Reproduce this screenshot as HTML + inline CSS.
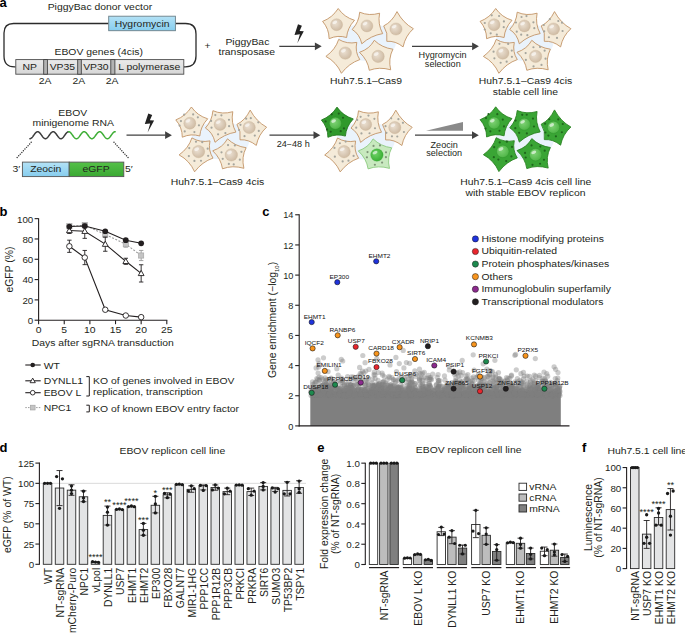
<!DOCTYPE html>
<html><head><meta charset="utf-8"><style>
html,body{margin:0;padding:0;background:#fff;}
svg{display:block;font-family:"Liberation Sans", sans-serif;}
</style></head><body>
<svg width="685" height="633" viewBox="0 0 685 633" fill="#231f20">
<defs>
<linearGradient id="blueg" x1="0" y1="0" x2="0" y2="1"><stop offset="0" stop-color="#b4e2f6"/><stop offset="1" stop-color="#86cdee"/></linearGradient>
<linearGradient id="grayg" x1="0" y1="0" x2="0" y2="1"><stop offset="0" stop-color="#ebebeb"/><stop offset="1" stop-color="#d6d6d6"/></linearGradient>
<linearGradient id="greeng" x1="0" y1="0" x2="0" y2="1"><stop offset="0" stop-color="#55c048"/><stop offset="1" stop-color="#3aa832"/></linearGradient>
<radialGradient id="nucB" cx="0.4" cy="0.4" r="0.65"><stop offset="0" stop-color="#ebe0d2"/><stop offset="1" stop-color="#cdb9a1"/></radialGradient>
<radialGradient id="nucG" cx="0.4" cy="0.4" r="0.65"><stop offset="0" stop-color="#7fd275"/><stop offset="1" stop-color="#4cb444"/></radialGradient>
<radialGradient id="nucG2" cx="0.4" cy="0.4" r="0.65"><stop offset="0" stop-color="#6fd266"/><stop offset="1" stop-color="#36ad31"/></radialGradient>
</defs>
<text x="-0.60" y="6.70" font-size="13" font-weight="bold" fill="#000">a</text>
<text x="47.70" y="9.90" font-size="10.4" transform="matrix(1 0 0 0.93 0 0.693)">PiggyBac donor vector</text>
<path d="M15.6,66.8 L14.5,66.8 Q4,66.8 4,56 L4,33 Q4,23.5 13.5,23.5 L108.5,23.5" fill="none" stroke="#2b2b2b" stroke-width="1.3"/>
<path d="M175.6,23.5 L185.5,23.5 Q196,23.5 196,34 L196,56 Q196,66.8 185.5,66.8 L184,66.8" fill="none" stroke="#2b2b2b" stroke-width="1.3"/>
<rect x="108.70" y="16.20" width="66.70" height="14.50" fill="url(#blueg)" stroke="#6b7f88" stroke-width="0.9"/>
<text x="142.10" y="26.60" font-size="10.4" text-anchor="middle" transform="matrix(1 0 0 0.93 0 1.862)">Hygromycin</text>
<text x="98.70" y="54.60" font-size="10.4" text-anchor="middle" transform="matrix(1 0 0 0.93 0 3.822)">EBOV genes (4cis)</text>
<rect x="15.80" y="59.60" width="168.00" height="14.60" fill="url(#grayg)" stroke="#4d4d4d" stroke-width="0.9"/>
<rect x="43.70" y="59.60" width="3.70" height="14.60" fill="#b3b3b3" stroke="#3d3d3d" stroke-width="0.85"/>
<rect x="77.70" y="59.60" width="3.60" height="14.60" fill="#b3b3b3" stroke="#3d3d3d" stroke-width="0.85"/>
<rect x="110.80" y="59.60" width="4.10" height="14.60" fill="#b3b3b3" stroke="#3d3d3d" stroke-width="0.85"/>
<text x="29.60" y="70.10" font-size="10.4" text-anchor="middle" transform="matrix(1 0 0 0.93 0 4.907)">NP</text>
<text x="62.40" y="70.10" font-size="10.4" text-anchor="middle" transform="matrix(1 0 0 0.93 0 4.907)">VP35</text>
<text x="95.90" y="70.10" font-size="10.4" text-anchor="middle" transform="matrix(1 0 0 0.93 0 4.907)">VP30</text>
<text x="149.20" y="70.10" font-size="10.4" text-anchor="middle" transform="matrix(1 0 0 0.93 0 4.907)">L polymerase</text>
<text x="45.20" y="83.90" font-size="10.4" text-anchor="middle" transform="matrix(1 0 0 0.93 0 5.873)">2A</text>
<text x="78.90" y="83.90" font-size="10.4" text-anchor="middle" transform="matrix(1 0 0 0.93 0 5.873)">2A</text>
<text x="112.10" y="83.90" font-size="10.4" text-anchor="middle" transform="matrix(1 0 0 0.93 0 5.873)">2A</text>
<text x="207.50" y="48.90" font-size="10.4" text-anchor="middle" transform="matrix(1 0 0 0.93 0 3.423)">+</text>
<text x="247.40" y="45.30" font-size="10.4" text-anchor="middle" transform="matrix(1 0 0 0.93 0 3.171)">PiggyBac</text>
<text x="246.80" y="55.00" font-size="10.4" text-anchor="middle" transform="matrix(1 0 0 0.93 0 3.850)">transposase</text>
<path d="M298.00,24.20 L301.90,25.80 L299.60,31.00 L303.80,31.20 L297.30,43.20 L299.90,34.30 L294.50,34.90 Z" fill="#222" stroke="none" stroke-width="1"/>
<line x1="279.30" y1="46.30" x2="315.40" y2="46.30" stroke="#404040" stroke-width="1.3"/>
<path d="M321.70,46.30 L314.90,42.40 L314.90,50.20 Z" fill="#404040" stroke="none" stroke-width="1"/>
<ellipse cx="367.00" cy="42.00" rx="29" ry="19" fill="#eaf3fc"/>
<path d="M338.20,8.50 Q344.23,17.23 354.50,20.30 Q347.34,27.96 346.60,37.50 Q337.94,34.77 329.10,38.70 Q329.06,28.81 322.60,21.40 Q332.43,17.64 338.20,8.50 Z" fill="#f5ebd9" stroke="#bf8f60" stroke-width="0.85" stroke-linejoin="round"/>
<circle cx="336.60" cy="24.70" r="5.99" fill="url(#nucB)" stroke="#c7b093" stroke-width="0.35"/>
<ellipse cx="334.80" cy="22.42" rx="2.52" ry="1.56" fill="#ffffff" opacity="0.6" transform="rotate(-25 334.80 22.42)"/>
<path d="M359.70,12.20 Q369.01,16.28 379.60,13.20 Q377.52,24.20 382.70,33.60 Q370.94,35.52 361.80,43.80 Q359.65,34.00 352.20,29.50 Q358.88,22.31 359.70,12.20 Z" fill="#f5ebd9" stroke="#bf8f60" stroke-width="0.85" stroke-linejoin="round"/>
<circle cx="366.90" cy="25.90" r="5.99" fill="url(#nucB)" stroke="#c7b093" stroke-width="0.35"/>
<ellipse cx="365.10" cy="23.62" rx="2.52" ry="1.56" fill="#ffffff" opacity="0.6" transform="rotate(-25 365.10 23.62)"/>
<path d="M397.00,11.60 Q403.02,22.94 413.40,28.70 Q405.27,36.00 403.10,46.90 Q395.43,40.66 386.80,41.30 Q388.25,32.89 383.70,25.90 Q392.03,21.90 397.00,11.60 Z" fill="#f5ebd9" stroke="#bf8f60" stroke-width="0.85" stroke-linejoin="round"/>
<circle cx="396.00" cy="29.00" r="6.10" fill="url(#nucB)" stroke="#c7b093" stroke-width="0.35"/>
<ellipse cx="394.17" cy="26.68" rx="2.56" ry="1.59" fill="#ffffff" opacity="0.6" transform="rotate(-25 394.17 26.68)"/>
<path d="M338.70,39.40 Q346.91,44.36 356.80,42.40 Q354.72,51.84 359.80,59.60 Q349.02,63.27 341.40,73.30 Q336.48,62.09 325.90,56.40 Q335.48,49.54 338.70,39.40 Z" fill="#f5ebd9" stroke="#bf8f60" stroke-width="0.85" stroke-linejoin="round"/>
<circle cx="345.30" cy="53.10" r="6.21" fill="url(#nucB)" stroke="#c7b093" stroke-width="0.35"/>
<ellipse cx="343.44" cy="50.74" rx="2.61" ry="1.61" fill="#ffffff" opacity="0.6" transform="rotate(-25 343.44 50.74)"/>
<path d="M374.30,40.30 Q381.97,47.77 392.90,49.20 Q388.04,58.69 390.70,69.80 Q379.31,66.50 369.30,70.30 Q367.76,60.02 359.50,52.30 Q369.61,48.92 374.30,40.30 Z" fill="#f5ebd9" stroke="#bf8f60" stroke-width="0.85" stroke-linejoin="round"/>
<circle cx="378.10" cy="56.40" r="6.21" fill="url(#nucB)" stroke="#c7b093" stroke-width="0.35"/>
<ellipse cx="376.24" cy="54.04" rx="2.61" ry="1.61" fill="#ffffff" opacity="0.6" transform="rotate(-25 376.24 54.04)"/>
<text x="366.00" y="84.50" font-size="10.4" text-anchor="middle" transform="matrix(1 0 0 0.93 0 5.915)">Huh7.5.1–Cas9</text>
<line x1="412.00" y1="46.30" x2="472.60" y2="46.30" stroke="#404040" stroke-width="1.3"/>
<path d="M478.90,46.30 L472.10,42.40 L472.10,50.20 Z" fill="#404040" stroke="none" stroke-width="1"/>
<text x="442.60" y="58.20" font-size="9.1" text-anchor="middle" transform="matrix(1 0 0 0.93 0 4.074)">Hygromycin</text>
<text x="442.80" y="66.60" font-size="9.1" text-anchor="middle" transform="matrix(1 0 0 0.93 0 4.662)">selection</text>
<ellipse cx="524.50" cy="42.00" rx="29" ry="19" fill="#eaf3fc"/>
<path d="M495.70,8.50 Q501.73,17.23 512.00,20.30 Q504.84,27.96 504.10,37.50 Q495.44,34.77 486.60,38.70 Q486.56,28.81 480.10,21.40 Q489.93,17.64 495.70,8.50 Z" fill="#f5ebd9" stroke="#bf8f60" stroke-width="0.85" stroke-linejoin="round"/>
<circle cx="499.07" cy="16.00" r="1.10" fill="#a5a59d" stroke="none" stroke-width="1"/>
<circle cx="503.91" cy="21.40" r="1.10" fill="#a5a59d" stroke="none" stroke-width="1"/>
<circle cx="503.74" cy="27.15" r="1.10" fill="#a5a59d" stroke="none" stroke-width="1"/>
<circle cx="496.81" cy="34.64" r="1.10" fill="#a5a59d" stroke="none" stroke-width="1"/>
<circle cx="490.67" cy="33.29" r="1.10" fill="#a5a59d" stroke="none" stroke-width="1"/>
<circle cx="484.77" cy="29.48" r="1.10" fill="#a5a59d" stroke="none" stroke-width="1"/>
<circle cx="484.79" cy="22.98" r="1.10" fill="#a5a59d" stroke="none" stroke-width="1"/>
<circle cx="491.73" cy="15.33" r="1.10" fill="#a5a59d" stroke="none" stroke-width="1"/>
<circle cx="494.10" cy="24.70" r="5.99" fill="url(#nucB)" stroke="#c7b093" stroke-width="0.35"/>
<ellipse cx="492.30" cy="22.42" rx="2.52" ry="1.56" fill="#ffffff" opacity="0.6" transform="rotate(-25 492.30 22.42)"/>
<path d="M517.20,12.20 Q526.51,16.28 537.10,13.20 Q535.02,24.20 540.20,33.60 Q528.44,35.52 519.30,43.80 Q517.15,34.00 509.70,29.50 Q516.38,22.31 517.20,12.20 Z" fill="#f5ebd9" stroke="#bf8f60" stroke-width="0.85" stroke-linejoin="round"/>
<circle cx="526.48" cy="16.09" r="1.10" fill="#a5a59d" stroke="none" stroke-width="1"/>
<circle cx="533.42" cy="22.30" r="1.10" fill="#a5a59d" stroke="none" stroke-width="1"/>
<circle cx="534.31" cy="28.22" r="1.10" fill="#a5a59d" stroke="none" stroke-width="1"/>
<circle cx="527.35" cy="35.20" r="1.10" fill="#a5a59d" stroke="none" stroke-width="1"/>
<circle cx="521.18" cy="34.68" r="1.10" fill="#a5a59d" stroke="none" stroke-width="1"/>
<circle cx="516.77" cy="31.64" r="1.10" fill="#a5a59d" stroke="none" stroke-width="1"/>
<circle cx="515.97" cy="22.49" r="1.10" fill="#a5a59d" stroke="none" stroke-width="1"/>
<circle cx="521.52" cy="17.01" r="1.10" fill="#a5a59d" stroke="none" stroke-width="1"/>
<circle cx="524.40" cy="25.90" r="5.99" fill="url(#nucB)" stroke="#c7b093" stroke-width="0.35"/>
<ellipse cx="522.60" cy="23.62" rx="2.52" ry="1.56" fill="#ffffff" opacity="0.6" transform="rotate(-25 522.60 23.62)"/>
<path d="M554.50,11.60 Q560.52,22.94 570.90,28.70 Q562.77,36.00 560.60,46.90 Q552.93,40.66 544.30,41.30 Q545.75,32.89 541.20,25.90 Q549.53,21.90 554.50,11.60 Z" fill="#f5ebd9" stroke="#bf8f60" stroke-width="0.85" stroke-linejoin="round"/>
<circle cx="558.29" cy="21.02" r="1.10" fill="#a5a59d" stroke="none" stroke-width="1"/>
<circle cx="562.03" cy="22.71" r="1.10" fill="#a5a59d" stroke="none" stroke-width="1"/>
<circle cx="562.56" cy="31.00" r="1.10" fill="#a5a59d" stroke="none" stroke-width="1"/>
<circle cx="557.00" cy="37.96" r="1.10" fill="#a5a59d" stroke="none" stroke-width="1"/>
<circle cx="548.87" cy="37.23" r="1.10" fill="#a5a59d" stroke="none" stroke-width="1"/>
<circle cx="544.21" cy="31.31" r="1.10" fill="#a5a59d" stroke="none" stroke-width="1"/>
<circle cx="543.80" cy="25.00" r="1.10" fill="#a5a59d" stroke="none" stroke-width="1"/>
<circle cx="549.82" cy="19.18" r="1.10" fill="#a5a59d" stroke="none" stroke-width="1"/>
<circle cx="553.50" cy="29.00" r="6.10" fill="url(#nucB)" stroke="#c7b093" stroke-width="0.35"/>
<ellipse cx="551.67" cy="26.68" rx="2.56" ry="1.59" fill="#ffffff" opacity="0.6" transform="rotate(-25 551.67 26.68)"/>
<path d="M496.20,39.40 Q504.41,44.36 514.30,42.40 Q512.22,51.84 517.30,59.60 Q506.52,63.27 498.90,73.30 Q493.98,62.09 483.40,56.40 Q492.98,49.54 496.20,39.40 Z" fill="#f5ebd9" stroke="#bf8f60" stroke-width="0.85" stroke-linejoin="round"/>
<circle cx="508.15" cy="43.91" r="1.10" fill="#a5a59d" stroke="none" stroke-width="1"/>
<circle cx="511.79" cy="50.59" r="1.10" fill="#a5a59d" stroke="none" stroke-width="1"/>
<circle cx="511.91" cy="56.82" r="1.10" fill="#a5a59d" stroke="none" stroke-width="1"/>
<circle cx="506.67" cy="61.67" r="1.10" fill="#a5a59d" stroke="none" stroke-width="1"/>
<circle cx="500.64" cy="62.73" r="1.10" fill="#a5a59d" stroke="none" stroke-width="1"/>
<circle cx="494.39" cy="58.30" r="1.10" fill="#a5a59d" stroke="none" stroke-width="1"/>
<circle cx="493.57" cy="51.71" r="1.10" fill="#a5a59d" stroke="none" stroke-width="1"/>
<circle cx="499.44" cy="43.85" r="1.10" fill="#a5a59d" stroke="none" stroke-width="1"/>
<circle cx="502.80" cy="53.10" r="6.21" fill="url(#nucB)" stroke="#c7b093" stroke-width="0.35"/>
<ellipse cx="500.94" cy="50.74" rx="2.61" ry="1.61" fill="#ffffff" opacity="0.6" transform="rotate(-25 500.94 50.74)"/>
<path d="M531.80,40.30 Q539.47,47.77 550.40,49.20 Q545.54,58.69 548.20,69.80 Q536.81,66.50 526.80,70.30 Q525.26,60.02 517.00,52.30 Q527.11,48.92 531.80,40.30 Z" fill="#f5ebd9" stroke="#bf8f60" stroke-width="0.85" stroke-linejoin="round"/>
<circle cx="540.04" cy="46.92" r="1.10" fill="#a5a59d" stroke="none" stroke-width="1"/>
<circle cx="544.62" cy="50.63" r="1.10" fill="#a5a59d" stroke="none" stroke-width="1"/>
<circle cx="545.56" cy="58.64" r="1.10" fill="#a5a59d" stroke="none" stroke-width="1"/>
<circle cx="541.50" cy="64.89" r="1.10" fill="#a5a59d" stroke="none" stroke-width="1"/>
<circle cx="533.53" cy="66.46" r="1.10" fill="#a5a59d" stroke="none" stroke-width="1"/>
<circle cx="525.85" cy="59.88" r="1.10" fill="#a5a59d" stroke="none" stroke-width="1"/>
<circle cx="525.64" cy="53.05" r="1.10" fill="#a5a59d" stroke="none" stroke-width="1"/>
<circle cx="533.44" cy="47.27" r="1.10" fill="#a5a59d" stroke="none" stroke-width="1"/>
<circle cx="535.60" cy="56.40" r="6.21" fill="url(#nucB)" stroke="#c7b093" stroke-width="0.35"/>
<ellipse cx="533.74" cy="54.04" rx="2.61" ry="1.61" fill="#ffffff" opacity="0.6" transform="rotate(-25 533.74 54.04)"/>
<text x="525.50" y="84.30" font-size="10.4" text-anchor="middle" transform="matrix(1 0 0 0.93 0 5.901)">Huh7.5.1–Cas9 4cis</text>
<text x="525.40" y="94.90" font-size="10.4" text-anchor="middle" transform="matrix(1 0 0 0.93 0 6.643)">stable cell line</text>
<text x="72.80" y="115.70" font-size="10.4" text-anchor="middle" transform="matrix(1 0 0 0.93 0 8.099)">EBOV</text>
<text x="73.20" y="126.00" font-size="10.4" text-anchor="middle" transform="matrix(1 0 0 0.93 0 8.820)">minigenome RNA</text>
<path d="M29.90,138.70 L30.23,138.67 L30.56,138.57 L30.89,138.42 L31.22,138.21 L31.55,137.94 L31.88,137.63 L32.22,137.27 L32.55,136.87 L32.88,136.45 L33.21,136.00 L33.54,135.54 L33.87,135.07 L34.20,134.60 L34.53,134.14 L34.86,133.71 L35.19,133.30 L35.52,132.92 L35.85,132.59 L36.18,132.30 L36.52,132.06 L36.85,131.88 L37.18,131.76 L37.51,131.71 L37.84,131.71 L38.17,131.78 L38.50,131.91 L38.83,132.09 L39.16,132.34 L39.49,132.63 L39.82,132.97 L40.15,133.35 L40.48,133.77 L40.82,134.21 L41.15,134.66 L41.48,135.13 L41.81,135.60 L42.14,136.06 L42.47,136.51 L42.80,136.93 L43.13,137.32 L43.46,137.67 L43.79,137.98 L44.12,138.24 L44.45,138.45 L44.78,138.59 L45.12,138.68 L45.45,138.70 L45.78,138.66 L46.11,138.56 L46.44,138.39 L46.77,138.17 L47.10,137.90 L47.43,137.58 L47.76,137.22 L48.09,136.81 L48.42,136.38 L48.75,135.93 L49.08,135.47 L49.42,135.00 L49.75,134.54 L50.08,134.08 L50.41,133.65 L50.74,133.24 L51.07,132.87 L51.40,132.54 L51.73,132.26 L52.06,132.04 L52.39,131.86 L52.72,131.75 L53.05,131.70 L53.38,131.72 L53.72,131.79 L54.05,131.93 L54.38,132.12 L54.71,132.37 L55.04,132.68 L55.37,133.02 L55.70,133.41 L56.03,133.83 L56.36,134.27 L56.69,134.73 L57.02,135.20 L57.35,135.67 L57.68,136.12 L58.02,136.57 L58.35,136.99 L58.68,137.37 L59.01,137.72 L59.34,138.02 L59.67,138.27 L60.00,138.47 L60.33,138.61 L60.66,138.68 L60.99,138.70 L61.32,138.65 L61.65,138.54 L61.98,138.37 L62.32,138.14 L62.65,137.86 L62.98,137.53 L63.31,137.16 L63.64,136.76 L63.97,136.32 L64.30,135.87 L64.63,135.40 L64.96,134.94 L65.29,134.47 L65.62,134.02 L65.95,133.59 L66.28,133.19 L66.62,132.82 L66.95,132.50 L67.28,132.23 L67.61,132.01 L67.94,131.84 L68.27,131.74 L68.60,131.70" fill="none" stroke="#3d3d3d" stroke-width="1.5" stroke-linecap="round"/>
<path d="M68.60,131.70 L68.93,131.72 L69.27,131.81 L69.60,131.96 L69.93,132.16 L70.26,132.42 L70.60,132.73 L70.93,133.09 L71.26,133.49 L71.60,133.91 L71.93,134.36 L72.26,134.83 L72.59,135.30 L72.93,135.77 L73.26,136.23 L73.59,136.67 L73.93,137.08 L74.26,137.46 L74.59,137.80 L74.92,138.09 L75.26,138.33 L75.59,138.51 L75.92,138.63 L76.26,138.69 L76.59,138.69 L76.92,138.62 L77.25,138.49 L77.59,138.30 L77.92,138.06 L78.25,137.76 L78.59,137.41 L78.92,137.03 L79.25,136.61 L79.58,136.17 L79.92,135.71 L80.25,135.24 L80.58,134.76 L80.92,134.30 L81.25,133.85 L81.58,133.43 L81.91,133.04 L82.25,132.69 L82.58,132.39 L82.91,132.13 L83.25,131.93 L83.58,131.79 L83.91,131.72 L84.24,131.70 L84.58,131.75 L84.91,131.86 L85.24,132.04 L85.58,132.27 L85.91,132.55 L86.24,132.88 L86.57,133.26 L86.91,133.67 L87.24,134.10 L87.57,134.56 L87.91,135.03 L88.24,135.50 L88.57,135.97 L88.90,136.42 L89.24,136.85 L89.57,137.25 L89.90,137.61 L90.24,137.93 L90.57,138.20 L90.90,138.42 L91.23,138.57 L91.57,138.67 L91.90,138.70 L92.23,138.67 L92.57,138.57 L92.90,138.42 L93.23,138.20 L93.56,137.93 L93.90,137.61 L94.23,137.25 L94.56,136.85 L94.90,136.42 L95.23,135.97 L95.56,135.50 L95.89,135.03 L96.23,134.56 L96.56,134.10 L96.89,133.67 L97.23,133.26 L97.56,132.88 L97.89,132.55 L98.22,132.27 L98.56,132.04 L98.89,131.86 L99.22,131.75 L99.56,131.70 L99.89,131.72 L100.22,131.79 L100.55,131.93 L100.89,132.13 L101.22,132.39 L101.55,132.69 L101.89,133.04 L102.22,133.43 L102.55,133.85 L102.88,134.30 L103.22,134.76 L103.55,135.24 L103.88,135.71 L104.22,136.17 L104.55,136.61 L104.88,137.03 L105.21,137.41 L105.55,137.76 L105.88,138.06 L106.21,138.30 L106.55,138.49 L106.88,138.62 L107.21,138.69 L107.54,138.69 L107.88,138.63 L108.21,138.51 L108.54,138.33 L108.88,138.09 L109.21,137.80 L109.54,137.46 L109.87,137.08 L110.21,136.67 L110.54,136.23 L110.87,135.77 L111.21,135.30 L111.54,134.83 L111.87,134.36 L112.20,133.91 L112.54,133.49 L112.87,133.09 L113.20,132.73 L113.54,132.42 L113.87,132.16 L114.20,131.96 L114.53,131.81 L114.87,131.72 L115.20,131.70" fill="none" stroke="#3fae37" stroke-width="1.5" stroke-linecap="round"/>
<line x1="31.20" y1="142.30" x2="15.60" y2="159.20" stroke="#333" stroke-width="1.45" stroke-dasharray="0 2.3" stroke-linecap="round"/>
<line x1="114.00" y1="142.30" x2="129.60" y2="159.20" stroke="#333" stroke-width="1.45" stroke-dasharray="0 2.3" stroke-linecap="round"/>
<rect x="22.40" y="162.10" width="46.80" height="14.50" fill="url(#blueg)" stroke="#555" stroke-width="0.9"/>
<rect x="69.20" y="162.10" width="54.60" height="14.50" fill="url(#greeng)" stroke="#555" stroke-width="0.9"/>
<text x="45.80" y="172.50" font-size="10.4" text-anchor="middle" transform="matrix(1 0 0 0.93 0 12.075)">Zeocin</text>
<text x="96.00" y="172.50" font-size="10.4" text-anchor="middle" transform="matrix(1 0 0 0.93 0 12.075)">eGFP</text>
<text x="12.60" y="172.50" font-size="10.4" transform="matrix(1 0 0 0.93 0 12.075)">3′</text>
<text x="125.00" y="172.50" font-size="10.4" transform="matrix(1 0 0 0.93 0 12.075)">5′</text>
<path d="M148.30,113.40 L152.20,115.00 L149.90,120.20 L154.10,120.40 L147.60,132.40 L150.20,123.50 L144.80,124.10 Z" fill="#222" stroke="none" stroke-width="1"/>
<line x1="126.50" y1="135.20" x2="165.60" y2="135.20" stroke="#404040" stroke-width="1.3"/>
<path d="M171.90,135.20 L165.10,131.30 L165.10,139.10 Z" fill="#404040" stroke="none" stroke-width="1"/>
<ellipse cx="220.20" cy="140.50" rx="29" ry="19" fill="#eaf3fc"/>
<path d="M191.40,107.00 Q197.43,115.73 207.70,118.80 Q200.54,126.46 199.80,136.00 Q191.14,133.27 182.30,137.20 Q182.26,127.31 175.80,119.90 Q185.63,116.14 191.40,107.00 Z" fill="#f5ebd9" stroke="#bf8f60" stroke-width="0.85" stroke-linejoin="round"/>
<circle cx="193.17" cy="114.40" r="1.10" fill="#a5a59d" stroke="none" stroke-width="1"/>
<circle cx="197.84" cy="117.30" r="1.10" fill="#a5a59d" stroke="none" stroke-width="1"/>
<circle cx="198.94" cy="125.32" r="1.10" fill="#a5a59d" stroke="none" stroke-width="1"/>
<circle cx="194.39" cy="132.03" r="1.10" fill="#a5a59d" stroke="none" stroke-width="1"/>
<circle cx="184.71" cy="131.44" r="1.10" fill="#a5a59d" stroke="none" stroke-width="1"/>
<circle cx="179.59" cy="125.59" r="1.10" fill="#a5a59d" stroke="none" stroke-width="1"/>
<circle cx="180.96" cy="121.03" r="1.10" fill="#a5a59d" stroke="none" stroke-width="1"/>
<circle cx="184.19" cy="114.62" r="1.10" fill="#a5a59d" stroke="none" stroke-width="1"/>
<circle cx="189.80" cy="123.20" r="5.99" fill="url(#nucB)" stroke="#c7b093" stroke-width="0.35"/>
<ellipse cx="188.00" cy="120.92" rx="2.52" ry="1.56" fill="#ffffff" opacity="0.6" transform="rotate(-25 188.00 120.92)"/>
<path d="M212.90,110.70 Q222.21,114.78 232.80,111.70 Q230.72,122.70 235.90,132.10 Q224.14,134.02 215.00,142.30 Q212.85,132.50 205.40,128.00 Q212.07,120.81 212.90,110.70 Z" fill="#f5ebd9" stroke="#bf8f60" stroke-width="0.85" stroke-linejoin="round"/>
<circle cx="221.42" cy="115.34" r="1.10" fill="#a5a59d" stroke="none" stroke-width="1"/>
<circle cx="228.98" cy="119.76" r="1.10" fill="#a5a59d" stroke="none" stroke-width="1"/>
<circle cx="229.08" cy="126.20" r="1.10" fill="#a5a59d" stroke="none" stroke-width="1"/>
<circle cx="225.38" cy="133.04" r="1.10" fill="#a5a59d" stroke="none" stroke-width="1"/>
<circle cx="218.08" cy="134.30" r="1.10" fill="#a5a59d" stroke="none" stroke-width="1"/>
<circle cx="211.52" cy="127.71" r="1.10" fill="#a5a59d" stroke="none" stroke-width="1"/>
<circle cx="211.07" cy="120.96" r="1.10" fill="#a5a59d" stroke="none" stroke-width="1"/>
<circle cx="215.32" cy="115.06" r="1.10" fill="#a5a59d" stroke="none" stroke-width="1"/>
<circle cx="220.10" cy="124.40" r="5.99" fill="url(#nucB)" stroke="#c7b093" stroke-width="0.35"/>
<ellipse cx="218.30" cy="122.12" rx="2.52" ry="1.56" fill="#ffffff" opacity="0.6" transform="rotate(-25 218.30 122.12)"/>
<path d="M250.20,110.10 Q256.22,121.44 266.60,127.20 Q258.47,134.50 256.30,145.40 Q248.63,139.16 240.00,139.80 Q241.45,131.39 236.90,124.40 Q245.23,120.40 250.20,110.10 Z" fill="#f5ebd9" stroke="#bf8f60" stroke-width="0.85" stroke-linejoin="round"/>
<circle cx="250.81" cy="118.22" r="1.10" fill="#a5a59d" stroke="none" stroke-width="1"/>
<circle cx="258.27" cy="122.32" r="1.10" fill="#a5a59d" stroke="none" stroke-width="1"/>
<circle cx="258.77" cy="130.97" r="1.10" fill="#a5a59d" stroke="none" stroke-width="1"/>
<circle cx="254.80" cy="135.62" r="1.10" fill="#a5a59d" stroke="none" stroke-width="1"/>
<circle cx="244.52" cy="136.21" r="1.10" fill="#a5a59d" stroke="none" stroke-width="1"/>
<circle cx="239.10" cy="130.08" r="1.10" fill="#a5a59d" stroke="none" stroke-width="1"/>
<circle cx="240.49" cy="124.85" r="1.10" fill="#a5a59d" stroke="none" stroke-width="1"/>
<circle cx="246.20" cy="118.71" r="1.10" fill="#a5a59d" stroke="none" stroke-width="1"/>
<circle cx="249.20" cy="127.50" r="6.10" fill="url(#nucB)" stroke="#c7b093" stroke-width="0.35"/>
<ellipse cx="247.37" cy="125.18" rx="2.56" ry="1.59" fill="#ffffff" opacity="0.6" transform="rotate(-25 247.37 125.18)"/>
<path d="M191.90,137.90 Q200.11,142.86 210.00,140.90 Q207.92,150.34 213.00,158.10 Q202.22,161.77 194.60,171.80 Q189.68,160.59 179.10,154.90 Q188.68,148.04 191.90,137.90 Z" fill="#f5ebd9" stroke="#bf8f60" stroke-width="0.85" stroke-linejoin="round"/>
<circle cx="202.25" cy="142.16" r="1.10" fill="#a5a59d" stroke="none" stroke-width="1"/>
<circle cx="207.68" cy="148.72" r="1.10" fill="#a5a59d" stroke="none" stroke-width="1"/>
<circle cx="208.16" cy="155.83" r="1.10" fill="#a5a59d" stroke="none" stroke-width="1"/>
<circle cx="200.99" cy="160.75" r="1.10" fill="#a5a59d" stroke="none" stroke-width="1"/>
<circle cx="194.44" cy="160.88" r="1.10" fill="#a5a59d" stroke="none" stroke-width="1"/>
<circle cx="188.84" cy="156.09" r="1.10" fill="#a5a59d" stroke="none" stroke-width="1"/>
<circle cx="189.26" cy="148.11" r="1.10" fill="#a5a59d" stroke="none" stroke-width="1"/>
<circle cx="195.98" cy="141.76" r="1.10" fill="#a5a59d" stroke="none" stroke-width="1"/>
<circle cx="198.50" cy="151.60" r="6.21" fill="url(#nucB)" stroke="#c7b093" stroke-width="0.35"/>
<ellipse cx="196.64" cy="149.24" rx="2.61" ry="1.61" fill="#ffffff" opacity="0.6" transform="rotate(-25 196.64 149.24)"/>
<path d="M227.50,138.80 Q235.17,146.27 246.10,147.70 Q241.24,157.19 243.90,168.30 Q232.51,165.00 222.50,168.80 Q220.96,158.52 212.70,150.80 Q222.81,147.42 227.50,138.80 Z" fill="#f5ebd9" stroke="#bf8f60" stroke-width="0.85" stroke-linejoin="round"/>
<circle cx="234.86" cy="145.47" r="1.10" fill="#a5a59d" stroke="none" stroke-width="1"/>
<circle cx="241.41" cy="151.86" r="1.10" fill="#a5a59d" stroke="none" stroke-width="1"/>
<circle cx="239.82" cy="159.65" r="1.10" fill="#a5a59d" stroke="none" stroke-width="1"/>
<circle cx="233.72" cy="164.44" r="1.10" fill="#a5a59d" stroke="none" stroke-width="1"/>
<circle cx="228.83" cy="163.91" r="1.10" fill="#a5a59d" stroke="none" stroke-width="1"/>
<circle cx="222.73" cy="158.85" r="1.10" fill="#a5a59d" stroke="none" stroke-width="1"/>
<circle cx="221.50" cy="152.35" r="1.10" fill="#a5a59d" stroke="none" stroke-width="1"/>
<circle cx="228.04" cy="145.09" r="1.10" fill="#a5a59d" stroke="none" stroke-width="1"/>
<circle cx="231.30" cy="154.90" r="6.21" fill="url(#nucB)" stroke="#c7b093" stroke-width="0.35"/>
<ellipse cx="229.44" cy="152.54" rx="2.61" ry="1.61" fill="#ffffff" opacity="0.6" transform="rotate(-25 229.44 152.54)"/>
<text x="217.50" y="184.80" font-size="10.4" text-anchor="middle" transform="matrix(1 0 0 0.93 0 12.936)">Huh7.5.1–Cas9 4cis</text>
<line x1="269.50" y1="135.20" x2="314.00" y2="135.20" stroke="#404040" stroke-width="1.3"/>
<path d="M320.30,135.20 L313.50,131.30 L313.50,139.10 Z" fill="#404040" stroke="none" stroke-width="1"/>
<text x="293.20" y="147.20" font-size="9.1" text-anchor="middle" transform="matrix(1 0 0 0.93 0 10.304)">24−48 h</text>
<ellipse cx="365.80" cy="140.60" rx="29" ry="19" fill="#eaf3fc"/>
<path d="M337.00,107.10 Q343.03,115.83 353.30,118.90 Q346.14,126.56 345.40,136.10 Q336.74,133.37 327.90,137.30 Q327.86,127.41 321.40,120.00 Q331.23,116.24 337.00,107.10 Z" fill="#30992c" stroke="#24781f" stroke-width="0.85" stroke-linejoin="round"/>
<circle cx="338.76" cy="113.55" r="1.10" fill="#1f5f1c" stroke="none" stroke-width="1"/>
<circle cx="342.99" cy="117.73" r="1.10" fill="#1f5f1c" stroke="none" stroke-width="1"/>
<circle cx="343.95" cy="128.46" r="1.10" fill="#1f5f1c" stroke="none" stroke-width="1"/>
<circle cx="340.71" cy="131.20" r="1.10" fill="#1f5f1c" stroke="none" stroke-width="1"/>
<circle cx="330.70" cy="131.73" r="1.10" fill="#1f5f1c" stroke="none" stroke-width="1"/>
<circle cx="327.07" cy="129.42" r="1.10" fill="#1f5f1c" stroke="none" stroke-width="1"/>
<circle cx="325.63" cy="121.38" r="1.10" fill="#1f5f1c" stroke="none" stroke-width="1"/>
<circle cx="331.75" cy="114.33" r="1.10" fill="#1f5f1c" stroke="none" stroke-width="1"/>
<circle cx="335.40" cy="123.30" r="5.99" fill="url(#nucG)" stroke="#2a8a26" stroke-width="0.35"/>
<ellipse cx="333.60" cy="121.02" rx="2.52" ry="1.56" fill="#ffffff" opacity="0.6" transform="rotate(-25 333.60 121.02)"/>
<path d="M358.50,110.80 Q367.81,114.88 378.40,111.80 Q376.32,122.80 381.50,132.20 Q369.74,134.12 360.60,142.40 Q358.45,132.60 351.00,128.10 Q357.68,120.91 358.50,110.80 Z" fill="#f5ebd9" stroke="#bf8f60" stroke-width="0.85" stroke-linejoin="round"/>
<circle cx="368.45" cy="115.58" r="1.10" fill="#a5a59d" stroke="none" stroke-width="1"/>
<circle cx="374.39" cy="118.85" r="1.10" fill="#a5a59d" stroke="none" stroke-width="1"/>
<circle cx="375.01" cy="128.24" r="1.10" fill="#a5a59d" stroke="none" stroke-width="1"/>
<circle cx="369.55" cy="133.26" r="1.10" fill="#a5a59d" stroke="none" stroke-width="1"/>
<circle cx="361.45" cy="133.39" r="1.10" fill="#a5a59d" stroke="none" stroke-width="1"/>
<circle cx="356.22" cy="127.63" r="1.10" fill="#a5a59d" stroke="none" stroke-width="1"/>
<circle cx="357.19" cy="119.95" r="1.10" fill="#a5a59d" stroke="none" stroke-width="1"/>
<circle cx="360.64" cy="116.79" r="1.10" fill="#a5a59d" stroke="none" stroke-width="1"/>
<circle cx="365.70" cy="124.50" r="5.99" fill="url(#nucB)" stroke="#c7b093" stroke-width="0.35"/>
<ellipse cx="363.90" cy="122.22" rx="2.52" ry="1.56" fill="#ffffff" opacity="0.6" transform="rotate(-25 363.90 122.22)"/>
<path d="M395.80,110.20 Q401.82,121.54 412.20,127.30 Q404.07,134.60 401.90,145.50 Q394.23,139.26 385.60,139.90 Q387.05,131.49 382.50,124.50 Q390.83,120.50 395.80,110.20 Z" fill="#f5ebd9" stroke="#bf8f60" stroke-width="0.85" stroke-linejoin="round"/>
<circle cx="398.42" cy="119.21" r="1.10" fill="#a5a59d" stroke="none" stroke-width="1"/>
<circle cx="402.94" cy="122.83" r="1.10" fill="#a5a59d" stroke="none" stroke-width="1"/>
<circle cx="403.92" cy="131.98" r="1.10" fill="#a5a59d" stroke="none" stroke-width="1"/>
<circle cx="397.28" cy="136.49" r="1.10" fill="#a5a59d" stroke="none" stroke-width="1"/>
<circle cx="391.96" cy="136.29" r="1.10" fill="#a5a59d" stroke="none" stroke-width="1"/>
<circle cx="386.42" cy="132.79" r="1.10" fill="#a5a59d" stroke="none" stroke-width="1"/>
<circle cx="385.51" cy="126.19" r="1.10" fill="#a5a59d" stroke="none" stroke-width="1"/>
<circle cx="391.18" cy="118.37" r="1.10" fill="#a5a59d" stroke="none" stroke-width="1"/>
<circle cx="394.80" cy="127.60" r="6.10" fill="url(#nucB)" stroke="#c7b093" stroke-width="0.35"/>
<ellipse cx="392.97" cy="125.28" rx="2.56" ry="1.59" fill="#ffffff" opacity="0.6" transform="rotate(-25 392.97 125.28)"/>
<path d="M337.50,138.00 Q345.71,142.96 355.60,141.00 Q353.52,150.44 358.60,158.20 Q347.82,161.87 340.20,171.90 Q335.28,160.69 324.70,155.00 Q334.28,148.14 337.50,138.00 Z" fill="#f5ebd9" stroke="#bf8f60" stroke-width="0.85" stroke-linejoin="round"/>
<circle cx="345.69" cy="141.57" r="1.10" fill="#a5a59d" stroke="none" stroke-width="1"/>
<circle cx="352.35" cy="146.23" r="1.10" fill="#a5a59d" stroke="none" stroke-width="1"/>
<circle cx="353.59" cy="155.95" r="1.10" fill="#a5a59d" stroke="none" stroke-width="1"/>
<circle cx="348.48" cy="160.64" r="1.10" fill="#a5a59d" stroke="none" stroke-width="1"/>
<circle cx="342.65" cy="161.45" r="1.10" fill="#a5a59d" stroke="none" stroke-width="1"/>
<circle cx="334.85" cy="156.63" r="1.10" fill="#a5a59d" stroke="none" stroke-width="1"/>
<circle cx="334.46" cy="147.97" r="1.10" fill="#a5a59d" stroke="none" stroke-width="1"/>
<circle cx="339.86" cy="143.23" r="1.10" fill="#a5a59d" stroke="none" stroke-width="1"/>
<circle cx="344.10" cy="151.70" r="6.21" fill="url(#nucB)" stroke="#c7b093" stroke-width="0.35"/>
<ellipse cx="342.24" cy="149.34" rx="2.61" ry="1.61" fill="#ffffff" opacity="0.6" transform="rotate(-25 342.24 149.34)"/>
<path d="M373.10,138.90 Q380.77,146.37 391.70,147.80 Q386.84,157.29 389.50,168.40 Q378.11,165.10 368.10,168.90 Q366.56,158.62 358.30,150.90 Q368.41,147.52 373.10,138.90 Z" fill="#c8e9bf" stroke="#86c878" stroke-width="0.85" stroke-linejoin="round"/>
<circle cx="379.96" cy="145.46" r="1.10" fill="#7f9478" stroke="none" stroke-width="1"/>
<circle cx="385.99" cy="152.34" r="1.10" fill="#7f9478" stroke="none" stroke-width="1"/>
<circle cx="385.90" cy="157.14" r="1.10" fill="#7f9478" stroke="none" stroke-width="1"/>
<circle cx="382.08" cy="162.62" r="1.10" fill="#7f9478" stroke="none" stroke-width="1"/>
<circle cx="374.87" cy="164.77" r="1.10" fill="#7f9478" stroke="none" stroke-width="1"/>
<circle cx="366.93" cy="157.35" r="1.10" fill="#7f9478" stroke="none" stroke-width="1"/>
<circle cx="367.52" cy="152.12" r="1.10" fill="#7f9478" stroke="none" stroke-width="1"/>
<circle cx="373.52" cy="145.91" r="1.10" fill="#7f9478" stroke="none" stroke-width="1"/>
<circle cx="376.90" cy="155.00" r="6.21" fill="url(#nucG2)" stroke="#38a834" stroke-width="0.35"/>
<ellipse cx="375.04" cy="152.64" rx="2.61" ry="1.61" fill="#ffffff" opacity="0.6" transform="rotate(-25 375.04 152.64)"/>
<line x1="415.00" y1="135.20" x2="472.50" y2="135.20" stroke="#404040" stroke-width="1.3"/>
<path d="M478.80,135.20 L472.00,131.30 L472.00,139.10 Z" fill="#404040" stroke="none" stroke-width="1"/>
<path d="M426,130.8 L463,130.8 L463,122 Z" fill="#8a8a8a" stroke="none" stroke-width="1"/>
<text x="444.20" y="147.60" font-size="9.1" text-anchor="middle" transform="matrix(1 0 0 0.93 0 10.332)">Zeocin</text>
<text x="444.20" y="156.10" font-size="9.1" text-anchor="middle" transform="matrix(1 0 0 0.93 0 10.927)">selection</text>
<ellipse cx="524.50" cy="140.30" rx="29" ry="19" fill="#eaf3fc"/>
<path d="M495.70,106.80 Q501.73,115.53 512.00,118.60 Q504.84,126.26 504.10,135.80 Q495.44,133.07 486.60,137.00 Q486.56,127.11 480.10,119.70 Q489.93,115.94 495.70,106.80 Z" fill="#3aa535" stroke="#27801f" stroke-width="0.85" stroke-linejoin="round"/>
<circle cx="497.30" cy="114.17" r="1.10" fill="#1f661c" stroke="none" stroke-width="1"/>
<circle cx="502.79" cy="119.54" r="1.10" fill="#1f661c" stroke="none" stroke-width="1"/>
<circle cx="503.96" cy="126.46" r="1.10" fill="#1f661c" stroke="none" stroke-width="1"/>
<circle cx="499.52" cy="130.76" r="1.10" fill="#1f661c" stroke="none" stroke-width="1"/>
<circle cx="490.36" cy="131.32" r="1.10" fill="#1f661c" stroke="none" stroke-width="1"/>
<circle cx="485.55" cy="128.62" r="1.10" fill="#1f661c" stroke="none" stroke-width="1"/>
<circle cx="486.03" cy="118.05" r="1.10" fill="#1f661c" stroke="none" stroke-width="1"/>
<circle cx="488.49" cy="114.18" r="1.10" fill="#1f661c" stroke="none" stroke-width="1"/>
<circle cx="494.10" cy="123.00" r="5.99" fill="url(#nucG)" stroke="#2a8a26" stroke-width="0.35"/>
<ellipse cx="492.30" cy="120.72" rx="2.52" ry="1.56" fill="#ffffff" opacity="0.6" transform="rotate(-25 492.30 120.72)"/>
<path d="M517.20,110.50 Q526.51,114.58 537.10,111.50 Q535.02,122.50 540.20,131.90 Q528.44,133.82 519.30,142.10 Q517.15,132.30 509.70,127.80 Q516.38,120.61 517.20,110.50 Z" fill="#3aa535" stroke="#27801f" stroke-width="0.85" stroke-linejoin="round"/>
<circle cx="526.73" cy="114.74" r="1.10" fill="#1f661c" stroke="none" stroke-width="1"/>
<circle cx="532.96" cy="118.61" r="1.10" fill="#1f661c" stroke="none" stroke-width="1"/>
<circle cx="533.95" cy="126.50" r="1.10" fill="#1f661c" stroke="none" stroke-width="1"/>
<circle cx="526.84" cy="133.47" r="1.10" fill="#1f661c" stroke="none" stroke-width="1"/>
<circle cx="519.17" cy="132.83" r="1.10" fill="#1f661c" stroke="none" stroke-width="1"/>
<circle cx="515.31" cy="128.22" r="1.10" fill="#1f661c" stroke="none" stroke-width="1"/>
<circle cx="515.57" cy="120.62" r="1.10" fill="#1f661c" stroke="none" stroke-width="1"/>
<circle cx="522.23" cy="114.85" r="1.10" fill="#1f661c" stroke="none" stroke-width="1"/>
<circle cx="524.40" cy="124.20" r="5.99" fill="url(#nucG)" stroke="#2a8a26" stroke-width="0.35"/>
<ellipse cx="522.60" cy="121.92" rx="2.52" ry="1.56" fill="#ffffff" opacity="0.6" transform="rotate(-25 522.60 121.92)"/>
<path d="M554.50,109.90 Q560.52,121.24 570.90,127.00 Q562.77,134.30 560.60,145.20 Q552.93,138.96 544.30,139.60 Q545.75,131.19 541.20,124.20 Q549.53,120.20 554.50,109.90 Z" fill="#3aa535" stroke="#27801f" stroke-width="0.85" stroke-linejoin="round"/>
<circle cx="558.29" cy="119.47" r="1.10" fill="#1f661c" stroke="none" stroke-width="1"/>
<circle cx="562.76" cy="124.01" r="1.10" fill="#1f661c" stroke="none" stroke-width="1"/>
<circle cx="561.86" cy="132.24" r="1.10" fill="#1f661c" stroke="none" stroke-width="1"/>
<circle cx="555.91" cy="136.32" r="1.10" fill="#1f661c" stroke="none" stroke-width="1"/>
<circle cx="548.37" cy="135.55" r="1.10" fill="#1f661c" stroke="none" stroke-width="1"/>
<circle cx="545.40" cy="132.48" r="1.10" fill="#1f661c" stroke="none" stroke-width="1"/>
<circle cx="545.09" cy="123.70" r="1.10" fill="#1f661c" stroke="none" stroke-width="1"/>
<circle cx="549.26" cy="119.23" r="1.10" fill="#1f661c" stroke="none" stroke-width="1"/>
<circle cx="553.50" cy="127.30" r="6.10" fill="url(#nucG)" stroke="#2a8a26" stroke-width="0.35"/>
<ellipse cx="551.67" cy="124.98" rx="2.56" ry="1.59" fill="#ffffff" opacity="0.6" transform="rotate(-25 551.67 124.98)"/>
<path d="M496.20,137.70 Q504.41,142.66 514.30,140.70 Q512.22,150.14 517.30,157.90 Q506.52,161.57 498.90,171.60 Q493.98,160.39 483.40,154.70 Q492.98,147.84 496.20,137.70 Z" fill="#3aa535" stroke="#27801f" stroke-width="0.85" stroke-linejoin="round"/>
<circle cx="506.89" cy="141.68" r="1.10" fill="#1f661c" stroke="none" stroke-width="1"/>
<circle cx="512.03" cy="146.89" r="1.10" fill="#1f661c" stroke="none" stroke-width="1"/>
<circle cx="511.41" cy="156.47" r="1.10" fill="#1f661c" stroke="none" stroke-width="1"/>
<circle cx="506.22" cy="161.11" r="1.10" fill="#1f661c" stroke="none" stroke-width="1"/>
<circle cx="498.37" cy="159.53" r="1.10" fill="#1f661c" stroke="none" stroke-width="1"/>
<circle cx="493.82" cy="157.22" r="1.10" fill="#1f661c" stroke="none" stroke-width="1"/>
<circle cx="494.17" cy="147.20" r="1.10" fill="#1f661c" stroke="none" stroke-width="1"/>
<circle cx="499.69" cy="142.47" r="1.10" fill="#1f661c" stroke="none" stroke-width="1"/>
<circle cx="502.80" cy="151.40" r="6.21" fill="url(#nucG)" stroke="#2a8a26" stroke-width="0.35"/>
<ellipse cx="500.94" cy="149.04" rx="2.61" ry="1.61" fill="#ffffff" opacity="0.6" transform="rotate(-25 500.94 149.04)"/>
<path d="M531.80,138.60 Q539.47,146.07 550.40,147.50 Q545.54,156.99 548.20,168.10 Q536.81,164.80 526.80,168.60 Q525.26,158.32 517.00,150.60 Q527.11,147.22 531.80,138.60 Z" fill="#3aa535" stroke="#27801f" stroke-width="0.85" stroke-linejoin="round"/>
<circle cx="540.30" cy="146.54" r="1.10" fill="#1f661c" stroke="none" stroke-width="1"/>
<circle cx="544.70" cy="150.72" r="1.10" fill="#1f661c" stroke="none" stroke-width="1"/>
<circle cx="543.98" cy="159.74" r="1.10" fill="#1f661c" stroke="none" stroke-width="1"/>
<circle cx="540.06" cy="163.73" r="1.10" fill="#1f661c" stroke="none" stroke-width="1"/>
<circle cx="532.48" cy="164.80" r="1.10" fill="#1f661c" stroke="none" stroke-width="1"/>
<circle cx="525.70" cy="157.52" r="1.10" fill="#1f661c" stroke="none" stroke-width="1"/>
<circle cx="525.05" cy="152.96" r="1.10" fill="#1f661c" stroke="none" stroke-width="1"/>
<circle cx="531.52" cy="145.46" r="1.10" fill="#1f661c" stroke="none" stroke-width="1"/>
<circle cx="535.60" cy="154.70" r="6.21" fill="url(#nucG)" stroke="#2a8a26" stroke-width="0.35"/>
<ellipse cx="533.74" cy="152.34" rx="2.61" ry="1.61" fill="#ffffff" opacity="0.6" transform="rotate(-25 533.74 152.34)"/>
<text x="525.70" y="184.80" font-size="10.4" text-anchor="middle" transform="matrix(1 0 0 0.93 0 12.936)">Huh7.5.1–Cas9 4cis cell line</text>
<text x="525.50" y="196.10" font-size="10.4" text-anchor="middle" transform="matrix(1 0 0 0.93 0 13.727)">with stable EBOV replicon</text>
<text x="-0.60" y="215.80" font-size="13" font-weight="bold" fill="#000">b</text>
<line x1="38.60" y1="218.30" x2="38.60" y2="320.70" stroke="#231f20" stroke-width="1.1"/>
<line x1="38.10" y1="320.20" x2="167.30" y2="320.20" stroke="#231f20" stroke-width="1.1"/>
<line x1="34.60" y1="320.20" x2="38.60" y2="320.20" stroke="#231f20" stroke-width="1.1"/>
<text x="33.30" y="324.10" font-size="9.8" text-anchor="end" transform="matrix(1 0 0 0.93 0 22.687)">0</text>
<line x1="34.60" y1="299.89" x2="38.60" y2="299.89" stroke="#231f20" stroke-width="1.1"/>
<text x="33.30" y="303.79" font-size="9.8" text-anchor="end" transform="matrix(1 0 0 0.93 0 21.265)">20</text>
<line x1="34.60" y1="279.58" x2="38.60" y2="279.58" stroke="#231f20" stroke-width="1.1"/>
<text x="33.30" y="283.48" font-size="9.8" text-anchor="end" transform="matrix(1 0 0 0.93 0 19.844)">40</text>
<line x1="34.60" y1="259.27" x2="38.60" y2="259.27" stroke="#231f20" stroke-width="1.1"/>
<text x="33.30" y="263.17" font-size="9.8" text-anchor="end" transform="matrix(1 0 0 0.93 0 18.422)">60</text>
<line x1="34.60" y1="238.96" x2="38.60" y2="238.96" stroke="#231f20" stroke-width="1.1"/>
<text x="33.30" y="242.86" font-size="9.8" text-anchor="end" transform="matrix(1 0 0 0.93 0 17.000)">80</text>
<line x1="34.60" y1="218.65" x2="38.60" y2="218.65" stroke="#231f20" stroke-width="1.1"/>
<text x="33.30" y="222.55" font-size="9.8" text-anchor="end" transform="matrix(1 0 0 0.93 0 15.578)">100</text>
<line x1="38.60" y1="320.20" x2="38.60" y2="324.20" stroke="#231f20" stroke-width="1.1"/>
<text x="38.60" y="333.40" font-size="10.4" text-anchor="middle" transform="matrix(1 0 0 0.93 0 23.338)">0</text>
<line x1="64.24" y1="320.20" x2="64.24" y2="324.20" stroke="#231f20" stroke-width="1.1"/>
<text x="64.24" y="333.40" font-size="10.4" text-anchor="middle" transform="matrix(1 0 0 0.93 0 23.338)">5</text>
<line x1="89.88" y1="320.20" x2="89.88" y2="324.20" stroke="#231f20" stroke-width="1.1"/>
<text x="89.88" y="333.40" font-size="10.4" text-anchor="middle" transform="matrix(1 0 0 0.93 0 23.338)">10</text>
<line x1="115.52" y1="320.20" x2="115.52" y2="324.20" stroke="#231f20" stroke-width="1.1"/>
<text x="115.52" y="333.40" font-size="10.4" text-anchor="middle" transform="matrix(1 0 0 0.93 0 23.338)">15</text>
<line x1="141.16" y1="320.20" x2="141.16" y2="324.20" stroke="#231f20" stroke-width="1.1"/>
<text x="141.16" y="333.40" font-size="10.4" text-anchor="middle" transform="matrix(1 0 0 0.93 0 23.338)">20</text>
<line x1="166.80" y1="320.20" x2="166.80" y2="324.20" stroke="#231f20" stroke-width="1.1"/>
<text x="166.80" y="333.40" font-size="10.4" text-anchor="middle" transform="matrix(1 0 0 0.93 0 23.338)">25</text>
<text x="102.80" y="346.20" font-size="10.4" text-anchor="middle" transform="matrix(1 0 0 0.93 0 24.234)">Days after sgRNA transduction</text>
<text x="13.00" y="269.50" font-size="10.4" text-anchor="middle" transform="rotate(-90 13.00 269.50)">eGFP (%)</text>
<line x1="69.37" y1="224.74" x2="69.37" y2="227.79" stroke="#9a9a9a" stroke-width="0.9"/>
<line x1="67.17" y1="224.74" x2="71.57" y2="224.74" stroke="#9a9a9a" stroke-width="0.9"/>
<line x1="67.17" y1="227.79" x2="71.57" y2="227.79" stroke="#9a9a9a" stroke-width="0.9"/>
<line x1="84.75" y1="223.22" x2="84.75" y2="227.28" stroke="#9a9a9a" stroke-width="0.9"/>
<line x1="82.55" y1="223.22" x2="86.95" y2="223.22" stroke="#9a9a9a" stroke-width="0.9"/>
<line x1="82.55" y1="227.28" x2="86.95" y2="227.28" stroke="#9a9a9a" stroke-width="0.9"/>
<line x1="105.26" y1="231.45" x2="105.26" y2="237.54" stroke="#9a9a9a" stroke-width="0.9"/>
<line x1="103.06" y1="231.45" x2="107.46" y2="231.45" stroke="#9a9a9a" stroke-width="0.9"/>
<line x1="103.06" y1="237.54" x2="107.46" y2="237.54" stroke="#9a9a9a" stroke-width="0.9"/>
<line x1="125.78" y1="241.09" x2="125.78" y2="247.19" stroke="#9a9a9a" stroke-width="0.9"/>
<line x1="123.58" y1="241.09" x2="127.98" y2="241.09" stroke="#9a9a9a" stroke-width="0.9"/>
<line x1="123.58" y1="247.19" x2="127.98" y2="247.19" stroke="#9a9a9a" stroke-width="0.9"/>
<line x1="141.16" y1="250.44" x2="141.16" y2="260.59" stroke="#9a9a9a" stroke-width="0.9"/>
<line x1="138.96" y1="250.44" x2="143.36" y2="250.44" stroke="#9a9a9a" stroke-width="0.9"/>
<line x1="138.96" y1="260.59" x2="143.36" y2="260.59" stroke="#9a9a9a" stroke-width="0.9"/>
<polyline points="69.37,226.27 84.75,225.25 105.26,234.49 125.78,244.14 141.16,255.51" fill="none" stroke="#9a9a9a" stroke-width="1.1" stroke-dasharray="2 1.5"/>
<rect x="66.77" y="223.67" width="5.20" height="5.20" fill="#c4c4c4" stroke="#a0a0a0" stroke-width="0.6"/>
<rect x="82.15" y="222.65" width="5.20" height="5.20" fill="#c4c4c4" stroke="#a0a0a0" stroke-width="0.6"/>
<rect x="102.66" y="231.89" width="5.20" height="5.20" fill="#c4c4c4" stroke="#a0a0a0" stroke-width="0.6"/>
<rect x="123.18" y="241.54" width="5.20" height="5.20" fill="#c4c4c4" stroke="#a0a0a0" stroke-width="0.6"/>
<rect x="138.56" y="252.91" width="5.20" height="5.20" fill="#c4c4c4" stroke="#a0a0a0" stroke-width="0.6"/>
<line x1="69.37" y1="227.38" x2="69.37" y2="233.48" stroke="#231f20" stroke-width="0.9"/>
<line x1="67.17" y1="227.38" x2="71.57" y2="227.38" stroke="#231f20" stroke-width="0.9"/>
<line x1="67.17" y1="233.48" x2="71.57" y2="233.48" stroke="#231f20" stroke-width="0.9"/>
<line x1="84.75" y1="224.13" x2="84.75" y2="238.35" stroke="#231f20" stroke-width="0.9"/>
<line x1="82.55" y1="224.13" x2="86.95" y2="224.13" stroke="#231f20" stroke-width="0.9"/>
<line x1="82.55" y1="238.35" x2="86.95" y2="238.35" stroke="#231f20" stroke-width="0.9"/>
<line x1="105.26" y1="237.03" x2="105.26" y2="251.25" stroke="#231f20" stroke-width="0.9"/>
<line x1="103.06" y1="237.03" x2="107.46" y2="237.03" stroke="#231f20" stroke-width="0.9"/>
<line x1="103.06" y1="251.25" x2="107.46" y2="251.25" stroke="#231f20" stroke-width="0.9"/>
<line x1="125.78" y1="258.25" x2="125.78" y2="264.35" stroke="#231f20" stroke-width="0.9"/>
<line x1="123.58" y1="258.25" x2="127.98" y2="258.25" stroke="#231f20" stroke-width="0.9"/>
<line x1="123.58" y1="264.35" x2="127.98" y2="264.35" stroke="#231f20" stroke-width="0.9"/>
<line x1="141.16" y1="264.75" x2="141.16" y2="282.02" stroke="#231f20" stroke-width="0.9"/>
<line x1="138.96" y1="264.75" x2="143.36" y2="264.75" stroke="#231f20" stroke-width="0.9"/>
<line x1="138.96" y1="282.02" x2="143.36" y2="282.02" stroke="#231f20" stroke-width="0.9"/>
<line x1="69.37" y1="240.18" x2="69.37" y2="252.36" stroke="#231f20" stroke-width="0.9"/>
<line x1="67.17" y1="240.18" x2="71.57" y2="240.18" stroke="#231f20" stroke-width="0.9"/>
<line x1="67.17" y1="252.36" x2="71.57" y2="252.36" stroke="#231f20" stroke-width="0.9"/>
<line x1="84.75" y1="250.44" x2="84.75" y2="264.65" stroke="#231f20" stroke-width="0.9"/>
<line x1="82.55" y1="250.44" x2="86.95" y2="250.44" stroke="#231f20" stroke-width="0.9"/>
<line x1="82.55" y1="264.65" x2="86.95" y2="264.65" stroke="#231f20" stroke-width="0.9"/>
<line x1="105.26" y1="308.72" x2="105.26" y2="310.76" stroke="#231f20" stroke-width="0.9"/>
<line x1="103.06" y1="308.72" x2="107.46" y2="308.72" stroke="#231f20" stroke-width="0.9"/>
<line x1="103.06" y1="310.76" x2="107.46" y2="310.76" stroke="#231f20" stroke-width="0.9"/>
<line x1="125.78" y1="314.51" x2="125.78" y2="316.54" stroke="#231f20" stroke-width="0.9"/>
<line x1="123.58" y1="314.51" x2="127.98" y2="314.51" stroke="#231f20" stroke-width="0.9"/>
<line x1="123.58" y1="316.54" x2="127.98" y2="316.54" stroke="#231f20" stroke-width="0.9"/>
<line x1="141.16" y1="316.14" x2="141.16" y2="318.17" stroke="#231f20" stroke-width="0.9"/>
<line x1="138.96" y1="316.14" x2="143.36" y2="316.14" stroke="#231f20" stroke-width="0.9"/>
<line x1="138.96" y1="318.17" x2="143.36" y2="318.17" stroke="#231f20" stroke-width="0.9"/>
<polyline points="69.37,230.43 84.75,231.24 105.26,244.14 125.78,261.30 141.16,273.39" fill="none" stroke="#231f20" stroke-width="1.1"/>
<polyline points="69.37,246.27 84.75,257.54 105.26,309.74 125.78,315.53 141.16,317.15" fill="none" stroke="#231f20" stroke-width="1.1"/>
<polyline points="69.37,226.57 84.75,226.06 105.26,231.24 125.78,240.18 141.16,243.33" fill="none" stroke="#231f20" stroke-width="1.1"/>
<path d="M69.37,227.43 L72.27,232.63 L66.47,232.63 Z" fill="#fff" stroke="#231f20" stroke-width="0.9"/>
<path d="M84.75,228.24 L87.65,233.44 L81.85,233.44 Z" fill="#fff" stroke="#231f20" stroke-width="0.9"/>
<path d="M105.26,241.14 L108.16,246.34 L102.36,246.34 Z" fill="#fff" stroke="#231f20" stroke-width="0.9"/>
<path d="M125.78,258.30 L128.68,263.50 L122.88,263.50 Z" fill="#fff" stroke="#231f20" stroke-width="0.9"/>
<path d="M141.16,270.39 L144.06,275.59 L138.26,275.59 Z" fill="#fff" stroke="#231f20" stroke-width="0.9"/>
<circle cx="69.37" cy="246.27" r="2.75" fill="#fff" stroke="#231f20" stroke-width="0.9"/>
<circle cx="84.75" cy="257.54" r="2.75" fill="#fff" stroke="#231f20" stroke-width="0.9"/>
<circle cx="105.26" cy="309.74" r="2.75" fill="#fff" stroke="#231f20" stroke-width="0.9"/>
<circle cx="125.78" cy="315.53" r="2.75" fill="#fff" stroke="#231f20" stroke-width="0.9"/>
<circle cx="141.16" cy="317.15" r="2.75" fill="#fff" stroke="#231f20" stroke-width="0.9"/>
<circle cx="69.37" cy="226.57" r="2.85" fill="#231f20" stroke="none" stroke-width="1"/>
<circle cx="84.75" cy="226.06" r="2.85" fill="#231f20" stroke="none" stroke-width="1"/>
<circle cx="105.26" cy="231.24" r="2.85" fill="#231f20" stroke="none" stroke-width="1"/>
<circle cx="125.78" cy="240.18" r="2.85" fill="#231f20" stroke="none" stroke-width="1"/>
<circle cx="141.16" cy="243.33" r="2.85" fill="#231f20" stroke="none" stroke-width="1"/>
<line x1="25.30" y1="365.00" x2="40.70" y2="365.00" stroke="#231f20" stroke-width="1.1"/>
<circle cx="32.70" cy="365.00" r="2.30" fill="#231f20" stroke="none" stroke-width="1"/>
<line x1="25.30" y1="380.80" x2="40.70" y2="380.80" stroke="#231f20" stroke-width="1.1"/>
<path d="M32.7,378.10 L35.3,382.70 L30.1,382.70 Z" fill="#fff" stroke="#231f20" stroke-width="0.9"/>
<line x1="25.30" y1="392.70" x2="40.70" y2="392.70" stroke="#231f20" stroke-width="1.1"/>
<circle cx="32.70" cy="392.70" r="2.30" fill="#fff" stroke="#231f20" stroke-width="0.9"/>
<line x1="25.30" y1="407.60" x2="40.70" y2="407.60" stroke="#9a9a9a" stroke-width="1.0" stroke-dasharray="1.5 1.2"/>
<rect x="30.30" y="405.20" width="4.80" height="4.80" fill="#c4c4c4" stroke="#a0a0a0" stroke-width="0.6"/>
<text x="43.70" y="368.80" font-size="10.4" transform="matrix(1 0 0 0.93 0 25.816)">WT</text>
<text x="43.70" y="384.40" font-size="10.4" transform="matrix(1 0 0 0.93 0 26.908)">DYNLL1</text>
<text x="43.70" y="396.30" font-size="10.4" transform="matrix(1 0 0 0.93 0 27.741)">EBOV L</text>
<text x="43.70" y="411.20" font-size="10.4" transform="matrix(1 0 0 0.93 0 28.784)">NPC1</text>
<path d="M86.3,376.6 L89.3,376.6 L89.3,396 L86.3,396" fill="none" stroke="#231f20" stroke-width="1.0"/>
<path d="M86.3,405.2 L89.3,405.2 L89.3,411.9 L86.3,411.9" fill="none" stroke="#231f20" stroke-width="1.0"/>
<text x="93.00" y="384.10" font-size="10.4" transform="matrix(1 0 0 0.93 0 26.887)">KO of genes involved in EBOV</text>
<text x="93.00" y="395.20" font-size="10.4" transform="matrix(1 0 0 0.93 0 27.664)">replication, transcription</text>
<text x="93.00" y="412.10" font-size="10.4" transform="matrix(1 0 0 0.93 0 28.847)">KO of known EBOV entry factor</text>
<text x="262.20" y="215.60" font-size="13" font-weight="bold" fill="#000">c</text>
<rect x="310.3" y="391.22" width="250.5" height="34.68" fill="#7f7f7f"/>
<g fill="#7f7f7f" fill-opacity="0.4"><circle cx="342.9" cy="382.4" r="2.6"/><circle cx="435.4" cy="390.2" r="2.6"/><circle cx="460.9" cy="392.8" r="2.6"/><circle cx="318.0" cy="394.7" r="2.6"/><circle cx="347.7" cy="393.3" r="2.6"/><circle cx="542.4" cy="381.2" r="2.6"/><circle cx="328.4" cy="394.6" r="2.6"/><circle cx="343.2" cy="395.6" r="2.6"/><circle cx="547.4" cy="386.7" r="2.6"/><circle cx="466.0" cy="379.3" r="2.6"/><circle cx="402.9" cy="386.5" r="2.6"/><circle cx="438.4" cy="387.1" r="2.6"/><circle cx="476.2" cy="390.2" r="2.6"/><circle cx="379.5" cy="393.0" r="2.6"/><circle cx="345.2" cy="395.2" r="2.6"/><circle cx="507.4" cy="380.0" r="2.6"/><circle cx="478.1" cy="392.1" r="2.6"/><circle cx="438.6" cy="386.0" r="2.6"/><circle cx="514.6" cy="391.3" r="2.6"/><circle cx="447.8" cy="395.5" r="2.6"/><circle cx="555.5" cy="390.5" r="2.6"/><circle cx="361.8" cy="389.5" r="2.6"/><circle cx="449.0" cy="387.4" r="2.6"/><circle cx="431.5" cy="393.1" r="2.6"/><circle cx="398.9" cy="389.9" r="2.6"/><circle cx="458.4" cy="375.9" r="2.6"/><circle cx="369.5" cy="391.0" r="2.6"/><circle cx="510.9" cy="385.9" r="2.6"/><circle cx="527.2" cy="376.1" r="2.6"/><circle cx="342.9" cy="380.1" r="2.6"/><circle cx="427.3" cy="393.2" r="2.6"/><circle cx="379.9" cy="391.0" r="2.6"/><circle cx="331.5" cy="387.8" r="2.6"/><circle cx="534.3" cy="375.0" r="2.6"/><circle cx="418.1" cy="394.5" r="2.6"/><circle cx="347.6" cy="376.5" r="2.6"/><circle cx="478.8" cy="389.7" r="2.6"/><circle cx="361.3" cy="389.1" r="2.6"/><circle cx="535.7" cy="376.2" r="2.6"/><circle cx="365.0" cy="391.1" r="2.6"/><circle cx="319.1" cy="391.2" r="2.6"/><circle cx="360.9" cy="391.6" r="2.6"/><circle cx="397.1" cy="387.8" r="2.6"/><circle cx="427.8" cy="393.0" r="2.6"/><circle cx="536.9" cy="394.5" r="2.6"/><circle cx="484.8" cy="385.0" r="2.6"/><circle cx="395.5" cy="380.9" r="2.6"/><circle cx="315.0" cy="389.8" r="2.6"/><circle cx="350.7" cy="385.4" r="2.6"/><circle cx="559.4" cy="387.0" r="2.6"/><circle cx="425.5" cy="394.7" r="2.6"/><circle cx="483.2" cy="391.5" r="2.6"/><circle cx="324.4" cy="388.4" r="2.6"/><circle cx="319.3" cy="380.4" r="2.6"/><circle cx="521.8" cy="389.7" r="2.6"/><circle cx="457.5" cy="383.6" r="2.6"/><circle cx="387.8" cy="388.6" r="2.6"/><circle cx="390.0" cy="391.1" r="2.6"/><circle cx="333.1" cy="395.4" r="2.6"/><circle cx="353.9" cy="394.2" r="2.6"/><circle cx="316.9" cy="395.3" r="2.6"/><circle cx="520.2" cy="391.1" r="2.6"/><circle cx="427.1" cy="394.8" r="2.6"/><circle cx="342.5" cy="380.1" r="2.6"/><circle cx="495.2" cy="393.7" r="2.6"/><circle cx="359.6" cy="367.4" r="2.6"/><circle cx="326.2" cy="393.3" r="2.6"/><circle cx="460.1" cy="394.9" r="2.6"/><circle cx="534.3" cy="394.8" r="2.6"/><circle cx="317.5" cy="392.3" r="2.6"/><circle cx="511.7" cy="386.7" r="2.6"/><circle cx="358.2" cy="389.0" r="2.6"/><circle cx="334.0" cy="393.9" r="2.6"/><circle cx="315.3" cy="394.1" r="2.6"/><circle cx="383.9" cy="395.4" r="2.6"/><circle cx="492.2" cy="393.7" r="2.6"/><circle cx="433.8" cy="394.0" r="2.6"/><circle cx="523.6" cy="394.5" r="2.6"/><circle cx="365.0" cy="389.6" r="2.6"/><circle cx="389.4" cy="388.0" r="2.6"/><circle cx="375.2" cy="378.5" r="2.6"/><circle cx="554.9" cy="394.4" r="2.6"/><circle cx="545.6" cy="384.7" r="2.6"/><circle cx="395.8" cy="389.8" r="2.6"/><circle cx="419.6" cy="373.3" r="2.6"/><circle cx="389.2" cy="394.8" r="2.6"/><circle cx="497.1" cy="383.1" r="2.6"/><circle cx="320.8" cy="386.0" r="2.6"/><circle cx="327.6" cy="393.9" r="2.6"/><circle cx="411.6" cy="381.1" r="2.6"/><circle cx="372.0" cy="392.9" r="2.6"/><circle cx="521.7" cy="391.1" r="2.6"/><circle cx="495.9" cy="394.2" r="2.6"/><circle cx="447.0" cy="387.9" r="2.6"/><circle cx="475.8" cy="385.8" r="2.6"/><circle cx="483.5" cy="394.0" r="2.6"/><circle cx="505.7" cy="389.0" r="2.6"/><circle cx="542.2" cy="393.7" r="2.6"/><circle cx="348.2" cy="385.2" r="2.6"/><circle cx="467.0" cy="378.3" r="2.6"/><circle cx="346.6" cy="384.2" r="2.6"/><circle cx="421.4" cy="395.4" r="2.6"/><circle cx="507.0" cy="393.6" r="2.6"/><circle cx="534.0" cy="389.8" r="2.6"/><circle cx="500.2" cy="392.6" r="2.6"/><circle cx="319.6" cy="379.8" r="2.6"/><circle cx="400.5" cy="393.9" r="2.6"/><circle cx="351.5" cy="392.1" r="2.6"/><circle cx="560.0" cy="395.4" r="2.6"/><circle cx="346.7" cy="390.9" r="2.6"/><circle cx="371.8" cy="391.8" r="2.6"/><circle cx="399.9" cy="394.3" r="2.6"/><circle cx="326.0" cy="384.2" r="2.6"/><circle cx="528.0" cy="394.0" r="2.6"/><circle cx="469.6" cy="388.2" r="2.6"/><circle cx="350.7" cy="389.8" r="2.6"/><circle cx="435.1" cy="395.5" r="2.6"/><circle cx="330.4" cy="393.6" r="2.6"/><circle cx="463.2" cy="386.9" r="2.6"/><circle cx="368.6" cy="395.0" r="2.6"/><circle cx="320.4" cy="395.1" r="2.6"/><circle cx="339.6" cy="392.3" r="2.6"/><circle cx="449.3" cy="393.9" r="2.6"/><circle cx="469.7" cy="386.5" r="2.6"/><circle cx="391.8" cy="388.9" r="2.6"/><circle cx="471.3" cy="392.0" r="2.6"/><circle cx="398.6" cy="389.6" r="2.6"/><circle cx="343.4" cy="393.6" r="2.6"/><circle cx="389.4" cy="377.7" r="2.6"/><circle cx="409.4" cy="385.2" r="2.6"/><circle cx="538.5" cy="385.6" r="2.6"/><circle cx="339.7" cy="393.0" r="2.6"/><circle cx="332.3" cy="392.3" r="2.6"/><circle cx="450.9" cy="389.1" r="2.6"/><circle cx="551.2" cy="393.3" r="2.6"/><circle cx="537.2" cy="395.3" r="2.6"/><circle cx="485.5" cy="392.6" r="2.6"/><circle cx="327.5" cy="391.2" r="2.6"/><circle cx="512.0" cy="385.0" r="2.6"/><circle cx="481.3" cy="384.5" r="2.6"/><circle cx="346.7" cy="386.1" r="2.6"/><circle cx="426.8" cy="391.6" r="2.6"/><circle cx="323.1" cy="384.9" r="2.6"/><circle cx="510.9" cy="384.5" r="2.6"/><circle cx="490.1" cy="391.4" r="2.6"/><circle cx="511.6" cy="391.5" r="2.6"/><circle cx="500.5" cy="394.6" r="2.6"/><circle cx="377.5" cy="390.9" r="2.6"/><circle cx="507.8" cy="391.5" r="2.6"/><circle cx="373.0" cy="393.2" r="2.6"/><circle cx="345.2" cy="395.6" r="2.6"/><circle cx="408.2" cy="392.6" r="2.6"/><circle cx="435.0" cy="395.4" r="2.6"/><circle cx="382.1" cy="391.0" r="2.6"/><circle cx="461.9" cy="383.4" r="2.6"/><circle cx="461.1" cy="386.5" r="2.6"/><circle cx="370.6" cy="394.1" r="2.6"/><circle cx="466.1" cy="375.9" r="2.6"/><circle cx="399.9" cy="394.4" r="2.6"/><circle cx="494.1" cy="388.1" r="2.6"/><circle cx="383.3" cy="391.3" r="2.6"/><circle cx="510.1" cy="392.2" r="2.6"/><circle cx="414.4" cy="385.3" r="2.6"/><circle cx="448.8" cy="393.8" r="2.6"/><circle cx="478.8" cy="392.8" r="2.6"/><circle cx="440.1" cy="395.7" r="2.6"/><circle cx="375.1" cy="392.2" r="2.6"/><circle cx="555.2" cy="383.6" r="2.6"/><circle cx="334.8" cy="387.8" r="2.6"/><circle cx="391.9" cy="377.7" r="2.6"/><circle cx="447.8" cy="394.8" r="2.6"/><circle cx="318.0" cy="390.1" r="2.6"/><circle cx="349.5" cy="387.2" r="2.6"/><circle cx="510.2" cy="383.6" r="2.6"/><circle cx="506.4" cy="392.1" r="2.6"/><circle cx="469.7" cy="388.8" r="2.6"/><circle cx="535.8" cy="390.8" r="2.6"/><circle cx="499.3" cy="378.0" r="2.6"/><circle cx="385.3" cy="394.8" r="2.6"/><circle cx="471.7" cy="383.7" r="2.6"/><circle cx="395.7" cy="394.0" r="2.6"/><circle cx="497.9" cy="394.9" r="2.6"/><circle cx="406.8" cy="392.1" r="2.6"/><circle cx="349.0" cy="394.0" r="2.6"/><circle cx="529.5" cy="376.3" r="2.6"/><circle cx="483.1" cy="394.7" r="2.6"/><circle cx="496.6" cy="391.2" r="2.6"/><circle cx="450.4" cy="395.6" r="2.6"/><circle cx="506.1" cy="393.3" r="2.6"/><circle cx="422.5" cy="394.9" r="2.6"/><circle cx="452.0" cy="384.5" r="2.6"/><circle cx="326.4" cy="385.3" r="2.6"/><circle cx="449.3" cy="370.0" r="2.6"/><circle cx="514.0" cy="395.4" r="2.6"/><circle cx="486.8" cy="369.1" r="2.6"/><circle cx="511.2" cy="375.9" r="2.6"/><circle cx="434.6" cy="393.6" r="2.6"/><circle cx="530.7" cy="380.4" r="2.6"/><circle cx="337.8" cy="394.8" r="2.6"/><circle cx="529.3" cy="392.5" r="2.6"/><circle cx="403.4" cy="392.5" r="2.6"/><circle cx="333.5" cy="386.5" r="2.6"/><circle cx="465.3" cy="393.1" r="2.6"/><circle cx="424.3" cy="395.5" r="2.6"/><circle cx="417.7" cy="394.2" r="2.6"/><circle cx="523.4" cy="378.9" r="2.6"/><circle cx="345.2" cy="390.4" r="2.6"/><circle cx="464.7" cy="393.0" r="2.6"/><circle cx="414.0" cy="394.1" r="2.6"/><circle cx="442.6" cy="392.0" r="2.6"/><circle cx="435.4" cy="394.6" r="2.6"/><circle cx="344.3" cy="385.1" r="2.6"/><circle cx="438.5" cy="380.6" r="2.6"/><circle cx="525.9" cy="389.7" r="2.6"/><circle cx="353.5" cy="394.3" r="2.6"/><circle cx="313.7" cy="388.1" r="2.6"/><circle cx="327.7" cy="380.2" r="2.6"/><circle cx="425.5" cy="389.3" r="2.6"/><circle cx="553.9" cy="387.7" r="2.6"/><circle cx="321.8" cy="390.0" r="2.6"/><circle cx="558.0" cy="372.6" r="2.6"/><circle cx="444.5" cy="390.3" r="2.6"/><circle cx="340.8" cy="395.6" r="2.6"/><circle cx="415.2" cy="390.7" r="2.6"/><circle cx="362.5" cy="392.5" r="2.6"/><circle cx="489.0" cy="395.2" r="2.6"/><circle cx="445.9" cy="393.9" r="2.6"/><circle cx="382.6" cy="395.1" r="2.6"/><circle cx="374.5" cy="385.6" r="2.6"/><circle cx="527.1" cy="386.5" r="2.6"/><circle cx="502.0" cy="384.3" r="2.6"/><circle cx="419.6" cy="395.6" r="2.6"/><circle cx="412.0" cy="382.2" r="2.6"/><circle cx="494.8" cy="395.5" r="2.6"/><circle cx="553.0" cy="394.2" r="2.6"/><circle cx="330.7" cy="378.8" r="2.6"/><circle cx="350.5" cy="391.3" r="2.6"/><circle cx="401.2" cy="390.7" r="2.6"/><circle cx="437.5" cy="393.3" r="2.6"/><circle cx="328.6" cy="384.2" r="2.6"/><circle cx="324.1" cy="389.7" r="2.6"/><circle cx="365.6" cy="385.2" r="2.6"/><circle cx="407.1" cy="395.5" r="2.6"/><circle cx="495.3" cy="390.5" r="2.6"/><circle cx="463.0" cy="381.0" r="2.6"/><circle cx="318.1" cy="391.7" r="2.6"/><circle cx="322.0" cy="391.1" r="2.6"/><circle cx="423.6" cy="390.5" r="2.6"/><circle cx="529.1" cy="393.3" r="2.6"/><circle cx="539.1" cy="377.6" r="2.6"/><circle cx="401.9" cy="381.0" r="2.6"/><circle cx="532.2" cy="393.1" r="2.6"/><circle cx="542.6" cy="394.1" r="2.6"/><circle cx="412.3" cy="393.4" r="2.6"/><circle cx="496.9" cy="391.0" r="2.6"/><circle cx="402.0" cy="392.9" r="2.6"/><circle cx="349.1" cy="395.0" r="2.6"/><circle cx="454.3" cy="393.7" r="2.6"/><circle cx="332.4" cy="387.3" r="2.6"/><circle cx="476.3" cy="377.3" r="2.6"/><circle cx="512.7" cy="387.2" r="2.6"/><circle cx="539.2" cy="394.7" r="2.6"/><circle cx="422.6" cy="395.2" r="2.6"/><circle cx="340.1" cy="395.1" r="2.6"/><circle cx="536.0" cy="393.7" r="2.6"/><circle cx="528.0" cy="395.2" r="2.6"/><circle cx="552.2" cy="388.9" r="2.6"/><circle cx="459.0" cy="382.9" r="2.6"/><circle cx="478.8" cy="384.8" r="2.6"/><circle cx="403.9" cy="395.4" r="2.6"/><circle cx="356.5" cy="395.1" r="2.6"/><circle cx="383.6" cy="381.7" r="2.6"/><circle cx="490.6" cy="386.7" r="2.6"/><circle cx="391.9" cy="395.7" r="2.6"/><circle cx="483.4" cy="395.6" r="2.6"/><circle cx="436.1" cy="385.3" r="2.6"/><circle cx="422.8" cy="386.2" r="2.6"/><circle cx="552.2" cy="393.1" r="2.6"/><circle cx="352.2" cy="393.8" r="2.6"/><circle cx="432.3" cy="392.5" r="2.6"/><circle cx="350.6" cy="387.3" r="2.6"/><circle cx="544.7" cy="394.8" r="2.6"/><circle cx="432.7" cy="394.2" r="2.6"/><circle cx="393.6" cy="394.9" r="2.6"/><circle cx="352.8" cy="379.4" r="2.6"/><circle cx="459.0" cy="389.4" r="2.6"/><circle cx="410.3" cy="375.3" r="2.6"/><circle cx="342.5" cy="391.3" r="2.6"/><circle cx="318.9" cy="363.6" r="2.6"/><circle cx="408.4" cy="395.7" r="2.6"/><circle cx="456.3" cy="392.0" r="2.6"/><circle cx="440.2" cy="394.5" r="2.6"/><circle cx="535.4" cy="394.8" r="2.6"/><circle cx="538.2" cy="388.4" r="2.6"/><circle cx="544.4" cy="384.9" r="2.6"/><circle cx="510.3" cy="391.7" r="2.6"/><circle cx="430.0" cy="385.5" r="2.6"/><circle cx="441.5" cy="392.5" r="2.6"/><circle cx="409.9" cy="386.8" r="2.6"/><circle cx="410.5" cy="383.2" r="2.6"/><circle cx="321.2" cy="377.5" r="2.6"/><circle cx="510.1" cy="394.0" r="2.6"/><circle cx="372.2" cy="392.1" r="2.6"/><circle cx="318.1" cy="395.0" r="2.6"/><circle cx="427.2" cy="390.9" r="2.6"/><circle cx="489.9" cy="393.9" r="2.6"/><circle cx="419.6" cy="393.0" r="2.6"/><circle cx="401.7" cy="392.5" r="2.6"/><circle cx="475.1" cy="390.9" r="2.6"/><circle cx="351.4" cy="393.8" r="2.6"/><circle cx="313.6" cy="394.3" r="2.6"/><circle cx="458.6" cy="385.7" r="2.6"/><circle cx="443.1" cy="392.5" r="2.6"/><circle cx="526.8" cy="391.4" r="2.6"/><circle cx="414.6" cy="392.0" r="2.6"/><circle cx="506.9" cy="385.3" r="2.6"/><circle cx="315.3" cy="394.9" r="2.6"/><circle cx="317.6" cy="392.0" r="2.6"/><circle cx="460.1" cy="388.1" r="2.6"/><circle cx="367.2" cy="394.8" r="2.6"/><circle cx="327.6" cy="391.0" r="2.6"/><circle cx="342.7" cy="392.5" r="2.6"/><circle cx="404.3" cy="378.0" r="2.6"/><circle cx="394.9" cy="395.7" r="2.6"/><circle cx="451.5" cy="391.9" r="2.6"/><circle cx="532.3" cy="394.5" r="2.6"/><circle cx="402.0" cy="390.7" r="2.6"/><circle cx="356.7" cy="384.8" r="2.6"/><circle cx="455.0" cy="392.5" r="2.6"/><circle cx="311.3" cy="387.1" r="2.6"/><circle cx="406.8" cy="393.3" r="2.6"/><circle cx="390.0" cy="392.5" r="2.6"/><circle cx="407.5" cy="395.2" r="2.6"/><circle cx="323.5" cy="394.5" r="2.6"/><circle cx="449.1" cy="394.8" r="2.6"/><circle cx="466.5" cy="392.8" r="2.6"/><circle cx="497.8" cy="385.5" r="2.6"/><circle cx="549.7" cy="394.3" r="2.6"/><circle cx="399.3" cy="388.1" r="2.6"/><circle cx="474.5" cy="387.3" r="2.6"/><circle cx="421.1" cy="385.4" r="2.6"/><circle cx="364.5" cy="395.7" r="2.6"/><circle cx="532.7" cy="394.0" r="2.6"/><circle cx="496.9" cy="386.8" r="2.6"/><circle cx="546.0" cy="387.2" r="2.6"/><circle cx="515.8" cy="394.8" r="2.6"/><circle cx="539.7" cy="390.6" r="2.6"/><circle cx="342.7" cy="361.0" r="2.6"/><circle cx="314.7" cy="393.8" r="2.6"/><circle cx="360.3" cy="373.4" r="2.6"/><circle cx="413.6" cy="394.3" r="2.6"/><circle cx="482.4" cy="377.2" r="2.6"/><circle cx="420.2" cy="395.2" r="2.6"/><circle cx="438.9" cy="387.2" r="2.6"/><circle cx="500.7" cy="392.0" r="2.6"/><circle cx="328.4" cy="386.6" r="2.6"/><circle cx="480.0" cy="387.2" r="2.6"/><circle cx="323.0" cy="390.9" r="2.6"/><circle cx="372.8" cy="389.7" r="2.6"/><circle cx="491.0" cy="371.1" r="2.6"/><circle cx="481.2" cy="389.8" r="2.6"/><circle cx="411.9" cy="391.3" r="2.6"/><circle cx="384.3" cy="393.5" r="2.6"/><circle cx="517.4" cy="378.7" r="2.6"/><circle cx="379.4" cy="394.7" r="2.6"/><circle cx="318.6" cy="367.1" r="2.6"/><circle cx="372.5" cy="393.4" r="2.6"/><circle cx="316.1" cy="382.0" r="2.6"/><circle cx="513.1" cy="395.5" r="2.6"/><circle cx="341.3" cy="394.7" r="2.6"/><circle cx="553.8" cy="393.7" r="2.6"/><circle cx="363.9" cy="372.8" r="2.6"/><circle cx="387.2" cy="389.8" r="2.6"/><circle cx="456.8" cy="373.6" r="2.6"/><circle cx="387.7" cy="393.5" r="2.6"/><circle cx="405.4" cy="389.0" r="2.6"/><circle cx="336.8" cy="368.7" r="2.6"/><circle cx="407.9" cy="387.8" r="2.6"/><circle cx="317.1" cy="393.4" r="2.6"/><circle cx="366.7" cy="392.1" r="2.6"/><circle cx="537.7" cy="393.6" r="2.6"/><circle cx="380.9" cy="389.1" r="2.6"/><circle cx="378.4" cy="372.5" r="2.6"/><circle cx="480.3" cy="385.7" r="2.6"/><circle cx="531.1" cy="388.3" r="2.6"/><circle cx="384.6" cy="376.8" r="2.6"/><circle cx="404.7" cy="394.8" r="2.6"/><circle cx="489.1" cy="374.6" r="2.6"/><circle cx="508.4" cy="383.5" r="2.6"/><circle cx="463.9" cy="394.1" r="2.6"/><circle cx="355.5" cy="391.5" r="2.6"/><circle cx="355.9" cy="390.0" r="2.6"/><circle cx="499.9" cy="392.7" r="2.6"/><circle cx="487.2" cy="379.8" r="2.6"/><circle cx="534.4" cy="392.6" r="2.6"/><circle cx="505.4" cy="391.4" r="2.6"/><circle cx="415.9" cy="376.6" r="2.6"/><circle cx="344.1" cy="393.9" r="2.6"/><circle cx="533.0" cy="379.2" r="2.6"/><circle cx="484.3" cy="377.6" r="2.6"/><circle cx="454.6" cy="394.5" r="2.6"/><circle cx="480.9" cy="390.4" r="2.6"/><circle cx="406.9" cy="394.0" r="2.6"/><circle cx="396.4" cy="394.4" r="2.6"/><circle cx="454.4" cy="374.2" r="2.6"/><circle cx="431.2" cy="392.7" r="2.6"/><circle cx="487.7" cy="376.9" r="2.6"/><circle cx="544.4" cy="391.5" r="2.6"/><circle cx="522.2" cy="394.5" r="2.6"/><circle cx="407.5" cy="394.0" r="2.6"/><circle cx="403.7" cy="390.8" r="2.6"/><circle cx="542.0" cy="391.0" r="2.6"/><circle cx="409.3" cy="395.0" r="2.6"/><circle cx="510.5" cy="394.7" r="2.6"/><circle cx="333.9" cy="394.2" r="2.6"/><circle cx="423.4" cy="387.9" r="2.6"/><circle cx="439.6" cy="395.7" r="2.6"/><circle cx="512.6" cy="392.4" r="2.6"/><circle cx="529.8" cy="387.1" r="2.6"/><circle cx="348.9" cy="387.5" r="2.6"/><circle cx="464.8" cy="385.9" r="2.6"/><circle cx="467.8" cy="374.6" r="2.6"/><circle cx="348.6" cy="381.7" r="2.6"/><circle cx="518.8" cy="393.8" r="2.6"/><circle cx="448.9" cy="393.0" r="2.6"/><circle cx="550.7" cy="389.1" r="2.6"/><circle cx="357.3" cy="380.7" r="2.6"/><circle cx="441.8" cy="391.8" r="2.6"/><circle cx="391.5" cy="393.6" r="2.6"/><circle cx="471.1" cy="391.9" r="2.6"/><circle cx="462.5" cy="395.3" r="2.6"/><circle cx="438.7" cy="386.1" r="2.6"/><circle cx="391.9" cy="387.5" r="2.6"/><circle cx="436.5" cy="384.4" r="2.6"/><circle cx="403.7" cy="393.2" r="2.6"/><circle cx="533.0" cy="386.5" r="2.6"/><circle cx="426.0" cy="391.3" r="2.6"/><circle cx="429.4" cy="391.8" r="2.6"/><circle cx="375.3" cy="393.6" r="2.6"/><circle cx="374.1" cy="394.4" r="2.6"/><circle cx="548.8" cy="389.1" r="2.6"/><circle cx="389.1" cy="376.3" r="2.6"/><circle cx="527.5" cy="395.3" r="2.6"/><circle cx="459.2" cy="390.2" r="2.6"/><circle cx="555.4" cy="384.5" r="2.6"/><circle cx="351.7" cy="385.2" r="2.6"/><circle cx="545.7" cy="390.2" r="2.6"/><circle cx="503.5" cy="391.6" r="2.6"/><circle cx="452.5" cy="393.8" r="2.6"/><circle cx="487.7" cy="376.0" r="2.6"/><circle cx="491.0" cy="394.3" r="2.6"/><circle cx="422.7" cy="384.1" r="2.6"/><circle cx="469.1" cy="385.3" r="2.6"/><circle cx="367.8" cy="395.1" r="2.6"/><circle cx="316.1" cy="367.9" r="2.6"/><circle cx="479.6" cy="385.9" r="2.6"/><circle cx="429.2" cy="385.1" r="2.6"/><circle cx="536.7" cy="392.0" r="2.6"/><circle cx="376.7" cy="388.5" r="2.6"/><circle cx="514.9" cy="395.2" r="2.6"/><circle cx="556.9" cy="392.0" r="2.6"/><circle cx="534.9" cy="389.4" r="2.6"/><circle cx="551.4" cy="394.3" r="2.6"/><circle cx="350.5" cy="391.8" r="2.6"/><circle cx="352.0" cy="394.3" r="2.6"/><circle cx="367.8" cy="381.9" r="2.6"/><circle cx="401.0" cy="389.0" r="2.6"/><circle cx="339.6" cy="391.5" r="2.6"/><circle cx="348.4" cy="392.9" r="2.6"/><circle cx="315.4" cy="382.0" r="2.6"/><circle cx="543.7" cy="389.4" r="2.6"/><circle cx="400.9" cy="387.4" r="2.6"/><circle cx="467.0" cy="379.5" r="2.6"/><circle cx="424.2" cy="377.3" r="2.6"/><circle cx="496.2" cy="391.2" r="2.6"/><circle cx="511.9" cy="385.8" r="2.6"/><circle cx="406.4" cy="362.6" r="2.6"/><circle cx="444.4" cy="388.6" r="2.6"/><circle cx="335.1" cy="392.5" r="2.6"/><circle cx="382.0" cy="394.2" r="2.6"/><circle cx="366.4" cy="380.7" r="2.6"/><circle cx="387.8" cy="394.1" r="2.6"/><circle cx="391.8" cy="387.5" r="2.6"/><circle cx="454.3" cy="390.5" r="2.6"/><circle cx="393.8" cy="379.5" r="2.6"/><circle cx="392.4" cy="385.8" r="2.6"/><circle cx="518.2" cy="389.2" r="2.6"/><circle cx="313.8" cy="394.2" r="2.6"/><circle cx="312.1" cy="391.5" r="2.6"/><circle cx="325.1" cy="377.9" r="2.6"/><circle cx="526.8" cy="381.4" r="2.6"/><circle cx="468.9" cy="382.4" r="2.6"/><circle cx="492.4" cy="371.5" r="2.6"/><circle cx="549.7" cy="383.9" r="2.6"/><circle cx="365.2" cy="392.7" r="2.6"/><circle cx="540.3" cy="394.1" r="2.6"/><circle cx="371.3" cy="391.4" r="2.6"/><circle cx="440.3" cy="394.5" r="2.6"/><circle cx="480.7" cy="379.1" r="2.6"/><circle cx="509.7" cy="378.3" r="2.6"/><circle cx="372.7" cy="386.4" r="2.6"/><circle cx="429.8" cy="391.9" r="2.6"/><circle cx="322.2" cy="386.0" r="2.6"/><circle cx="382.6" cy="386.1" r="2.6"/><circle cx="555.6" cy="369.3" r="2.6"/><circle cx="536.6" cy="394.6" r="2.6"/><circle cx="456.0" cy="383.6" r="2.6"/><circle cx="507.0" cy="389.6" r="2.6"/><circle cx="535.9" cy="388.0" r="2.6"/><circle cx="393.6" cy="385.5" r="2.6"/><circle cx="555.4" cy="385.7" r="2.6"/><circle cx="422.7" cy="394.3" r="2.6"/><circle cx="350.4" cy="395.5" r="2.6"/><circle cx="443.1" cy="395.3" r="2.6"/><circle cx="458.9" cy="390.2" r="2.6"/><circle cx="483.7" cy="388.3" r="2.6"/><circle cx="478.2" cy="391.5" r="2.6"/><circle cx="321.1" cy="392.3" r="2.6"/><circle cx="470.2" cy="394.4" r="2.6"/><circle cx="540.7" cy="392.7" r="2.6"/><circle cx="478.0" cy="387.2" r="2.6"/><circle cx="554.1" cy="366.8" r="2.6"/><circle cx="438.4" cy="382.7" r="2.6"/><circle cx="512.9" cy="389.8" r="2.6"/><circle cx="345.8" cy="392.0" r="2.6"/><circle cx="534.2" cy="383.1" r="2.6"/><circle cx="419.7" cy="390.5" r="2.6"/><circle cx="529.5" cy="395.2" r="2.6"/><circle cx="390.8" cy="386.5" r="2.6"/><circle cx="466.6" cy="395.0" r="2.6"/><circle cx="522.0" cy="389.9" r="2.6"/><circle cx="488.3" cy="391.8" r="2.6"/><circle cx="465.5" cy="393.9" r="2.6"/><circle cx="553.0" cy="384.1" r="2.6"/><circle cx="332.8" cy="395.4" r="2.6"/><circle cx="336.2" cy="393.9" r="2.6"/><circle cx="448.4" cy="386.1" r="2.6"/><circle cx="549.0" cy="386.7" r="2.6"/><circle cx="482.1" cy="393.5" r="2.6"/><circle cx="388.1" cy="390.4" r="2.6"/><circle cx="337.7" cy="391.5" r="2.6"/><circle cx="422.6" cy="373.0" r="2.6"/><circle cx="430.6" cy="395.2" r="2.6"/><circle cx="427.6" cy="390.0" r="2.6"/><circle cx="465.3" cy="392.1" r="2.6"/><circle cx="378.9" cy="383.8" r="2.6"/><circle cx="530.5" cy="381.8" r="2.6"/><circle cx="382.7" cy="387.7" r="2.6"/><circle cx="337.5" cy="388.1" r="2.6"/><circle cx="397.9" cy="387.3" r="2.6"/><circle cx="544.3" cy="395.0" r="2.6"/><circle cx="350.6" cy="395.4" r="2.6"/><circle cx="380.1" cy="389.6" r="2.6"/><circle cx="542.0" cy="394.2" r="2.6"/><circle cx="397.6" cy="388.6" r="2.6"/><circle cx="521.2" cy="383.0" r="2.6"/><circle cx="322.1" cy="391.7" r="2.6"/><circle cx="532.5" cy="393.3" r="2.6"/><circle cx="370.0" cy="394.7" r="2.6"/><circle cx="355.9" cy="393.1" r="2.6"/><circle cx="496.0" cy="382.2" r="2.6"/><circle cx="557.7" cy="392.2" r="2.6"/><circle cx="550.1" cy="391.7" r="2.6"/><circle cx="498.5" cy="392.6" r="2.6"/><circle cx="538.9" cy="386.1" r="2.6"/><circle cx="557.1" cy="388.5" r="2.6"/><circle cx="448.7" cy="388.2" r="2.6"/><circle cx="346.9" cy="395.7" r="2.6"/><circle cx="522.7" cy="394.5" r="2.6"/><circle cx="409.6" cy="394.9" r="2.6"/><circle cx="388.8" cy="393.8" r="2.6"/><circle cx="435.8" cy="388.4" r="2.6"/><circle cx="319.5" cy="385.0" r="2.6"/><circle cx="315.5" cy="394.1" r="2.6"/><circle cx="376.7" cy="358.5" r="2.6"/><circle cx="459.5" cy="388.0" r="2.6"/><circle cx="497.8" cy="394.6" r="2.6"/><circle cx="549.6" cy="385.5" r="2.6"/><circle cx="514.9" cy="381.9" r="2.6"/><circle cx="545.6" cy="393.1" r="2.6"/><circle cx="469.6" cy="395.1" r="2.6"/><circle cx="493.9" cy="388.2" r="2.6"/><circle cx="457.3" cy="387.1" r="2.6"/><circle cx="331.1" cy="391.0" r="2.6"/><circle cx="326.2" cy="390.2" r="2.6"/><circle cx="500.5" cy="394.2" r="2.6"/><circle cx="361.3" cy="395.5" r="2.6"/><circle cx="507.9" cy="388.4" r="2.6"/><circle cx="426.6" cy="394.1" r="2.6"/><circle cx="312.5" cy="381.9" r="2.6"/><circle cx="450.9" cy="389.4" r="2.6"/><circle cx="421.3" cy="388.9" r="2.6"/><circle cx="329.2" cy="395.6" r="2.6"/><circle cx="375.9" cy="392.1" r="2.6"/><circle cx="387.3" cy="379.8" r="2.6"/><circle cx="397.0" cy="394.7" r="2.6"/><circle cx="487.2" cy="392.7" r="2.6"/><circle cx="352.5" cy="395.4" r="2.6"/><circle cx="421.4" cy="377.8" r="2.6"/><circle cx="462.2" cy="360.4" r="2.6"/><circle cx="546.9" cy="390.1" r="2.6"/><circle cx="339.5" cy="391.8" r="2.6"/><circle cx="330.6" cy="391.2" r="2.6"/><circle cx="358.6" cy="376.1" r="2.6"/><circle cx="365.8" cy="371.1" r="2.6"/><circle cx="351.4" cy="387.6" r="2.6"/><circle cx="329.8" cy="394.7" r="2.6"/><circle cx="363.1" cy="395.4" r="2.6"/><circle cx="366.5" cy="395.2" r="2.6"/><circle cx="430.4" cy="387.4" r="2.6"/><circle cx="472.4" cy="380.5" r="2.6"/><circle cx="401.6" cy="376.2" r="2.6"/><circle cx="352.8" cy="393.5" r="2.6"/><circle cx="334.4" cy="382.3" r="2.6"/><circle cx="376.4" cy="384.0" r="2.6"/><circle cx="353.4" cy="377.1" r="2.6"/><circle cx="430.8" cy="377.6" r="2.6"/><circle cx="528.1" cy="389.2" r="2.6"/><circle cx="489.6" cy="393.2" r="2.6"/><circle cx="361.5" cy="374.1" r="2.6"/><circle cx="319.7" cy="393.1" r="2.6"/><circle cx="327.7" cy="395.4" r="2.6"/><circle cx="419.5" cy="379.3" r="2.6"/><circle cx="401.5" cy="394.1" r="2.6"/><circle cx="481.1" cy="392.9" r="2.6"/><circle cx="331.7" cy="386.4" r="2.6"/><circle cx="374.3" cy="393.9" r="2.6"/><circle cx="481.9" cy="378.6" r="2.6"/><circle cx="452.5" cy="389.8" r="2.6"/><circle cx="439.7" cy="384.8" r="2.6"/><circle cx="535.8" cy="390.0" r="2.6"/><circle cx="339.1" cy="394.0" r="2.6"/><circle cx="359.6" cy="383.5" r="2.6"/><circle cx="451.9" cy="393.4" r="2.6"/><circle cx="451.8" cy="382.6" r="2.6"/><circle cx="555.3" cy="378.6" r="2.6"/><circle cx="554.7" cy="392.9" r="2.6"/><circle cx="457.3" cy="372.4" r="2.6"/><circle cx="500.1" cy="388.7" r="2.6"/><circle cx="484.8" cy="391.3" r="2.6"/><circle cx="344.0" cy="393.1" r="2.6"/><circle cx="461.1" cy="387.1" r="2.6"/><circle cx="387.1" cy="393.4" r="2.6"/><circle cx="400.4" cy="394.1" r="2.6"/><circle cx="349.8" cy="392.9" r="2.6"/><circle cx="312.9" cy="387.0" r="2.6"/><circle cx="523.8" cy="395.4" r="2.6"/><circle cx="489.7" cy="382.7" r="2.6"/><circle cx="498.5" cy="372.5" r="2.6"/><circle cx="382.7" cy="391.0" r="2.6"/><circle cx="414.9" cy="383.5" r="2.6"/><circle cx="354.7" cy="392.5" r="2.6"/><circle cx="461.0" cy="382.2" r="2.6"/><circle cx="520.2" cy="392.2" r="2.6"/><circle cx="505.1" cy="381.0" r="2.6"/><circle cx="543.8" cy="390.8" r="2.6"/><circle cx="375.8" cy="391.5" r="2.6"/><circle cx="485.8" cy="392.0" r="2.6"/><circle cx="342.4" cy="395.7" r="2.6"/><circle cx="444.6" cy="394.5" r="2.6"/><circle cx="338.3" cy="395.2" r="2.6"/><circle cx="445.6" cy="395.4" r="2.6"/><circle cx="446.1" cy="389.7" r="2.6"/><circle cx="397.4" cy="395.0" r="2.6"/><circle cx="398.0" cy="387.8" r="2.6"/><circle cx="488.2" cy="392.7" r="2.6"/><circle cx="430.8" cy="379.0" r="2.6"/><circle cx="412.5" cy="395.1" r="2.6"/><circle cx="338.9" cy="392.8" r="2.6"/><circle cx="381.2" cy="387.2" r="2.6"/><circle cx="522.1" cy="383.1" r="2.6"/><circle cx="553.3" cy="395.7" r="2.6"/><circle cx="403.9" cy="367.9" r="2.6"/><circle cx="528.1" cy="393.9" r="2.6"/><circle cx="528.8" cy="385.7" r="2.6"/><circle cx="365.2" cy="389.5" r="2.6"/><circle cx="379.1" cy="383.7" r="2.6"/><circle cx="484.5" cy="389.9" r="2.6"/><circle cx="387.1" cy="389.9" r="2.6"/><circle cx="549.1" cy="393.8" r="2.6"/><circle cx="401.9" cy="395.0" r="2.6"/><circle cx="493.0" cy="376.4" r="2.6"/><circle cx="487.3" cy="384.2" r="2.6"/><circle cx="364.1" cy="390.9" r="2.6"/><circle cx="526.9" cy="394.1" r="2.6"/><circle cx="392.8" cy="391.0" r="2.6"/><circle cx="338.3" cy="387.9" r="2.6"/><circle cx="323.3" cy="391.7" r="2.6"/><circle cx="423.5" cy="389.9" r="2.6"/><circle cx="468.7" cy="391.1" r="2.6"/><circle cx="378.5" cy="385.1" r="2.6"/><circle cx="520.9" cy="373.7" r="2.6"/><circle cx="377.5" cy="395.1" r="2.6"/><circle cx="522.2" cy="394.0" r="2.6"/><circle cx="319.1" cy="394.0" r="2.6"/><circle cx="376.3" cy="393.8" r="2.6"/><circle cx="350.6" cy="384.7" r="2.6"/><circle cx="422.5" cy="394.2" r="2.6"/><circle cx="398.3" cy="395.7" r="2.6"/><circle cx="409.3" cy="389.4" r="2.6"/><circle cx="523.3" cy="387.5" r="2.6"/><circle cx="455.4" cy="380.6" r="2.6"/><circle cx="461.9" cy="387.4" r="2.6"/><circle cx="408.1" cy="390.9" r="2.6"/><circle cx="512.4" cy="393.7" r="2.6"/><circle cx="436.0" cy="394.5" r="2.6"/><circle cx="496.9" cy="394.7" r="2.6"/><circle cx="538.9" cy="395.0" r="2.6"/><circle cx="463.5" cy="390.0" r="2.6"/><circle cx="419.4" cy="378.3" r="2.6"/><circle cx="376.6" cy="389.0" r="2.6"/><circle cx="538.3" cy="384.6" r="2.6"/><circle cx="501.6" cy="382.0" r="2.6"/><circle cx="510.3" cy="390.4" r="2.6"/><circle cx="366.0" cy="393.8" r="2.6"/><circle cx="419.8" cy="383.9" r="2.6"/><circle cx="531.3" cy="395.1" r="2.6"/><circle cx="372.2" cy="391.0" r="2.6"/><circle cx="513.9" cy="394.6" r="2.6"/><circle cx="445.2" cy="391.2" r="2.6"/><circle cx="365.4" cy="393.3" r="2.6"/><circle cx="404.5" cy="389.2" r="2.6"/><circle cx="329.8" cy="392.1" r="2.6"/><circle cx="478.7" cy="394.1" r="2.6"/><circle cx="492.2" cy="390.4" r="2.6"/><circle cx="318.0" cy="393.5" r="2.6"/><circle cx="386.0" cy="389.7" r="2.6"/><circle cx="502.6" cy="395.5" r="2.6"/><circle cx="360.8" cy="381.1" r="2.6"/><circle cx="444.8" cy="395.4" r="2.6"/><circle cx="511.9" cy="388.5" r="2.6"/><circle cx="453.0" cy="395.7" r="2.6"/><circle cx="341.3" cy="359.4" r="2.6"/><circle cx="537.6" cy="392.7" r="2.6"/><circle cx="497.1" cy="387.4" r="2.6"/><circle cx="451.8" cy="394.3" r="2.6"/><circle cx="393.8" cy="391.6" r="2.6"/><circle cx="456.1" cy="394.5" r="2.6"/><circle cx="408.5" cy="379.2" r="2.6"/><circle cx="340.4" cy="392.7" r="2.6"/><circle cx="341.3" cy="392.9" r="2.6"/><circle cx="322.1" cy="388.3" r="2.6"/><circle cx="353.3" cy="394.8" r="2.6"/><circle cx="372.1" cy="382.9" r="2.6"/><circle cx="469.3" cy="393.2" r="2.6"/><circle cx="455.6" cy="394.6" r="2.6"/><circle cx="458.1" cy="394.6" r="2.6"/><circle cx="515.9" cy="386.7" r="2.6"/><circle cx="334.5" cy="394.1" r="2.6"/><circle cx="407.8" cy="395.4" r="2.6"/><circle cx="330.6" cy="391.9" r="2.6"/><circle cx="415.3" cy="393.0" r="2.6"/><circle cx="330.5" cy="392.4" r="2.6"/><circle cx="327.4" cy="394.0" r="2.6"/><circle cx="336.8" cy="389.4" r="2.6"/><circle cx="408.1" cy="395.6" r="2.6"/><circle cx="501.2" cy="395.1" r="2.6"/><circle cx="381.1" cy="387.7" r="2.6"/><circle cx="495.9" cy="377.0" r="2.6"/><circle cx="369.0" cy="393.4" r="2.6"/><circle cx="382.5" cy="394.9" r="2.6"/><circle cx="428.4" cy="375.4" r="2.6"/><circle cx="329.5" cy="394.5" r="2.6"/><circle cx="422.8" cy="395.4" r="2.6"/><circle cx="456.4" cy="381.7" r="2.6"/><circle cx="516.5" cy="389.2" r="2.6"/><circle cx="324.8" cy="390.5" r="2.6"/><circle cx="510.4" cy="392.3" r="2.6"/><circle cx="452.9" cy="392.0" r="2.6"/><circle cx="455.1" cy="384.5" r="2.6"/><circle cx="323.5" cy="357.8" r="2.6"/><circle cx="530.3" cy="392.7" r="2.6"/><circle cx="380.0" cy="394.1" r="2.6"/><circle cx="447.1" cy="384.7" r="2.6"/><circle cx="445.2" cy="389.1" r="2.6"/><circle cx="537.9" cy="394.9" r="2.6"/><circle cx="460.9" cy="393.9" r="2.6"/><circle cx="558.1" cy="393.9" r="2.6"/><circle cx="368.7" cy="384.8" r="2.6"/><circle cx="476.0" cy="393.4" r="2.6"/><circle cx="454.7" cy="391.3" r="2.6"/><circle cx="438.9" cy="391.4" r="2.6"/><circle cx="467.4" cy="393.0" r="2.6"/><circle cx="448.2" cy="393.0" r="2.6"/><circle cx="394.8" cy="389.0" r="2.6"/><circle cx="470.9" cy="390.3" r="2.6"/><circle cx="331.6" cy="381.6" r="2.6"/><circle cx="430.3" cy="386.4" r="2.6"/><circle cx="423.8" cy="395.3" r="2.6"/><circle cx="364.0" cy="395.2" r="2.6"/><circle cx="452.5" cy="387.8" r="2.6"/><circle cx="477.9" cy="376.6" r="2.6"/><circle cx="342.0" cy="392.1" r="2.6"/><circle cx="384.9" cy="393.2" r="2.6"/><circle cx="326.3" cy="389.9" r="2.6"/><circle cx="459.8" cy="371.9" r="2.6"/><circle cx="331.2" cy="391.6" r="2.6"/><circle cx="368.0" cy="393.3" r="2.6"/><circle cx="422.5" cy="394.3" r="2.6"/><circle cx="423.5" cy="392.4" r="2.6"/><circle cx="319.0" cy="377.0" r="2.6"/><circle cx="547.2" cy="391.0" r="2.6"/><circle cx="368.2" cy="377.9" r="2.6"/><circle cx="463.0" cy="384.6" r="2.6"/><circle cx="366.2" cy="395.3" r="2.6"/><circle cx="459.4" cy="388.5" r="2.6"/><circle cx="398.8" cy="389.3" r="2.6"/><circle cx="390.3" cy="387.6" r="2.6"/><circle cx="429.2" cy="383.3" r="2.6"/><circle cx="457.1" cy="385.1" r="2.6"/><circle cx="460.0" cy="393.9" r="2.6"/><circle cx="482.6" cy="389.9" r="2.6"/><circle cx="377.8" cy="387.9" r="2.6"/><circle cx="333.7" cy="391.9" r="2.6"/><circle cx="374.0" cy="385.5" r="2.6"/><circle cx="392.3" cy="393.1" r="2.6"/><circle cx="462.3" cy="390.8" r="2.6"/><circle cx="414.2" cy="390.3" r="2.6"/><circle cx="388.5" cy="392.7" r="2.6"/><circle cx="335.3" cy="386.8" r="2.6"/><circle cx="459.7" cy="391.6" r="2.6"/><circle cx="338.2" cy="390.3" r="2.6"/><circle cx="439.8" cy="394.1" r="2.6"/><circle cx="482.5" cy="388.1" r="2.6"/><circle cx="466.3" cy="389.2" r="2.6"/><circle cx="350.7" cy="384.6" r="2.6"/><circle cx="399.6" cy="395.5" r="2.6"/><circle cx="545.6" cy="393.5" r="2.6"/><circle cx="333.4" cy="382.4" r="2.6"/><circle cx="480.2" cy="389.9" r="2.6"/><circle cx="419.7" cy="393.0" r="2.6"/><circle cx="463.9" cy="387.2" r="2.6"/><circle cx="409.0" cy="393.7" r="2.6"/><circle cx="341.7" cy="392.4" r="2.6"/><circle cx="451.1" cy="389.0" r="2.6"/><circle cx="312.3" cy="390.7" r="2.6"/><circle cx="526.4" cy="395.5" r="2.6"/><circle cx="510.1" cy="382.6" r="2.6"/><circle cx="404.1" cy="393.3" r="2.6"/><circle cx="444.9" cy="393.6" r="2.6"/><circle cx="442.4" cy="390.2" r="2.6"/><circle cx="555.2" cy="384.2" r="2.6"/><circle cx="321.7" cy="390.0" r="2.6"/><circle cx="385.1" cy="384.9" r="2.6"/><circle cx="412.4" cy="387.7" r="2.6"/><circle cx="507.3" cy="391.3" r="2.6"/><circle cx="492.9" cy="381.2" r="2.6"/><circle cx="416.4" cy="390.5" r="2.6"/><circle cx="313.7" cy="395.3" r="2.6"/><circle cx="472.5" cy="394.8" r="2.6"/><circle cx="412.3" cy="394.9" r="2.6"/><circle cx="339.9" cy="380.8" r="2.6"/><circle cx="468.2" cy="394.3" r="2.6"/><circle cx="421.8" cy="395.0" r="2.6"/><circle cx="387.2" cy="387.6" r="2.6"/><circle cx="378.0" cy="385.0" r="2.6"/><circle cx="440.7" cy="389.9" r="2.6"/><circle cx="372.6" cy="384.9" r="2.6"/><circle cx="408.9" cy="389.7" r="2.6"/><circle cx="545.8" cy="381.0" r="2.6"/><circle cx="430.0" cy="392.2" r="2.6"/><circle cx="374.0" cy="374.6" r="2.6"/><circle cx="440.9" cy="394.8" r="2.6"/><circle cx="539.7" cy="395.3" r="2.6"/><circle cx="526.9" cy="392.8" r="2.6"/><circle cx="479.8" cy="385.1" r="2.6"/><circle cx="535.1" cy="392.7" r="2.6"/><circle cx="499.6" cy="381.6" r="2.6"/><circle cx="480.5" cy="394.9" r="2.6"/><circle cx="417.6" cy="395.3" r="2.6"/><circle cx="348.1" cy="392.5" r="2.6"/><circle cx="493.4" cy="386.9" r="2.6"/><circle cx="469.0" cy="390.5" r="2.6"/><circle cx="552.3" cy="395.6" r="2.6"/><circle cx="390.9" cy="391.8" r="2.6"/><circle cx="529.5" cy="393.4" r="2.6"/><circle cx="365.3" cy="380.8" r="2.6"/><circle cx="546.9" cy="385.6" r="2.6"/><circle cx="559.3" cy="394.1" r="2.6"/><circle cx="322.6" cy="379.3" r="2.6"/><circle cx="391.8" cy="395.1" r="2.6"/><circle cx="559.9" cy="386.2" r="2.6"/><circle cx="552.4" cy="394.9" r="2.6"/><circle cx="478.1" cy="386.1" r="2.6"/><circle cx="344.4" cy="395.4" r="2.6"/><circle cx="312.5" cy="391.1" r="2.6"/><circle cx="373.0" cy="389.6" r="2.6"/><circle cx="546.4" cy="394.7" r="2.6"/><circle cx="511.6" cy="388.9" r="2.6"/><circle cx="417.7" cy="393.7" r="2.6"/><circle cx="500.7" cy="379.6" r="2.6"/><circle cx="535.9" cy="393.6" r="2.6"/><circle cx="385.6" cy="391.4" r="2.6"/><circle cx="529.0" cy="389.9" r="2.6"/><circle cx="378.0" cy="380.3" r="2.6"/><circle cx="392.8" cy="394.8" r="2.6"/><circle cx="322.0" cy="390.7" r="2.6"/><circle cx="350.8" cy="392.6" r="2.6"/><circle cx="448.2" cy="394.7" r="2.6"/><circle cx="316.8" cy="392.4" r="2.6"/><circle cx="447.0" cy="392.0" r="2.6"/><circle cx="353.2" cy="385.9" r="2.6"/><circle cx="497.6" cy="386.0" r="2.6"/><circle cx="342.7" cy="393.8" r="2.6"/><circle cx="362.4" cy="371.2" r="2.6"/><circle cx="377.9" cy="395.2" r="2.6"/><circle cx="456.2" cy="391.8" r="2.6"/><circle cx="512.5" cy="394.2" r="2.6"/><circle cx="498.7" cy="392.0" r="2.6"/><circle cx="495.7" cy="391.3" r="2.6"/><circle cx="480.9" cy="390.6" r="2.6"/><circle cx="446.4" cy="393.8" r="2.6"/><circle cx="396.3" cy="395.1" r="2.6"/><circle cx="355.7" cy="379.1" r="2.6"/><circle cx="526.3" cy="391.6" r="2.6"/><circle cx="412.9" cy="393.2" r="2.6"/><circle cx="473.0" cy="385.9" r="2.6"/><circle cx="327.8" cy="392.0" r="2.6"/><circle cx="400.8" cy="387.9" r="2.6"/><circle cx="335.9" cy="395.0" r="2.6"/><circle cx="399.3" cy="395.0" r="2.6"/><circle cx="493.7" cy="391.7" r="2.6"/><circle cx="395.9" cy="357.4" r="2.6"/><circle cx="481.0" cy="382.4" r="2.6"/><circle cx="341.5" cy="378.0" r="2.6"/><circle cx="406.9" cy="392.5" r="2.6"/><circle cx="413.1" cy="395.4" r="2.6"/><circle cx="437.8" cy="394.3" r="2.6"/><circle cx="367.8" cy="393.1" r="2.6"/><circle cx="485.1" cy="390.4" r="2.6"/><circle cx="530.9" cy="395.3" r="2.6"/><circle cx="513.6" cy="395.7" r="2.6"/><circle cx="318.5" cy="393.9" r="2.6"/><circle cx="432.6" cy="393.5" r="2.6"/><circle cx="396.6" cy="385.9" r="2.6"/><circle cx="453.7" cy="395.6" r="2.6"/><circle cx="331.6" cy="391.7" r="2.6"/><circle cx="492.8" cy="385.5" r="2.6"/><circle cx="414.8" cy="370.9" r="2.6"/><circle cx="546.3" cy="395.2" r="2.6"/><circle cx="315.6" cy="394.6" r="2.6"/><circle cx="415.0" cy="387.9" r="2.6"/><circle cx="432.2" cy="390.2" r="2.6"/><circle cx="518.2" cy="393.2" r="2.6"/><circle cx="499.5" cy="395.5" r="2.6"/><circle cx="356.2" cy="394.4" r="2.6"/><circle cx="387.6" cy="395.4" r="2.6"/><circle cx="494.4" cy="393.3" r="2.6"/><circle cx="415.5" cy="390.9" r="2.6"/><circle cx="376.4" cy="393.2" r="2.6"/><circle cx="543.0" cy="378.1" r="2.6"/><circle cx="521.2" cy="387.7" r="2.6"/><circle cx="399.5" cy="394.0" r="2.6"/><circle cx="447.9" cy="384.7" r="2.6"/><circle cx="542.6" cy="389.0" r="2.6"/><circle cx="364.8" cy="390.4" r="2.6"/><circle cx="537.6" cy="384.3" r="2.6"/><circle cx="531.5" cy="394.4" r="2.6"/><circle cx="492.1" cy="385.3" r="2.6"/><circle cx="482.0" cy="389.0" r="2.6"/><circle cx="481.7" cy="391.6" r="2.6"/><circle cx="446.6" cy="391.6" r="2.6"/><circle cx="456.1" cy="384.0" r="2.6"/><circle cx="360.0" cy="393.0" r="2.6"/><circle cx="451.2" cy="385.6" r="2.6"/><circle cx="478.7" cy="380.1" r="2.6"/><circle cx="431.9" cy="394.4" r="2.6"/><circle cx="480.3" cy="388.8" r="2.6"/><circle cx="425.1" cy="386.9" r="2.6"/><circle cx="511.3" cy="393.4" r="2.6"/><circle cx="490.7" cy="390.0" r="2.6"/><circle cx="333.0" cy="383.1" r="2.6"/><circle cx="502.7" cy="384.8" r="2.6"/><circle cx="381.9" cy="386.9" r="2.6"/><circle cx="331.1" cy="394.3" r="2.6"/><circle cx="341.0" cy="382.9" r="2.6"/><circle cx="391.6" cy="393.2" r="2.6"/><circle cx="441.7" cy="391.1" r="2.6"/><circle cx="393.2" cy="393.3" r="2.6"/><circle cx="361.6" cy="389.4" r="2.6"/><circle cx="502.7" cy="387.0" r="2.6"/><circle cx="404.1" cy="394.4" r="2.6"/><circle cx="528.8" cy="390.7" r="2.6"/><circle cx="371.8" cy="385.3" r="2.6"/><circle cx="482.9" cy="382.2" r="2.6"/><circle cx="400.0" cy="394.4" r="2.6"/><circle cx="522.8" cy="393.2" r="2.6"/><circle cx="472.1" cy="394.1" r="2.6"/><circle cx="480.1" cy="395.2" r="2.6"/><circle cx="334.0" cy="388.2" r="2.6"/><circle cx="498.3" cy="395.2" r="2.6"/><circle cx="399.2" cy="393.4" r="2.6"/><circle cx="495.5" cy="374.4" r="2.6"/><circle cx="521.7" cy="381.7" r="2.6"/><circle cx="341.3" cy="394.8" r="2.6"/><circle cx="314.6" cy="393.3" r="2.6"/><circle cx="499.9" cy="393.9" r="2.6"/><circle cx="552.4" cy="395.6" r="2.6"/><circle cx="535.4" cy="380.6" r="2.6"/><circle cx="419.5" cy="380.5" r="2.6"/><circle cx="518.8" cy="390.3" r="2.6"/><circle cx="316.7" cy="394.1" r="2.6"/><circle cx="325.4" cy="395.5" r="2.6"/><circle cx="455.9" cy="377.6" r="2.6"/><circle cx="442.4" cy="386.4" r="2.6"/><circle cx="516.6" cy="393.1" r="2.6"/><circle cx="369.0" cy="369.4" r="2.6"/><circle cx="426.2" cy="392.7" r="2.6"/><circle cx="557.7" cy="387.9" r="2.6"/><circle cx="386.3" cy="394.6" r="2.6"/><circle cx="411.7" cy="379.0" r="2.6"/><circle cx="462.4" cy="384.6" r="2.6"/><circle cx="559.1" cy="388.5" r="2.6"/><circle cx="356.4" cy="393.7" r="2.6"/><circle cx="483.2" cy="363.8" r="2.6"/><circle cx="414.1" cy="392.9" r="2.6"/><circle cx="410.8" cy="389.7" r="2.6"/><circle cx="374.9" cy="392.9" r="2.6"/><circle cx="426.9" cy="391.1" r="2.6"/><circle cx="454.2" cy="391.0" r="2.6"/><circle cx="408.7" cy="386.9" r="2.6"/><circle cx="437.0" cy="395.1" r="2.6"/><circle cx="469.5" cy="395.7" r="2.6"/><circle cx="523.3" cy="390.6" r="2.6"/><circle cx="450.8" cy="394.8" r="2.6"/><circle cx="406.3" cy="382.4" r="2.6"/><circle cx="550.7" cy="382.3" r="2.6"/><circle cx="353.8" cy="390.6" r="2.6"/><circle cx="322.2" cy="385.7" r="2.6"/><circle cx="537.4" cy="389.4" r="2.6"/><circle cx="377.1" cy="388.1" r="2.6"/><circle cx="348.6" cy="394.5" r="2.6"/><circle cx="406.9" cy="394.8" r="2.6"/><circle cx="396.4" cy="394.7" r="2.6"/><circle cx="399.3" cy="392.1" r="2.6"/><circle cx="523.2" cy="383.2" r="2.6"/><circle cx="383.3" cy="391.1" r="2.6"/><circle cx="343.9" cy="395.4" r="2.6"/><circle cx="364.6" cy="385.7" r="2.6"/><circle cx="547.7" cy="376.2" r="2.6"/><circle cx="417.8" cy="395.3" r="2.6"/><circle cx="400.8" cy="385.2" r="2.6"/><circle cx="504.8" cy="395.5" r="2.6"/><circle cx="544.2" cy="384.0" r="2.6"/><circle cx="438.1" cy="374.5" r="2.6"/><circle cx="514.0" cy="388.7" r="2.6"/><circle cx="376.8" cy="394.0" r="2.6"/><circle cx="398.2" cy="380.3" r="2.6"/><circle cx="454.6" cy="391.9" r="2.6"/><circle cx="369.8" cy="392.5" r="2.6"/><circle cx="379.5" cy="388.6" r="2.6"/><circle cx="357.6" cy="389.3" r="2.6"/><circle cx="376.2" cy="390.9" r="2.6"/><circle cx="520.2" cy="386.8" r="2.6"/><circle cx="509.1" cy="385.9" r="2.6"/><circle cx="339.2" cy="390.5" r="2.6"/><circle cx="397.9" cy="394.7" r="2.6"/><circle cx="491.0" cy="395.1" r="2.6"/><circle cx="525.3" cy="391.6" r="2.6"/><circle cx="450.6" cy="392.4" r="2.6"/><circle cx="492.1" cy="377.5" r="2.6"/><circle cx="370.0" cy="393.3" r="2.6"/><circle cx="505.9" cy="392.6" r="2.6"/><circle cx="515.6" cy="354.4" r="2.6"/><circle cx="412.3" cy="382.8" r="2.6"/><circle cx="369.6" cy="387.9" r="2.6"/><circle cx="319.1" cy="393.7" r="2.6"/><circle cx="467.9" cy="379.6" r="2.6"/><circle cx="468.6" cy="387.0" r="2.6"/><circle cx="311.1" cy="395.6" r="2.6"/><circle cx="440.6" cy="386.6" r="2.6"/><circle cx="544.9" cy="378.9" r="2.6"/><circle cx="318.0" cy="359.8" r="2.6"/><circle cx="345.1" cy="394.2" r="2.6"/><circle cx="325.2" cy="391.5" r="2.6"/><circle cx="419.7" cy="388.0" r="2.6"/><circle cx="406.8" cy="378.7" r="2.6"/><circle cx="527.9" cy="393.4" r="2.6"/><circle cx="327.4" cy="394.6" r="2.6"/><circle cx="360.8" cy="395.1" r="2.6"/><circle cx="544.8" cy="395.6" r="2.6"/><circle cx="315.5" cy="392.2" r="2.6"/><circle cx="375.5" cy="394.8" r="2.6"/><circle cx="409.2" cy="388.2" r="2.6"/><circle cx="310.9" cy="391.6" r="2.6"/><circle cx="382.5" cy="388.7" r="2.6"/><circle cx="461.2" cy="375.4" r="2.6"/><circle cx="464.3" cy="394.1" r="2.6"/><circle cx="462.7" cy="394.8" r="2.6"/><circle cx="473.2" cy="354.8" r="2.6"/><circle cx="464.1" cy="389.0" r="2.6"/><circle cx="319.4" cy="387.0" r="2.6"/><circle cx="474.2" cy="392.7" r="2.6"/><circle cx="456.5" cy="382.6" r="2.6"/><circle cx="365.1" cy="389.7" r="2.6"/><circle cx="415.5" cy="388.0" r="2.6"/><circle cx="370.1" cy="395.6" r="2.6"/><circle cx="527.4" cy="395.0" r="2.6"/><circle cx="380.4" cy="394.6" r="2.6"/><circle cx="351.4" cy="392.1" r="2.6"/><circle cx="509.6" cy="386.2" r="2.6"/><circle cx="500.7" cy="387.6" r="2.6"/><circle cx="523.4" cy="372.4" r="2.6"/><circle cx="479.8" cy="383.6" r="2.6"/><circle cx="414.8" cy="390.9" r="2.6"/><circle cx="429.4" cy="394.2" r="2.6"/><circle cx="449.3" cy="366.7" r="2.6"/><circle cx="459.5" cy="380.2" r="2.6"/><circle cx="546.6" cy="395.7" r="2.6"/><circle cx="377.0" cy="395.7" r="2.6"/><circle cx="502.5" cy="388.6" r="2.6"/><circle cx="315.0" cy="387.5" r="2.6"/><circle cx="358.3" cy="383.8" r="2.6"/><circle cx="546.4" cy="394.8" r="2.6"/><circle cx="373.4" cy="391.7" r="2.6"/><circle cx="438.3" cy="380.5" r="2.6"/><circle cx="539.5" cy="395.3" r="2.6"/><circle cx="474.1" cy="394.8" r="2.6"/><circle cx="432.7" cy="374.1" r="2.6"/><circle cx="485.9" cy="386.2" r="2.6"/><circle cx="554.9" cy="393.8" r="2.6"/><circle cx="545.6" cy="394.8" r="2.6"/><circle cx="356.0" cy="392.5" r="2.6"/><circle cx="345.7" cy="388.4" r="2.6"/><circle cx="382.6" cy="375.1" r="2.6"/><circle cx="347.0" cy="387.6" r="2.6"/><circle cx="501.4" cy="394.9" r="2.6"/><circle cx="518.8" cy="384.1" r="2.6"/><circle cx="345.9" cy="390.7" r="2.6"/><circle cx="329.1" cy="390.0" r="2.6"/><circle cx="391.6" cy="394.0" r="2.6"/><circle cx="482.2" cy="394.1" r="2.6"/><circle cx="503.0" cy="395.0" r="2.6"/><circle cx="425.7" cy="386.1" r="2.6"/><circle cx="470.2" cy="381.6" r="2.6"/><circle cx="539.7" cy="393.3" r="2.6"/><circle cx="530.4" cy="385.4" r="2.6"/><circle cx="340.2" cy="388.8" r="2.6"/><circle cx="488.8" cy="385.4" r="2.6"/><circle cx="504.6" cy="389.5" r="2.6"/><circle cx="537.2" cy="387.3" r="2.6"/><circle cx="415.1" cy="395.4" r="2.6"/><circle cx="349.7" cy="389.5" r="2.6"/><circle cx="429.0" cy="383.7" r="2.6"/><circle cx="403.2" cy="350.4" r="2.6"/><circle cx="409.0" cy="388.7" r="2.6"/><circle cx="511.1" cy="392.8" r="2.6"/><circle cx="473.4" cy="392.2" r="2.6"/><circle cx="480.5" cy="393.5" r="2.6"/><circle cx="473.6" cy="376.8" r="2.6"/><circle cx="346.1" cy="393.6" r="2.6"/><circle cx="325.4" cy="387.7" r="2.6"/><circle cx="409.4" cy="392.2" r="2.6"/><circle cx="522.8" cy="390.2" r="2.6"/><circle cx="472.6" cy="389.7" r="2.6"/><circle cx="508.2" cy="392.0" r="2.6"/><circle cx="466.1" cy="390.2" r="2.6"/><circle cx="506.5" cy="377.5" r="2.6"/><circle cx="559.3" cy="391.4" r="2.6"/><circle cx="488.8" cy="391.7" r="2.6"/><circle cx="525.8" cy="394.7" r="2.6"/><circle cx="553.5" cy="393.1" r="2.6"/><circle cx="495.6" cy="394.1" r="2.6"/><circle cx="513.6" cy="392.5" r="2.6"/><circle cx="330.4" cy="395.5" r="2.6"/><circle cx="319.9" cy="391.8" r="2.6"/><circle cx="541.2" cy="385.8" r="2.6"/><circle cx="370.1" cy="395.5" r="2.6"/><circle cx="387.0" cy="393.5" r="2.6"/><circle cx="344.5" cy="384.8" r="2.6"/><circle cx="469.1" cy="389.8" r="2.6"/><circle cx="318.2" cy="388.6" r="2.6"/><circle cx="510.2" cy="395.4" r="2.6"/><circle cx="385.2" cy="388.9" r="2.6"/><circle cx="496.4" cy="389.6" r="2.6"/><circle cx="538.0" cy="389.9" r="2.6"/><circle cx="483.0" cy="385.7" r="2.6"/><circle cx="416.7" cy="391.0" r="2.6"/><circle cx="466.7" cy="395.2" r="2.6"/><circle cx="524.2" cy="376.0" r="2.6"/><circle cx="488.3" cy="392.5" r="2.6"/><circle cx="373.7" cy="386.6" r="2.6"/><circle cx="312.7" cy="394.7" r="2.6"/><circle cx="530.3" cy="389.2" r="2.6"/><circle cx="466.3" cy="395.2" r="2.6"/><circle cx="326.6" cy="395.0" r="2.6"/><circle cx="448.3" cy="394.5" r="2.6"/><circle cx="457.8" cy="392.8" r="2.6"/><circle cx="384.0" cy="394.2" r="2.6"/><circle cx="531.9" cy="391.6" r="2.6"/><circle cx="370.6" cy="395.4" r="2.6"/><circle cx="346.7" cy="395.6" r="2.6"/><circle cx="388.0" cy="392.0" r="2.6"/><circle cx="395.2" cy="382.9" r="2.6"/><circle cx="531.4" cy="388.9" r="2.6"/><circle cx="474.7" cy="390.7" r="2.6"/><circle cx="341.2" cy="379.9" r="2.6"/><circle cx="409.0" cy="393.9" r="2.6"/><circle cx="336.4" cy="382.4" r="2.6"/><circle cx="486.9" cy="393.7" r="2.6"/><circle cx="524.1" cy="394.9" r="2.6"/><circle cx="334.1" cy="395.3" r="2.6"/><circle cx="435.5" cy="394.4" r="2.6"/><circle cx="371.8" cy="389.5" r="2.6"/><circle cx="381.9" cy="384.7" r="2.6"/><circle cx="497.1" cy="392.3" r="2.6"/><circle cx="554.6" cy="392.7" r="2.6"/><circle cx="380.4" cy="389.4" r="2.6"/><circle cx="446.2" cy="392.8" r="2.6"/><circle cx="388.2" cy="395.2" r="2.6"/><circle cx="326.3" cy="379.6" r="2.6"/><circle cx="461.1" cy="391.6" r="2.6"/><circle cx="349.6" cy="392.5" r="2.6"/><circle cx="482.4" cy="390.4" r="2.6"/><circle cx="497.2" cy="390.3" r="2.6"/><circle cx="346.3" cy="388.3" r="2.6"/><circle cx="459.6" cy="394.4" r="2.6"/><circle cx="362.8" cy="393.7" r="2.6"/><circle cx="501.2" cy="392.5" r="2.6"/><circle cx="382.1" cy="373.1" r="2.6"/><circle cx="482.8" cy="390.5" r="2.6"/><circle cx="472.4" cy="394.0" r="2.6"/><circle cx="454.3" cy="389.4" r="2.6"/><circle cx="365.1" cy="362.7" r="2.6"/><circle cx="519.0" cy="395.5" r="2.6"/><circle cx="399.3" cy="363.6" r="2.6"/><circle cx="503.1" cy="391.2" r="2.6"/><circle cx="429.3" cy="377.6" r="2.6"/><circle cx="422.6" cy="387.9" r="2.6"/><circle cx="488.5" cy="393.5" r="2.6"/><circle cx="395.8" cy="392.5" r="2.6"/><circle cx="501.3" cy="393.1" r="2.6"/><circle cx="421.8" cy="395.3" r="2.6"/><circle cx="495.6" cy="386.5" r="2.6"/><circle cx="484.8" cy="385.1" r="2.6"/><circle cx="546.7" cy="373.7" r="2.6"/><circle cx="412.8" cy="395.7" r="2.6"/><circle cx="397.9" cy="394.2" r="2.6"/><circle cx="559.0" cy="394.7" r="2.6"/><circle cx="439.6" cy="391.3" r="2.6"/><circle cx="415.2" cy="383.7" r="2.6"/><circle cx="485.6" cy="393.2" r="2.6"/><circle cx="373.2" cy="391.5" r="2.6"/><circle cx="549.8" cy="389.7" r="2.6"/><circle cx="498.9" cy="378.7" r="2.6"/><circle cx="472.7" cy="386.0" r="2.6"/><circle cx="383.6" cy="395.4" r="2.6"/><circle cx="512.7" cy="394.5" r="2.6"/><circle cx="540.1" cy="393.4" r="2.6"/><circle cx="508.3" cy="390.3" r="2.6"/><circle cx="538.4" cy="390.2" r="2.6"/><circle cx="333.8" cy="393.7" r="2.6"/><circle cx="495.7" cy="392.8" r="2.6"/><circle cx="526.9" cy="395.4" r="2.6"/><circle cx="429.6" cy="379.4" r="2.6"/><circle cx="330.8" cy="392.9" r="2.6"/><circle cx="446.2" cy="390.5" r="2.6"/><circle cx="371.3" cy="389.9" r="2.6"/><circle cx="318.9" cy="387.7" r="2.6"/><circle cx="544.3" cy="389.4" r="2.6"/><circle cx="518.5" cy="391.3" r="2.6"/><circle cx="469.1" cy="388.6" r="2.6"/><circle cx="497.6" cy="395.5" r="2.6"/><circle cx="478.3" cy="375.1" r="2.6"/><circle cx="426.3" cy="395.4" r="2.6"/><circle cx="341.1" cy="390.2" r="2.6"/><circle cx="382.8" cy="393.3" r="2.6"/><circle cx="437.1" cy="377.3" r="2.6"/><circle cx="456.0" cy="395.1" r="2.6"/><circle cx="386.0" cy="393.4" r="2.6"/><circle cx="342.5" cy="395.2" r="2.6"/><circle cx="396.2" cy="394.7" r="2.6"/><circle cx="357.1" cy="390.2" r="2.6"/><circle cx="543.0" cy="381.6" r="2.6"/><circle cx="365.9" cy="385.2" r="2.6"/><circle cx="409.1" cy="387.1" r="2.6"/><circle cx="446.0" cy="393.1" r="2.6"/><circle cx="373.7" cy="395.4" r="2.6"/><circle cx="434.3" cy="390.0" r="2.6"/><circle cx="448.7" cy="387.4" r="2.6"/><circle cx="323.1" cy="385.6" r="2.6"/><circle cx="547.2" cy="392.0" r="2.6"/><circle cx="445.0" cy="387.1" r="2.6"/><circle cx="347.2" cy="393.3" r="2.6"/><circle cx="555.9" cy="394.2" r="2.6"/><circle cx="352.8" cy="395.7" r="2.6"/><circle cx="492.3" cy="395.6" r="2.6"/><circle cx="431.2" cy="388.1" r="2.6"/><circle cx="375.1" cy="390.9" r="2.6"/><circle cx="405.5" cy="395.0" r="2.6"/><circle cx="430.9" cy="391.2" r="2.6"/><circle cx="403.3" cy="393.0" r="2.6"/><circle cx="372.4" cy="379.2" r="2.6"/><circle cx="414.6" cy="393.4" r="2.6"/><circle cx="419.5" cy="369.2" r="2.6"/><circle cx="482.4" cy="386.9" r="2.6"/><circle cx="360.1" cy="389.4" r="2.6"/><circle cx="322.1" cy="392.0" r="2.6"/><circle cx="518.8" cy="385.6" r="2.6"/><circle cx="328.1" cy="371.6" r="2.6"/><circle cx="468.3" cy="394.6" r="2.6"/><circle cx="447.8" cy="394.2" r="2.6"/><circle cx="554.1" cy="391.6" r="2.6"/><circle cx="358.2" cy="388.6" r="2.6"/><circle cx="532.3" cy="387.6" r="2.6"/><circle cx="343.3" cy="393.1" r="2.6"/><circle cx="353.6" cy="385.3" r="2.6"/><circle cx="473.9" cy="388.1" r="2.6"/><circle cx="352.1" cy="393.1" r="2.6"/><circle cx="457.1" cy="390.3" r="2.6"/><circle cx="479.2" cy="392.1" r="2.6"/><circle cx="342.1" cy="392.4" r="2.6"/><circle cx="507.9" cy="378.3" r="2.6"/><circle cx="416.4" cy="374.3" r="2.6"/><circle cx="552.1" cy="392.0" r="2.6"/><circle cx="313.7" cy="387.8" r="2.6"/><circle cx="330.4" cy="390.4" r="2.6"/><circle cx="465.5" cy="390.0" r="2.6"/><circle cx="375.0" cy="375.1" r="2.6"/><circle cx="411.3" cy="387.1" r="2.6"/><circle cx="537.6" cy="393.3" r="2.6"/><circle cx="396.6" cy="391.6" r="2.6"/><circle cx="323.6" cy="384.2" r="2.6"/><circle cx="346.5" cy="391.6" r="2.6"/><circle cx="449.4" cy="387.0" r="2.6"/><circle cx="504.1" cy="381.0" r="2.6"/><circle cx="499.9" cy="392.1" r="2.6"/><circle cx="428.5" cy="389.0" r="2.6"/><circle cx="370.6" cy="389.8" r="2.6"/><circle cx="342.9" cy="388.8" r="2.6"/><circle cx="366.5" cy="394.9" r="2.6"/><circle cx="360.8" cy="391.1" r="2.6"/><circle cx="537.2" cy="387.0" r="2.6"/><circle cx="412.5" cy="394.0" r="2.6"/><circle cx="339.9" cy="394.2" r="2.6"/><circle cx="470.0" cy="386.7" r="2.6"/><circle cx="424.9" cy="392.1" r="2.6"/><circle cx="318.1" cy="373.1" r="2.6"/><circle cx="555.3" cy="394.5" r="2.6"/><circle cx="546.9" cy="394.2" r="2.6"/><circle cx="376.3" cy="386.0" r="2.6"/><circle cx="518.6" cy="391.3" r="2.6"/><circle cx="424.3" cy="372.3" r="2.6"/><circle cx="478.9" cy="387.9" r="2.6"/><circle cx="473.8" cy="386.5" r="2.6"/><circle cx="493.4" cy="390.4" r="2.6"/><circle cx="420.7" cy="388.5" r="2.6"/><circle cx="347.4" cy="392.7" r="2.6"/><circle cx="511.5" cy="375.2" r="2.6"/><circle cx="420.7" cy="391.1" r="2.6"/><circle cx="421.1" cy="374.2" r="2.6"/><circle cx="500.2" cy="383.7" r="2.6"/><circle cx="481.8" cy="394.2" r="2.6"/><circle cx="557.6" cy="389.2" r="2.6"/><circle cx="407.6" cy="385.4" r="2.6"/><circle cx="469.2" cy="393.9" r="2.6"/><circle cx="331.7" cy="388.0" r="2.6"/><circle cx="338.9" cy="391.4" r="2.6"/><circle cx="374.3" cy="372.2" r="2.6"/><circle cx="380.6" cy="391.4" r="2.6"/><circle cx="422.1" cy="394.2" r="2.6"/><circle cx="367.9" cy="388.5" r="2.6"/><circle cx="544.4" cy="386.7" r="2.6"/><circle cx="417.6" cy="395.3" r="2.6"/><circle cx="406.2" cy="390.8" r="2.6"/><circle cx="535.9" cy="393.3" r="2.6"/><circle cx="509.3" cy="389.6" r="2.6"/><circle cx="503.0" cy="383.1" r="2.6"/><circle cx="538.9" cy="389.7" r="2.6"/><circle cx="494.6" cy="394.4" r="2.6"/><circle cx="387.1" cy="384.9" r="2.6"/><circle cx="550.7" cy="395.5" r="2.6"/><circle cx="317.6" cy="379.7" r="2.6"/><circle cx="534.6" cy="388.4" r="2.6"/><circle cx="415.4" cy="389.9" r="2.6"/><circle cx="395.0" cy="389.9" r="2.6"/><circle cx="429.2" cy="392.6" r="2.6"/><circle cx="410.6" cy="382.4" r="2.6"/><circle cx="525.5" cy="394.9" r="2.6"/><circle cx="511.9" cy="389.4" r="2.6"/><circle cx="497.1" cy="394.8" r="2.6"/><circle cx="368.9" cy="390.6" r="2.6"/><circle cx="420.6" cy="393.2" r="2.6"/><circle cx="329.5" cy="392.4" r="2.6"/><circle cx="496.1" cy="386.8" r="2.6"/><circle cx="321.3" cy="394.3" r="2.6"/><circle cx="409.6" cy="363.3" r="2.6"/><circle cx="348.5" cy="388.6" r="2.6"/><circle cx="523.4" cy="395.6" r="2.6"/><circle cx="540.0" cy="390.2" r="2.6"/><circle cx="383.0" cy="394.1" r="2.6"/><circle cx="528.5" cy="395.4" r="2.6"/><circle cx="355.2" cy="394.8" r="2.6"/><circle cx="488.2" cy="390.6" r="2.6"/><circle cx="373.3" cy="393.4" r="2.6"/><circle cx="422.0" cy="393.4" r="2.6"/><circle cx="463.2" cy="392.9" r="2.6"/><circle cx="398.4" cy="391.9" r="2.6"/><circle cx="360.2" cy="391.1" r="2.6"/><circle cx="457.5" cy="392.4" r="2.6"/><circle cx="508.9" cy="387.3" r="2.6"/><circle cx="559.3" cy="390.9" r="2.6"/><circle cx="391.2" cy="393.4" r="2.6"/><circle cx="375.1" cy="387.3" r="2.6"/><circle cx="329.9" cy="395.5" r="2.6"/><circle cx="361.9" cy="391.7" r="2.6"/><circle cx="317.3" cy="389.5" r="2.6"/><circle cx="373.1" cy="388.6" r="2.6"/><circle cx="491.9" cy="392.7" r="2.6"/><circle cx="339.4" cy="393.2" r="2.6"/><circle cx="472.1" cy="388.8" r="2.6"/><circle cx="384.4" cy="392.5" r="2.6"/><circle cx="367.9" cy="393.2" r="2.6"/><circle cx="431.5" cy="379.6" r="2.6"/><circle cx="419.6" cy="394.4" r="2.6"/><circle cx="422.3" cy="380.3" r="2.6"/><circle cx="340.1" cy="394.5" r="2.6"/><circle cx="451.7" cy="395.4" r="2.6"/><circle cx="535.9" cy="386.5" r="2.6"/><circle cx="313.1" cy="393.1" r="2.6"/><circle cx="331.0" cy="391.1" r="2.6"/><circle cx="457.0" cy="387.9" r="2.6"/><circle cx="390.3" cy="384.8" r="2.6"/><circle cx="373.7" cy="389.8" r="2.6"/><circle cx="557.3" cy="390.2" r="2.6"/><circle cx="387.7" cy="385.1" r="2.6"/><circle cx="540.6" cy="390.5" r="2.6"/><circle cx="464.7" cy="393.0" r="2.6"/><circle cx="318.4" cy="394.6" r="2.6"/><circle cx="377.1" cy="393.9" r="2.6"/><circle cx="329.7" cy="394.8" r="2.6"/><circle cx="445.0" cy="380.2" r="2.6"/><circle cx="537.4" cy="391.0" r="2.6"/><circle cx="323.9" cy="392.6" r="2.6"/><circle cx="317.8" cy="390.5" r="2.6"/><circle cx="318.1" cy="389.7" r="2.6"/><circle cx="378.9" cy="395.4" r="2.6"/><circle cx="352.3" cy="391.3" r="2.6"/><circle cx="552.4" cy="384.2" r="2.6"/><circle cx="504.2" cy="391.3" r="2.6"/><circle cx="545.2" cy="380.6" r="2.6"/><circle cx="455.5" cy="395.1" r="2.6"/><circle cx="515.7" cy="393.5" r="2.6"/><circle cx="487.7" cy="385.3" r="2.6"/><circle cx="383.7" cy="393.6" r="2.6"/><circle cx="473.6" cy="392.8" r="2.6"/><circle cx="383.0" cy="382.1" r="2.6"/><circle cx="426.6" cy="386.8" r="2.6"/><circle cx="516.1" cy="391.8" r="2.6"/><circle cx="365.9" cy="392.1" r="2.6"/><circle cx="354.4" cy="384.6" r="2.6"/><circle cx="523.3" cy="385.4" r="2.6"/><circle cx="426.4" cy="393.0" r="2.6"/><circle cx="354.2" cy="389.6" r="2.6"/><circle cx="390.1" cy="391.8" r="2.6"/><circle cx="380.8" cy="395.4" r="2.6"/><circle cx="534.4" cy="391.2" r="2.6"/><circle cx="428.8" cy="387.9" r="2.6"/><circle cx="540.4" cy="394.8" r="2.6"/><circle cx="428.1" cy="395.6" r="2.6"/><circle cx="545.2" cy="392.8" r="2.6"/><circle cx="539.5" cy="392.4" r="2.6"/><circle cx="452.4" cy="395.3" r="2.6"/><circle cx="507.0" cy="391.4" r="2.6"/><circle cx="382.4" cy="390.1" r="2.6"/><circle cx="339.6" cy="391.1" r="2.6"/><circle cx="461.6" cy="392.0" r="2.6"/><circle cx="324.6" cy="382.2" r="2.6"/><circle cx="427.4" cy="388.0" r="2.6"/><circle cx="465.5" cy="394.5" r="2.6"/><circle cx="502.3" cy="384.9" r="2.6"/><circle cx="534.5" cy="383.3" r="2.6"/><circle cx="361.7" cy="394.1" r="2.6"/><circle cx="526.7" cy="395.4" r="2.6"/><circle cx="434.6" cy="391.5" r="2.6"/><circle cx="466.2" cy="393.1" r="2.6"/><circle cx="426.1" cy="380.4" r="2.6"/><circle cx="522.3" cy="391.0" r="2.6"/><circle cx="385.6" cy="387.4" r="2.6"/><circle cx="312.8" cy="384.3" r="2.6"/><circle cx="517.7" cy="381.6" r="2.6"/><circle cx="475.9" cy="394.6" r="2.6"/><circle cx="489.6" cy="374.7" r="2.6"/><circle cx="341.8" cy="386.7" r="2.6"/><circle cx="362.2" cy="378.7" r="2.6"/><circle cx="466.8" cy="395.1" r="2.6"/><circle cx="497.2" cy="393.8" r="2.6"/><circle cx="475.8" cy="393.1" r="2.6"/><circle cx="459.5" cy="391.2" r="2.6"/><circle cx="474.2" cy="380.6" r="2.6"/><circle cx="347.7" cy="391.9" r="2.6"/><circle cx="423.3" cy="390.0" r="2.6"/><circle cx="393.0" cy="394.4" r="2.6"/><circle cx="494.5" cy="381.3" r="2.6"/><circle cx="439.9" cy="394.6" r="2.6"/><circle cx="490.5" cy="388.0" r="2.6"/><circle cx="484.2" cy="386.3" r="2.6"/><circle cx="536.6" cy="394.5" r="2.6"/><circle cx="524.4" cy="394.7" r="2.6"/><circle cx="323.7" cy="394.6" r="2.6"/><circle cx="477.4" cy="393.8" r="2.6"/><circle cx="404.0" cy="392.8" r="2.6"/><circle cx="336.0" cy="387.3" r="2.6"/><circle cx="430.1" cy="391.5" r="2.6"/><circle cx="521.2" cy="394.9" r="2.6"/><circle cx="509.5" cy="387.6" r="2.6"/><circle cx="337.2" cy="388.1" r="2.6"/><circle cx="361.3" cy="392.3" r="2.6"/><circle cx="484.2" cy="381.7" r="2.6"/><circle cx="552.4" cy="388.2" r="2.6"/><circle cx="330.1" cy="392.0" r="2.6"/><circle cx="332.9" cy="390.5" r="2.6"/><circle cx="484.4" cy="393.4" r="2.6"/><circle cx="464.5" cy="394.6" r="2.6"/><circle cx="513.2" cy="395.5" r="2.6"/><circle cx="360.3" cy="393.8" r="2.6"/><circle cx="434.1" cy="390.0" r="2.6"/><circle cx="510.6" cy="390.7" r="2.6"/><circle cx="406.2" cy="395.4" r="2.6"/><circle cx="410.5" cy="388.9" r="2.6"/><circle cx="319.0" cy="395.2" r="2.6"/><circle cx="509.9" cy="388.5" r="2.6"/><circle cx="422.2" cy="394.7" r="2.6"/><circle cx="405.1" cy="390.5" r="2.6"/><circle cx="474.3" cy="393.0" r="2.6"/><circle cx="523.6" cy="393.9" r="2.6"/><circle cx="526.9" cy="388.3" r="2.6"/><circle cx="396.2" cy="387.3" r="2.6"/><circle cx="462.6" cy="372.6" r="2.6"/><circle cx="407.5" cy="390.3" r="2.6"/><circle cx="520.1" cy="392.2" r="2.6"/><circle cx="508.8" cy="394.5" r="2.6"/><circle cx="475.9" cy="389.4" r="2.6"/><circle cx="516.3" cy="369.8" r="2.6"/><circle cx="438.0" cy="392.8" r="2.6"/><circle cx="453.3" cy="394.9" r="2.6"/><circle cx="351.4" cy="395.4" r="2.6"/><circle cx="487.4" cy="391.7" r="2.6"/><circle cx="382.7" cy="382.1" r="2.6"/><circle cx="451.0" cy="394.3" r="2.6"/><circle cx="311.3" cy="392.6" r="2.6"/><circle cx="410.0" cy="392.6" r="2.6"/><circle cx="464.4" cy="393.6" r="2.6"/><circle cx="468.2" cy="392.0" r="2.6"/><circle cx="451.5" cy="391.6" r="2.6"/><circle cx="373.7" cy="385.6" r="2.6"/><circle cx="474.1" cy="370.0" r="2.6"/><circle cx="475.8" cy="393.1" r="2.6"/><circle cx="458.0" cy="385.2" r="2.6"/><circle cx="404.9" cy="395.5" r="2.6"/><circle cx="348.7" cy="394.8" r="2.6"/><circle cx="449.7" cy="392.5" r="2.6"/><circle cx="323.7" cy="392.5" r="2.6"/><circle cx="539.4" cy="394.1" r="2.6"/><circle cx="398.8" cy="378.7" r="2.6"/><circle cx="381.4" cy="393.4" r="2.6"/><circle cx="423.2" cy="395.2" r="2.6"/><circle cx="336.7" cy="389.4" r="2.6"/><circle cx="531.4" cy="389.6" r="2.6"/><circle cx="555.2" cy="394.3" r="2.6"/><circle cx="516.2" cy="387.8" r="2.6"/><circle cx="454.0" cy="390.0" r="2.6"/><circle cx="545.5" cy="381.7" r="2.6"/><circle cx="393.2" cy="379.8" r="2.6"/><circle cx="426.8" cy="378.0" r="2.6"/><circle cx="353.6" cy="389.9" r="2.6"/><circle cx="416.8" cy="394.3" r="2.6"/><circle cx="542.2" cy="381.1" r="2.6"/><circle cx="476.3" cy="391.6" r="2.6"/><circle cx="446.9" cy="385.1" r="2.6"/><circle cx="444.5" cy="375.9" r="2.6"/><circle cx="469.2" cy="388.7" r="2.6"/><circle cx="463.0" cy="385.3" r="2.6"/><circle cx="423.7" cy="393.8" r="2.6"/><circle cx="438.3" cy="393.2" r="2.6"/><circle cx="336.1" cy="395.2" r="2.6"/><circle cx="421.4" cy="393.0" r="2.6"/><circle cx="479.1" cy="389.8" r="2.6"/><circle cx="366.5" cy="394.6" r="2.6"/><circle cx="379.9" cy="384.9" r="2.6"/><circle cx="511.6" cy="394.0" r="2.6"/><circle cx="344.7" cy="390.1" r="2.6"/><circle cx="359.6" cy="383.5" r="2.6"/><circle cx="515.0" cy="388.2" r="2.6"/><circle cx="341.0" cy="388.0" r="2.6"/><circle cx="385.8" cy="383.0" r="2.6"/><circle cx="537.9" cy="387.7" r="2.6"/><circle cx="413.8" cy="392.4" r="2.6"/><circle cx="514.8" cy="355.3" r="2.6"/><circle cx="501.6" cy="389.6" r="2.6"/><circle cx="315.8" cy="394.6" r="2.6"/><circle cx="365.6" cy="392.0" r="2.6"/><circle cx="538.3" cy="392.8" r="2.6"/><circle cx="391.0" cy="384.6" r="2.6"/><circle cx="411.6" cy="395.6" r="2.6"/><circle cx="544.0" cy="372.2" r="2.6"/><circle cx="338.2" cy="375.0" r="2.6"/><circle cx="553.2" cy="391.4" r="2.6"/><circle cx="472.2" cy="383.9" r="2.6"/><circle cx="467.6" cy="390.6" r="2.6"/><circle cx="311.0" cy="392.0" r="2.6"/><circle cx="468.2" cy="392.2" r="2.6"/><circle cx="515.9" cy="388.7" r="2.6"/><circle cx="409.1" cy="382.3" r="2.6"/><circle cx="329.0" cy="387.8" r="2.6"/><circle cx="343.7" cy="390.0" r="2.6"/><circle cx="330.2" cy="385.2" r="2.6"/><circle cx="414.3" cy="393.0" r="2.6"/><circle cx="514.7" cy="391.5" r="2.6"/><circle cx="325.4" cy="385.2" r="2.6"/><circle cx="412.0" cy="388.7" r="2.6"/><circle cx="410.8" cy="395.0" r="2.6"/><circle cx="410.1" cy="375.1" r="2.6"/><circle cx="442.2" cy="395.2" r="2.6"/><circle cx="444.3" cy="389.3" r="2.6"/><circle cx="361.7" cy="391.2" r="2.6"/><circle cx="509.0" cy="394.4" r="2.6"/><circle cx="439.8" cy="380.5" r="2.6"/><circle cx="398.6" cy="387.2" r="2.6"/><circle cx="551.3" cy="395.2" r="2.6"/><circle cx="486.9" cy="390.2" r="2.6"/><circle cx="351.5" cy="376.9" r="2.6"/><circle cx="552.6" cy="394.3" r="2.6"/><circle cx="455.1" cy="382.2" r="2.6"/><circle cx="395.7" cy="393.0" r="2.6"/><circle cx="370.0" cy="392.9" r="2.6"/><circle cx="327.7" cy="385.0" r="2.6"/><circle cx="371.7" cy="392.8" r="2.6"/><circle cx="382.9" cy="384.4" r="2.6"/><circle cx="396.7" cy="393.1" r="2.6"/><circle cx="557.3" cy="380.6" r="2.6"/><circle cx="458.6" cy="394.9" r="2.6"/><circle cx="358.7" cy="387.1" r="2.6"/><circle cx="403.3" cy="395.7" r="2.6"/><circle cx="418.7" cy="392.3" r="2.6"/><circle cx="331.5" cy="388.5" r="2.6"/><circle cx="427.7" cy="392.7" r="2.6"/><circle cx="437.6" cy="390.2" r="2.6"/><circle cx="537.7" cy="394.4" r="2.6"/><circle cx="418.9" cy="393.2" r="2.6"/><circle cx="482.6" cy="392.8" r="2.6"/><circle cx="480.4" cy="395.7" r="2.6"/><circle cx="354.5" cy="392.4" r="2.6"/><circle cx="452.3" cy="394.9" r="2.6"/><circle cx="422.8" cy="390.7" r="2.6"/><circle cx="351.4" cy="387.8" r="2.6"/><circle cx="316.8" cy="378.5" r="2.6"/><circle cx="559.3" cy="387.9" r="2.6"/><circle cx="333.4" cy="395.7" r="2.6"/><circle cx="532.0" cy="383.9" r="2.6"/><circle cx="402.3" cy="395.3" r="2.6"/><circle cx="331.2" cy="378.0" r="2.6"/><circle cx="551.5" cy="388.7" r="2.6"/><circle cx="475.5" cy="387.7" r="2.6"/><circle cx="411.7" cy="376.7" r="2.6"/><circle cx="519.9" cy="394.6" r="2.6"/><circle cx="487.4" cy="385.7" r="2.6"/><circle cx="414.5" cy="392.5" r="2.6"/><circle cx="489.9" cy="370.6" r="2.6"/><circle cx="494.9" cy="360.3" r="2.6"/><circle cx="353.8" cy="390.4" r="2.6"/><circle cx="489.5" cy="393.5" r="2.6"/><circle cx="539.5" cy="375.4" r="2.6"/><circle cx="482.4" cy="393.4" r="2.6"/><circle cx="510.2" cy="394.8" r="2.6"/><circle cx="557.8" cy="378.0" r="2.6"/><circle cx="509.5" cy="395.0" r="2.6"/><circle cx="428.0" cy="391.4" r="2.6"/><circle cx="451.1" cy="393.1" r="2.6"/><circle cx="502.1" cy="395.6" r="2.6"/><circle cx="468.6" cy="394.5" r="2.6"/><circle cx="328.5" cy="385.8" r="2.6"/><circle cx="325.8" cy="380.7" r="2.6"/><circle cx="378.8" cy="394.2" r="2.6"/><circle cx="515.0" cy="392.6" r="2.6"/><circle cx="366.1" cy="395.0" r="2.6"/><circle cx="390.4" cy="386.4" r="2.6"/><circle cx="516.2" cy="394.3" r="2.6"/><circle cx="343.0" cy="395.6" r="2.6"/><circle cx="380.6" cy="389.2" r="2.6"/><circle cx="374.8" cy="391.7" r="2.6"/><circle cx="322.6" cy="395.4" r="2.6"/><circle cx="496.1" cy="379.3" r="2.6"/><circle cx="390.8" cy="386.1" r="2.6"/><circle cx="412.5" cy="388.0" r="2.6"/><circle cx="393.9" cy="389.8" r="2.6"/><circle cx="327.2" cy="386.5" r="2.6"/><circle cx="521.6" cy="393.8" r="2.6"/><circle cx="344.4" cy="395.3" r="2.6"/><circle cx="382.0" cy="394.9" r="2.6"/><circle cx="490.6" cy="392.8" r="2.6"/><circle cx="397.7" cy="389.5" r="2.6"/><circle cx="437.2" cy="388.5" r="2.6"/><circle cx="393.2" cy="388.2" r="2.6"/><circle cx="450.6" cy="391.9" r="2.6"/><circle cx="390.0" cy="364.9" r="2.6"/><circle cx="424.7" cy="390.3" r="2.6"/><circle cx="313.0" cy="394.7" r="2.6"/><circle cx="314.6" cy="383.7" r="2.6"/><circle cx="437.3" cy="388.6" r="2.6"/><circle cx="514.6" cy="393.7" r="2.6"/><circle cx="560.0" cy="391.4" r="2.6"/><circle cx="511.2" cy="386.5" r="2.6"/><circle cx="441.6" cy="394.8" r="2.6"/><circle cx="471.6" cy="378.1" r="2.6"/><circle cx="478.3" cy="391.9" r="2.6"/><circle cx="492.8" cy="395.6" r="2.6"/><circle cx="558.3" cy="390.6" r="2.6"/><circle cx="396.5" cy="371.5" r="2.6"/><circle cx="422.2" cy="382.9" r="2.6"/><circle cx="505.2" cy="394.0" r="2.6"/><circle cx="364.7" cy="390.1" r="2.6"/><circle cx="334.7" cy="391.9" r="2.6"/><circle cx="535.1" cy="391.6" r="2.6"/><circle cx="314.8" cy="392.4" r="2.6"/><circle cx="533.8" cy="384.7" r="2.6"/><circle cx="539.0" cy="393.2" r="2.6"/><circle cx="352.1" cy="388.3" r="2.6"/><circle cx="499.2" cy="379.1" r="2.6"/><circle cx="382.9" cy="391.8" r="2.6"/><circle cx="378.4" cy="385.1" r="2.6"/><circle cx="556.2" cy="383.8" r="2.6"/><circle cx="532.1" cy="394.5" r="2.6"/><circle cx="501.5" cy="391.4" r="2.6"/><circle cx="419.6" cy="393.8" r="2.6"/><circle cx="556.8" cy="390.7" r="2.6"/><circle cx="453.1" cy="392.5" r="2.6"/><circle cx="555.3" cy="392.2" r="2.6"/><circle cx="490.8" cy="392.7" r="2.6"/><circle cx="322.5" cy="392.7" r="2.6"/><circle cx="510.0" cy="388.9" r="2.6"/><circle cx="519.9" cy="380.4" r="2.6"/><circle cx="530.6" cy="392.6" r="2.6"/><circle cx="466.0" cy="395.3" r="2.6"/><circle cx="320.2" cy="394.9" r="2.6"/><circle cx="527.2" cy="384.0" r="2.6"/><circle cx="416.1" cy="394.9" r="2.6"/><circle cx="359.8" cy="393.8" r="2.6"/><circle cx="362.8" cy="355.5" r="2.6"/><circle cx="361.1" cy="383.7" r="2.6"/><circle cx="514.3" cy="392.7" r="2.6"/><circle cx="328.9" cy="394.1" r="2.6"/><circle cx="539.9" cy="387.8" r="2.6"/><circle cx="315.0" cy="392.8" r="2.6"/><circle cx="491.2" cy="381.0" r="2.6"/><circle cx="368.3" cy="386.1" r="2.6"/><circle cx="439.2" cy="392.7" r="2.6"/><circle cx="355.0" cy="378.1" r="2.6"/><circle cx="535.3" cy="358.6" r="2.6"/><circle cx="349.7" cy="392.3" r="2.6"/></g>
<line x1="299.20" y1="214.20" x2="299.20" y2="426.40" stroke="#231f20" stroke-width="1.1"/>
<line x1="298.70" y1="425.90" x2="569.50" y2="425.90" stroke="#231f20" stroke-width="1.2"/>
<line x1="295.20" y1="425.90" x2="299.20" y2="425.90" stroke="#231f20" stroke-width="1.1"/>
<text x="293.40" y="429.60" font-size="9.2" text-anchor="end" transform="matrix(1 0 0 0.93 0 30.072)">0</text>
<line x1="295.20" y1="395.74" x2="299.20" y2="395.74" stroke="#231f20" stroke-width="1.1"/>
<text x="293.40" y="399.44" font-size="9.2" text-anchor="end" transform="matrix(1 0 0 0.93 0 27.961)">2</text>
<line x1="295.20" y1="365.58" x2="299.20" y2="365.58" stroke="#231f20" stroke-width="1.1"/>
<text x="293.40" y="369.28" font-size="9.2" text-anchor="end" transform="matrix(1 0 0 0.93 0 25.850)">4</text>
<line x1="295.20" y1="335.42" x2="299.20" y2="335.42" stroke="#231f20" stroke-width="1.1"/>
<text x="293.40" y="339.12" font-size="9.2" text-anchor="end" transform="matrix(1 0 0 0.93 0 23.738)">6</text>
<line x1="295.20" y1="305.26" x2="299.20" y2="305.26" stroke="#231f20" stroke-width="1.1"/>
<text x="293.40" y="308.96" font-size="9.2" text-anchor="end" transform="matrix(1 0 0 0.93 0 21.627)">8</text>
<line x1="295.20" y1="275.10" x2="299.20" y2="275.10" stroke="#231f20" stroke-width="1.1"/>
<text x="293.40" y="278.80" font-size="9.2" text-anchor="end" transform="matrix(1 0 0 0.93 0 19.516)">10</text>
<line x1="295.20" y1="244.94" x2="299.20" y2="244.94" stroke="#231f20" stroke-width="1.1"/>
<text x="293.40" y="248.64" font-size="9.2" text-anchor="end" transform="matrix(1 0 0 0.93 0 17.405)">12</text>
<line x1="295.20" y1="214.78" x2="299.20" y2="214.78" stroke="#231f20" stroke-width="1.1"/>
<text x="293.40" y="218.48" font-size="9.2" text-anchor="end" transform="matrix(1 0 0 0.93 0 15.294)">14</text>
<text x="276.2" y="319.9" font-size="10.4" text-anchor="middle" transform="rotate(-90 276.2 319.9)">Gene enrichment (−log<tspan font-size="6" dy="2.6">10</tspan><tspan dy="-2.6">)</tspan></text>
<text x="379.50" y="257.80" font-size="6.5" text-anchor="middle" fill="#111" transform="matrix(1 0 0 0.93 0 18.046)">EHMT2</text>
<text x="339.30" y="278.80" font-size="6.5" text-anchor="middle" fill="#111" transform="matrix(1 0 0 0.93 0 19.516)">EP300</text>
<text x="314.70" y="318.60" font-size="6.5" text-anchor="middle" fill="#111" transform="matrix(1 0 0 0.93 0 22.302)">EHMT1</text>
<text x="342.40" y="331.80" font-size="6.5" text-anchor="middle" fill="#111" transform="matrix(1 0 0 0.93 0 23.226)">RANBP6</text>
<text x="314.20" y="344.80" font-size="6.5" text-anchor="middle" fill="#111" transform="matrix(1 0 0 0.93 0 24.136)">IQCF2</text>
<text x="356.30" y="343.30" font-size="6.5" text-anchor="middle" fill="#111" transform="matrix(1 0 0 0.93 0 24.031)">USP7</text>
<text x="403.20" y="343.60" font-size="6.5" text-anchor="middle" fill="#111" transform="matrix(1 0 0 0.93 0 24.052)">CXADR</text>
<text x="429.50" y="342.60" font-size="6.5" text-anchor="middle" fill="#111" transform="matrix(1 0 0 0.93 0 23.982)">NRIP1</text>
<text x="381.10" y="350.00" font-size="6.5" text-anchor="middle" fill="#111" transform="matrix(1 0 0 0.93 0 24.500)">CARD18</text>
<text x="416.20" y="355.50" font-size="6.5" text-anchor="middle" fill="#111" transform="matrix(1 0 0 0.93 0 24.885)">SIRT6</text>
<text x="380.50" y="362.60" font-size="6.5" text-anchor="middle" fill="#111" transform="matrix(1 0 0 0.93 0 25.382)">FBXO28</text>
<text x="436.20" y="361.60" font-size="6.5" text-anchor="middle" fill="#111" transform="matrix(1 0 0 0.93 0 25.312)">ICAM4</text>
<text x="329.10" y="367.30" font-size="6.5" text-anchor="middle" fill="#111" transform="matrix(1 0 0 0.93 0 25.711)">EMILIN1</text>
<text x="455.00" y="367.30" font-size="6.5" text-anchor="middle" fill="#111" transform="matrix(1 0 0 0.93 0 25.711)">PSIP1</text>
<text x="405.20" y="376.30" font-size="6.5" text-anchor="middle" fill="#111" transform="matrix(1 0 0 0.93 0 26.341)">DUSP6</text>
<text x="339.90" y="381.20" font-size="6.5" text-anchor="middle" fill="#111" transform="matrix(1 0 0 0.93 0 26.684)">PPP3CB</text>
<text x="361.40" y="378.90" font-size="6.5" text-anchor="middle" fill="#111" transform="matrix(1 0 0 0.93 0 26.523)">CD19</text>
<text x="315.80" y="389.20" font-size="6.5" text-anchor="middle" fill="#111" transform="matrix(1 0 0 0.93 0 27.244)">DUSP18</text>
<text x="457.00" y="385.30" font-size="6.5" text-anchor="middle" fill="#111" transform="matrix(1 0 0 0.93 0 26.971)">ZNF865</text>
<text x="479.40" y="340.30" font-size="6.5" text-anchor="middle" fill="#111" transform="matrix(1 0 0 0.93 0 23.821)">KCNMB3</text>
<text x="488.30" y="358.30" font-size="6.5" text-anchor="middle" fill="#111" transform="matrix(1 0 0 0.93 0 25.081)">PRKCI</text>
<text x="527.80" y="352.50" font-size="6.5" text-anchor="middle" fill="#111" transform="matrix(1 0 0 0.93 0 24.675)">P2RX5</text>
<text x="482.00" y="372.60" font-size="6.5" text-anchor="middle" fill="#111" transform="matrix(1 0 0 0.93 0 26.082)">FGF13</text>
<text x="482.00" y="387.90" font-size="6.5" text-anchor="middle" fill="#111" transform="matrix(1 0 0 0.93 0 27.153)">USP12</text>
<text x="509.10" y="385.30" font-size="6.5" text-anchor="middle" fill="#111" transform="matrix(1 0 0 0.93 0 26.971)">ZNF182</text>
<text x="552.30" y="385.30" font-size="6.5" text-anchor="middle" fill="#111" transform="matrix(1 0 0 0.93 0 26.971)">PPP1R12B</text>
<circle cx="376.20" cy="261.30" r="2.60" fill="#1f33dd" stroke="#1a1a1a" stroke-width="0.6"/>
<circle cx="337.30" cy="282.20" r="2.60" fill="#1f33dd" stroke="#1a1a1a" stroke-width="0.6"/>
<circle cx="311.70" cy="322.10" r="2.60" fill="#1f33dd" stroke="#1a1a1a" stroke-width="0.6"/>
<circle cx="337.70" cy="335.30" r="2.60" fill="#f7941d" stroke="#1a1a1a" stroke-width="0.6"/>
<circle cx="312.60" cy="348.40" r="2.60" fill="#f7941d" stroke="#1a1a1a" stroke-width="0.6"/>
<circle cx="355.70" cy="346.80" r="2.60" fill="#e8262d" stroke="#1a1a1a" stroke-width="0.6"/>
<circle cx="399.60" cy="347.20" r="2.60" fill="#f7941d" stroke="#1a1a1a" stroke-width="0.6"/>
<circle cx="427.90" cy="346.20" r="2.60" fill="#231f20" stroke="#1a1a1a" stroke-width="0.6"/>
<circle cx="376.50" cy="353.60" r="2.60" fill="#f7941d" stroke="#1a1a1a" stroke-width="0.6"/>
<circle cx="415.00" cy="359.00" r="2.60" fill="#f7941d" stroke="#1a1a1a" stroke-width="0.6"/>
<circle cx="376.50" cy="367.10" r="2.60" fill="#e8262d" stroke="#1a1a1a" stroke-width="0.6"/>
<circle cx="434.30" cy="365.50" r="2.60" fill="#8c2a8e" stroke="#1a1a1a" stroke-width="0.6"/>
<circle cx="324.80" cy="370.90" r="2.60" fill="#f7941d" stroke="#1a1a1a" stroke-width="0.6"/>
<circle cx="453.60" cy="371.60" r="2.60" fill="#231f20" stroke="#1a1a1a" stroke-width="0.6"/>
<circle cx="402.20" cy="380.20" r="2.60" fill="#1d8a4e" stroke="#1a1a1a" stroke-width="0.6"/>
<circle cx="335.10" cy="384.70" r="2.60" fill="#1d8a4e" stroke="#1a1a1a" stroke-width="0.6"/>
<circle cx="360.80" cy="382.50" r="2.60" fill="#8c2a8e" stroke="#1a1a1a" stroke-width="0.6"/>
<circle cx="311.70" cy="392.80" r="2.60" fill="#1d8a4e" stroke="#1a1a1a" stroke-width="0.6"/>
<circle cx="453.60" cy="388.60" r="2.60" fill="#231f20" stroke="#1a1a1a" stroke-width="0.6"/>
<circle cx="474.00" cy="344.40" r="2.60" fill="#f7941d" stroke="#1a1a1a" stroke-width="0.6"/>
<circle cx="486.10" cy="361.50" r="2.60" fill="#1d8a4e" stroke="#1a1a1a" stroke-width="0.6"/>
<circle cx="525.50" cy="355.80" r="2.60" fill="#f7941d" stroke="#1a1a1a" stroke-width="0.6"/>
<circle cx="480.00" cy="376.60" r="2.60" fill="#f7941d" stroke="#1a1a1a" stroke-width="0.6"/>
<circle cx="480.00" cy="391.20" r="2.60" fill="#e8262d" stroke="#1a1a1a" stroke-width="0.6"/>
<circle cx="505.80" cy="388.70" r="2.60" fill="#231f20" stroke="#1a1a1a" stroke-width="0.6"/>
<circle cx="544.40" cy="388.70" r="2.60" fill="#1d8a4e" stroke="#1a1a1a" stroke-width="0.6"/>
<circle cx="475.40" cy="238.90" r="3.10" fill="#1f33dd" stroke="#1a1a1a" stroke-width="0.5"/>
<text x="481.50" y="241.80" font-size="10.4" transform="matrix(1 0 0 0.93 0 16.926)">Histone modifying proteins</text>
<circle cx="475.40" cy="251.48" r="3.10" fill="#e8262d" stroke="#1a1a1a" stroke-width="0.5"/>
<text x="481.50" y="254.38" font-size="10.4" transform="matrix(1 0 0 0.93 0 17.807)">Ubiquitin-related</text>
<circle cx="475.40" cy="264.06" r="3.10" fill="#1d8a4e" stroke="#1a1a1a" stroke-width="0.5"/>
<text x="481.50" y="266.96" font-size="10.4" transform="matrix(1 0 0 0.93 0 18.687)">Protein phosphates/kinases</text>
<circle cx="475.40" cy="276.64" r="3.10" fill="#f7941d" stroke="#1a1a1a" stroke-width="0.5"/>
<text x="481.50" y="279.54" font-size="10.4" transform="matrix(1 0 0 0.93 0 19.568)">Others</text>
<circle cx="475.40" cy="289.22" r="3.10" fill="#8c2a8e" stroke="#1a1a1a" stroke-width="0.5"/>
<text x="481.50" y="292.12" font-size="10.4" transform="matrix(1 0 0 0.93 0 20.448)">Immunoglobulin superfamily</text>
<circle cx="475.40" cy="301.80" r="3.10" fill="#231f20" stroke="#1a1a1a" stroke-width="0.5"/>
<text x="481.50" y="304.70" font-size="10.4" transform="matrix(1 0 0 0.93 0 21.329)">Transcriptional modulators</text>
<text x="-0.60" y="452.20" font-size="13" font-weight="bold" fill="#000">d</text>
<text x="119.50" y="454.10" font-size="10.4" transform="matrix(1 0 0 0.93 0 31.787)">EBOV replicon cell line</text>
<line x1="40.40" y1="483.34" x2="306.00" y2="483.34" stroke="#d6d6d6" stroke-width="0.9"/>
<rect x="43.30" y="483.34" width="8.50" height="80.96" fill="#e3e4e5" stroke="#2b2b2b" stroke-width="0.9"/>
<circle cx="44.65" cy="483.34" r="1.65" fill="#1a1a1a" stroke="none" stroke-width="1"/>
<circle cx="47.55" cy="483.34" r="1.65" fill="#1a1a1a" stroke="none" stroke-width="1"/>
<circle cx="50.45" cy="483.34" r="1.65" fill="#1a1a1a" stroke="none" stroke-width="1"/>
<text x="52.15" y="567.80" font-size="10.4" text-anchor="end" transform="rotate(-90 52.15 567.80)">WT</text>
<rect x="55.28" y="488.04" width="8.50" height="76.26" fill="#e3e4e5" stroke="#2b2b2b" stroke-width="0.9"/>
<line x1="59.53" y1="470.55" x2="59.53" y2="505.60" stroke="#231f20" stroke-width="0.9"/>
<line x1="56.53" y1="470.55" x2="62.53" y2="470.55" stroke="#231f20" stroke-width="0.9"/>
<line x1="56.53" y1="505.60" x2="62.53" y2="505.60" stroke="#231f20" stroke-width="0.9"/>
<circle cx="56.63" cy="476.62" r="1.65" fill="#1a1a1a" stroke="none" stroke-width="1"/>
<circle cx="62.43" cy="478.81" r="1.65" fill="#1a1a1a" stroke="none" stroke-width="1"/>
<circle cx="59.53" cy="508.28" r="1.65" fill="#1a1a1a" stroke="none" stroke-width="1"/>
<text x="64.13" y="567.80" font-size="10.4" text-anchor="end" transform="rotate(-90 64.13 567.80)">NT-sgRNA</text>
<rect x="67.26" y="490.14" width="8.50" height="74.16" fill="#e3e4e5" stroke="#2b2b2b" stroke-width="0.9"/>
<line x1="71.51" y1="484.80" x2="71.51" y2="495.32" stroke="#231f20" stroke-width="0.9"/>
<line x1="68.51" y1="484.80" x2="74.51" y2="484.80" stroke="#231f20" stroke-width="0.9"/>
<line x1="68.51" y1="495.32" x2="74.51" y2="495.32" stroke="#231f20" stroke-width="0.9"/>
<circle cx="71.51" cy="486.09" r="1.65" fill="#1a1a1a" stroke="none" stroke-width="1"/>
<circle cx="71.51" cy="493.62" r="1.65" fill="#1a1a1a" stroke="none" stroke-width="1"/>
<circle cx="71.51" cy="490.22" r="1.65" fill="#1a1a1a" stroke="none" stroke-width="1"/>
<text x="76.11" y="567.80" font-size="10.4" text-anchor="end" transform="rotate(-90 76.11 567.80)">mCherry-Puro</text>
<rect x="79.24" y="496.78" width="8.50" height="67.52" fill="#e3e4e5" stroke="#2b2b2b" stroke-width="0.9"/>
<line x1="83.49" y1="490.79" x2="83.49" y2="501.72" stroke="#231f20" stroke-width="0.9"/>
<line x1="80.49" y1="490.79" x2="86.49" y2="490.79" stroke="#231f20" stroke-width="0.9"/>
<line x1="80.49" y1="501.72" x2="86.49" y2="501.72" stroke="#231f20" stroke-width="0.9"/>
<circle cx="83.49" cy="491.27" r="1.65" fill="#1a1a1a" stroke="none" stroke-width="1"/>
<circle cx="83.49" cy="497.91" r="1.65" fill="#1a1a1a" stroke="none" stroke-width="1"/>
<circle cx="83.49" cy="501.48" r="1.65" fill="#1a1a1a" stroke="none" stroke-width="1"/>
<text x="88.09" y="567.80" font-size="10.4" text-anchor="end" transform="rotate(-90 88.09 567.80)">NPC1</text>
<rect x="91.22" y="562.11" width="8.50" height="2.19" fill="#e3e4e5" stroke="#2b2b2b" stroke-width="0.9"/>
<circle cx="92.57" cy="561.71" r="1.65" fill="#1a1a1a" stroke="none" stroke-width="1"/>
<circle cx="95.47" cy="562.03" r="1.65" fill="#1a1a1a" stroke="none" stroke-width="1"/>
<circle cx="98.37" cy="562.36" r="1.65" fill="#1a1a1a" stroke="none" stroke-width="1"/>
<text x="95.47" y="559.80" font-size="9.1" text-anchor="middle" transform="matrix(1 0 0 0.93 0 39.186)">****</text>
<text x="100.07" y="567.80" font-size="10.4" text-anchor="end" transform="rotate(-90 100.07 567.80)">vLpol</text>
<rect x="103.20" y="515.40" width="8.50" height="48.90" fill="#e3e4e5" stroke="#2b2b2b" stroke-width="0.9"/>
<line x1="107.45" y1="506.09" x2="107.45" y2="525.03" stroke="#231f20" stroke-width="0.9"/>
<line x1="104.45" y1="506.09" x2="110.45" y2="506.09" stroke="#231f20" stroke-width="0.9"/>
<line x1="104.45" y1="525.03" x2="110.45" y2="525.03" stroke="#231f20" stroke-width="0.9"/>
<circle cx="107.45" cy="507.06" r="1.65" fill="#1a1a1a" stroke="none" stroke-width="1"/>
<circle cx="107.45" cy="512.16" r="1.65" fill="#1a1a1a" stroke="none" stroke-width="1"/>
<circle cx="107.45" cy="525.03" r="1.65" fill="#1a1a1a" stroke="none" stroke-width="1"/>
<text x="107.45" y="505.40" font-size="9.1" text-anchor="middle" transform="matrix(1 0 0 0.93 0 35.378)">**</text>
<text x="112.05" y="567.80" font-size="10.4" text-anchor="end" transform="rotate(-90 112.05 567.80)">DYNLL1</text>
<rect x="115.18" y="509.57" width="8.50" height="54.73" fill="#e3e4e5" stroke="#2b2b2b" stroke-width="0.9"/>
<circle cx="116.53" cy="509.41" r="1.65" fill="#1a1a1a" stroke="none" stroke-width="1"/>
<circle cx="119.43" cy="509.00" r="1.65" fill="#1a1a1a" stroke="none" stroke-width="1"/>
<circle cx="122.33" cy="509.57" r="1.65" fill="#1a1a1a" stroke="none" stroke-width="1"/>
<text x="119.43" y="508.50" font-size="9.1" text-anchor="middle" transform="matrix(1 0 0 0.93 0 35.595)">****</text>
<text x="124.03" y="567.80" font-size="10.4" text-anchor="end" transform="rotate(-90 124.03 567.80)">USP7</text>
<rect x="127.16" y="506.82" width="8.50" height="57.48" fill="#e3e4e5" stroke="#2b2b2b" stroke-width="0.9"/>
<circle cx="128.51" cy="506.58" r="1.65" fill="#1a1a1a" stroke="none" stroke-width="1"/>
<circle cx="131.41" cy="506.01" r="1.65" fill="#1a1a1a" stroke="none" stroke-width="1"/>
<circle cx="134.31" cy="506.66" r="1.65" fill="#1a1a1a" stroke="none" stroke-width="1"/>
<text x="131.41" y="503.60" font-size="9.1" text-anchor="middle" transform="matrix(1 0 0 0.93 0 35.252)">****</text>
<text x="136.01" y="567.80" font-size="10.4" text-anchor="end" transform="rotate(-90 136.01 567.80)">EHMT1</text>
<rect x="139.14" y="529.57" width="8.50" height="34.73" fill="#e3e4e5" stroke="#2b2b2b" stroke-width="0.9"/>
<line x1="143.39" y1="523.42" x2="143.39" y2="535.24" stroke="#231f20" stroke-width="0.9"/>
<line x1="140.39" y1="523.42" x2="146.39" y2="523.42" stroke="#231f20" stroke-width="0.9"/>
<line x1="140.39" y1="535.24" x2="146.39" y2="535.24" stroke="#231f20" stroke-width="0.9"/>
<circle cx="143.39" cy="523.42" r="1.65" fill="#1a1a1a" stroke="none" stroke-width="1"/>
<circle cx="143.39" cy="530.13" r="1.65" fill="#1a1a1a" stroke="none" stroke-width="1"/>
<circle cx="143.39" cy="535.24" r="1.65" fill="#1a1a1a" stroke="none" stroke-width="1"/>
<text x="143.39" y="522.80" font-size="9.1" text-anchor="middle" transform="matrix(1 0 0 0.93 0 36.596)">***</text>
<text x="147.99" y="567.80" font-size="10.4" text-anchor="end" transform="rotate(-90 147.99 567.80)">EHMT2</text>
<rect x="151.12" y="505.28" width="8.50" height="59.02" fill="#e3e4e5" stroke="#2b2b2b" stroke-width="0.9"/>
<line x1="155.37" y1="496.29" x2="155.37" y2="512.89" stroke="#231f20" stroke-width="0.9"/>
<line x1="152.37" y1="496.29" x2="158.37" y2="496.29" stroke="#231f20" stroke-width="0.9"/>
<line x1="152.37" y1="512.89" x2="158.37" y2="512.89" stroke="#231f20" stroke-width="0.9"/>
<circle cx="155.37" cy="496.29" r="1.65" fill="#1a1a1a" stroke="none" stroke-width="1"/>
<circle cx="155.37" cy="503.98" r="1.65" fill="#1a1a1a" stroke="none" stroke-width="1"/>
<circle cx="155.37" cy="512.89" r="1.65" fill="#1a1a1a" stroke="none" stroke-width="1"/>
<text x="155.37" y="495.90" font-size="9.1" text-anchor="middle" transform="matrix(1 0 0 0.93 0 34.713)">*</text>
<text x="159.97" y="567.80" font-size="10.4" text-anchor="end" transform="rotate(-90 159.97 567.80)">EP300</text>
<rect x="163.10" y="494.84" width="8.50" height="69.46" fill="#e3e4e5" stroke="#2b2b2b" stroke-width="0.9"/>
<line x1="167.35" y1="492.81" x2="167.35" y2="497.83" stroke="#231f20" stroke-width="0.9"/>
<line x1="164.35" y1="492.81" x2="170.35" y2="492.81" stroke="#231f20" stroke-width="0.9"/>
<line x1="164.35" y1="497.83" x2="170.35" y2="497.83" stroke="#231f20" stroke-width="0.9"/>
<circle cx="164.45" cy="493.46" r="1.65" fill="#1a1a1a" stroke="none" stroke-width="1"/>
<circle cx="170.25" cy="494.03" r="1.65" fill="#1a1a1a" stroke="none" stroke-width="1"/>
<circle cx="167.35" cy="497.67" r="1.65" fill="#1a1a1a" stroke="none" stroke-width="1"/>
<text x="167.35" y="493.10" font-size="9.1" text-anchor="middle" transform="matrix(1 0 0 0.93 0 34.517)">***</text>
<text x="171.95" y="567.80" font-size="10.4" text-anchor="end" transform="rotate(-90 171.95 567.80)">FBXO28</text>
<rect x="175.08" y="484.64" width="8.50" height="79.66" fill="#e3e4e5" stroke="#2b2b2b" stroke-width="0.9"/>
<circle cx="176.43" cy="484.47" r="1.65" fill="#1a1a1a" stroke="none" stroke-width="1"/>
<circle cx="179.33" cy="484.15" r="1.65" fill="#1a1a1a" stroke="none" stroke-width="1"/>
<circle cx="182.23" cy="484.64" r="1.65" fill="#1a1a1a" stroke="none" stroke-width="1"/>
<text x="183.93" y="567.80" font-size="10.4" text-anchor="end" transform="rotate(-90 183.93 567.80)">GALNT7</text>
<rect x="187.06" y="489.33" width="8.50" height="74.97" fill="#e3e4e5" stroke="#2b2b2b" stroke-width="0.9"/>
<line x1="191.31" y1="485.85" x2="191.31" y2="492.25" stroke="#231f20" stroke-width="0.9"/>
<line x1="188.31" y1="485.85" x2="194.31" y2="485.85" stroke="#231f20" stroke-width="0.9"/>
<line x1="188.31" y1="492.25" x2="194.31" y2="492.25" stroke="#231f20" stroke-width="0.9"/>
<circle cx="191.31" cy="485.85" r="1.65" fill="#1a1a1a" stroke="none" stroke-width="1"/>
<circle cx="194.21" cy="488.68" r="1.65" fill="#1a1a1a" stroke="none" stroke-width="1"/>
<circle cx="188.41" cy="491.03" r="1.65" fill="#1a1a1a" stroke="none" stroke-width="1"/>
<text x="195.91" y="567.80" font-size="10.4" text-anchor="end" transform="rotate(-90 195.91 567.80)">MIR1-1HG</text>
<rect x="199.04" y="485.77" width="8.50" height="78.53" fill="#e3e4e5" stroke="#2b2b2b" stroke-width="0.9"/>
<line x1="203.29" y1="484.96" x2="203.29" y2="489.90" stroke="#231f20" stroke-width="0.9"/>
<line x1="200.29" y1="484.96" x2="206.29" y2="484.96" stroke="#231f20" stroke-width="0.9"/>
<line x1="200.29" y1="489.90" x2="206.29" y2="489.90" stroke="#231f20" stroke-width="0.9"/>
<circle cx="200.39" cy="485.44" r="1.65" fill="#1a1a1a" stroke="none" stroke-width="1"/>
<circle cx="206.19" cy="485.61" r="1.65" fill="#1a1a1a" stroke="none" stroke-width="1"/>
<circle cx="203.29" cy="490.38" r="1.65" fill="#1a1a1a" stroke="none" stroke-width="1"/>
<text x="207.89" y="567.80" font-size="10.4" text-anchor="end" transform="rotate(-90 207.89 567.80)">PPP1CC</text>
<rect x="211.02" y="487.47" width="8.50" height="76.83" fill="#e3e4e5" stroke="#2b2b2b" stroke-width="0.9"/>
<line x1="215.27" y1="484.96" x2="215.27" y2="490.22" stroke="#231f20" stroke-width="0.9"/>
<line x1="212.27" y1="484.96" x2="218.27" y2="484.96" stroke="#231f20" stroke-width="0.9"/>
<line x1="212.27" y1="490.22" x2="218.27" y2="490.22" stroke="#231f20" stroke-width="0.9"/>
<circle cx="215.27" cy="484.96" r="1.65" fill="#1a1a1a" stroke="none" stroke-width="1"/>
<circle cx="218.17" cy="488.12" r="1.65" fill="#1a1a1a" stroke="none" stroke-width="1"/>
<circle cx="212.37" cy="489.90" r="1.65" fill="#1a1a1a" stroke="none" stroke-width="1"/>
<text x="219.87" y="567.80" font-size="10.4" text-anchor="end" transform="rotate(-90 219.87 567.80)">PPP1R12B</text>
<rect x="223.00" y="491.60" width="8.50" height="72.70" fill="#e3e4e5" stroke="#2b2b2b" stroke-width="0.9"/>
<line x1="227.25" y1="488.12" x2="227.25" y2="494.67" stroke="#231f20" stroke-width="0.9"/>
<line x1="224.25" y1="488.12" x2="230.25" y2="488.12" stroke="#231f20" stroke-width="0.9"/>
<line x1="224.25" y1="494.67" x2="230.25" y2="494.67" stroke="#231f20" stroke-width="0.9"/>
<circle cx="227.25" cy="488.20" r="1.65" fill="#1a1a1a" stroke="none" stroke-width="1"/>
<circle cx="230.15" cy="491.19" r="1.65" fill="#1a1a1a" stroke="none" stroke-width="1"/>
<circle cx="224.35" cy="493.86" r="1.65" fill="#1a1a1a" stroke="none" stroke-width="1"/>
<text x="231.85" y="567.80" font-size="10.4" text-anchor="end" transform="rotate(-90 231.85 567.80)">PPP3CB</text>
<rect x="234.98" y="485.20" width="8.50" height="79.10" fill="#e3e4e5" stroke="#2b2b2b" stroke-width="0.9"/>
<circle cx="236.33" cy="485.12" r="1.65" fill="#1a1a1a" stroke="none" stroke-width="1"/>
<circle cx="239.23" cy="484.96" r="1.65" fill="#1a1a1a" stroke="none" stroke-width="1"/>
<circle cx="242.13" cy="485.20" r="1.65" fill="#1a1a1a" stroke="none" stroke-width="1"/>
<text x="243.83" y="567.80" font-size="10.4" text-anchor="end" transform="rotate(-90 243.83 567.80)">PRKCI</text>
<rect x="246.96" y="491.60" width="8.50" height="72.70" fill="#e3e4e5" stroke="#2b2b2b" stroke-width="0.9"/>
<line x1="251.21" y1="488.12" x2="251.21" y2="495.48" stroke="#231f20" stroke-width="0.9"/>
<line x1="248.21" y1="488.12" x2="254.21" y2="488.12" stroke="#231f20" stroke-width="0.9"/>
<line x1="248.21" y1="495.48" x2="254.21" y2="495.48" stroke="#231f20" stroke-width="0.9"/>
<circle cx="248.31" cy="488.68" r="1.65" fill="#1a1a1a" stroke="none" stroke-width="1"/>
<circle cx="254.11" cy="491.03" r="1.65" fill="#1a1a1a" stroke="none" stroke-width="1"/>
<circle cx="251.21" cy="495.16" r="1.65" fill="#1a1a1a" stroke="none" stroke-width="1"/>
<text x="255.81" y="567.80" font-size="10.4" text-anchor="end" transform="rotate(-90 255.81 567.80)">PRKRA</text>
<rect x="258.94" y="486.42" width="8.50" height="77.88" fill="#e3e4e5" stroke="#2b2b2b" stroke-width="0.9"/>
<line x1="263.19" y1="482.61" x2="263.19" y2="489.90" stroke="#231f20" stroke-width="0.9"/>
<line x1="260.19" y1="482.61" x2="266.19" y2="482.61" stroke="#231f20" stroke-width="0.9"/>
<line x1="260.19" y1="489.90" x2="266.19" y2="489.90" stroke="#231f20" stroke-width="0.9"/>
<circle cx="263.19" cy="482.61" r="1.65" fill="#1a1a1a" stroke="none" stroke-width="1"/>
<circle cx="263.19" cy="486.42" r="1.65" fill="#1a1a1a" stroke="none" stroke-width="1"/>
<circle cx="263.19" cy="489.90" r="1.65" fill="#1a1a1a" stroke="none" stroke-width="1"/>
<text x="267.79" y="567.80" font-size="10.4" text-anchor="end" transform="rotate(-90 267.79 567.80)">SIRT6</text>
<rect x="270.92" y="488.68" width="8.50" height="75.62" fill="#e3e4e5" stroke="#2b2b2b" stroke-width="0.9"/>
<line x1="275.17" y1="487.39" x2="275.17" y2="491.44" stroke="#231f20" stroke-width="0.9"/>
<line x1="272.17" y1="487.39" x2="278.17" y2="487.39" stroke="#231f20" stroke-width="0.9"/>
<line x1="272.17" y1="491.44" x2="278.17" y2="491.44" stroke="#231f20" stroke-width="0.9"/>
<circle cx="272.27" cy="487.87" r="1.65" fill="#1a1a1a" stroke="none" stroke-width="1"/>
<circle cx="278.07" cy="488.68" r="1.65" fill="#1a1a1a" stroke="none" stroke-width="1"/>
<circle cx="275.17" cy="492.08" r="1.65" fill="#1a1a1a" stroke="none" stroke-width="1"/>
<text x="279.77" y="567.80" font-size="10.4" text-anchor="end" transform="rotate(-90 279.77 567.80)">SUMO3</text>
<rect x="282.90" y="490.38" width="8.50" height="73.92" fill="#e3e4e5" stroke="#2b2b2b" stroke-width="0.9"/>
<line x1="287.15" y1="481.72" x2="287.15" y2="495.97" stroke="#231f20" stroke-width="0.9"/>
<line x1="284.15" y1="481.72" x2="290.15" y2="481.72" stroke="#231f20" stroke-width="0.9"/>
<line x1="284.15" y1="495.97" x2="290.15" y2="495.97" stroke="#231f20" stroke-width="0.9"/>
<circle cx="287.15" cy="482.29" r="1.65" fill="#1a1a1a" stroke="none" stroke-width="1"/>
<circle cx="284.25" cy="493.86" r="1.65" fill="#1a1a1a" stroke="none" stroke-width="1"/>
<circle cx="290.05" cy="493.86" r="1.65" fill="#1a1a1a" stroke="none" stroke-width="1"/>
<text x="291.75" y="567.80" font-size="10.4" text-anchor="end" transform="rotate(-90 291.75 567.80)">TP53BP2</text>
<rect x="294.88" y="487.47" width="8.50" height="76.83" fill="#e3e4e5" stroke="#2b2b2b" stroke-width="0.9"/>
<line x1="299.13" y1="480.75" x2="299.13" y2="493.30" stroke="#231f20" stroke-width="0.9"/>
<line x1="296.13" y1="480.75" x2="302.13" y2="480.75" stroke="#231f20" stroke-width="0.9"/>
<line x1="296.13" y1="493.30" x2="302.13" y2="493.30" stroke="#231f20" stroke-width="0.9"/>
<circle cx="299.13" cy="481.07" r="1.65" fill="#1a1a1a" stroke="none" stroke-width="1"/>
<circle cx="299.13" cy="488.68" r="1.65" fill="#1a1a1a" stroke="none" stroke-width="1"/>
<circle cx="299.13" cy="492.33" r="1.65" fill="#1a1a1a" stroke="none" stroke-width="1"/>
<text x="303.73" y="567.80" font-size="10.4" text-anchor="end" transform="rotate(-90 303.73 567.80)">TSPY1</text>
<line x1="39.40" y1="462.60" x2="39.40" y2="564.80" stroke="#231f20" stroke-width="1.1"/>
<line x1="35.40" y1="564.30" x2="39.40" y2="564.30" stroke="#231f20" stroke-width="1.1"/>
<text x="34.30" y="568.20" font-size="9.8" text-anchor="end" transform="matrix(1 0 0 0.93 0 39.774)">0</text>
<line x1="35.40" y1="544.06" x2="39.40" y2="544.06" stroke="#231f20" stroke-width="1.1"/>
<text x="34.30" y="547.96" font-size="9.8" text-anchor="end" transform="matrix(1 0 0 0.93 0 38.357)">25</text>
<line x1="35.40" y1="523.82" x2="39.40" y2="523.82" stroke="#231f20" stroke-width="1.1"/>
<text x="34.30" y="527.72" font-size="9.8" text-anchor="end" transform="matrix(1 0 0 0.93 0 36.940)">50</text>
<line x1="35.40" y1="503.58" x2="39.40" y2="503.58" stroke="#231f20" stroke-width="1.1"/>
<text x="34.30" y="507.48" font-size="9.8" text-anchor="end" transform="matrix(1 0 0 0.93 0 35.524)">75</text>
<line x1="35.40" y1="483.34" x2="39.40" y2="483.34" stroke="#231f20" stroke-width="1.1"/>
<text x="34.30" y="487.24" font-size="9.8" text-anchor="end" transform="matrix(1 0 0 0.93 0 34.107)">100</text>
<line x1="35.40" y1="463.10" x2="39.40" y2="463.10" stroke="#231f20" stroke-width="1.1"/>
<text x="34.30" y="467.00" font-size="9.8" text-anchor="end" transform="matrix(1 0 0 0.93 0 32.690)">125</text>
<text x="11.40" y="514.70" font-size="10.4" text-anchor="middle" transform="rotate(-90 11.40 514.70)">eGFP (% of WT)</text>
<text x="317.20" y="452.30" font-size="13" font-weight="bold" fill="#000">e</text>
<text x="415.80" y="453.30" font-size="10.4" transform="matrix(1 0 0 0.93 0 31.731)">EBOV replicon cell line</text>
<rect x="369.30" y="463.15" width="8.40" height="101.35" fill="#ffffff" stroke="#2b2b2b" stroke-width="0.9"/>
<circle cx="370.70" cy="463.15" r="1.60" fill="#1a1a1a" stroke="none" stroke-width="1"/>
<circle cx="373.50" cy="463.15" r="1.60" fill="#1a1a1a" stroke="none" stroke-width="1"/>
<circle cx="376.30" cy="463.15" r="1.60" fill="#1a1a1a" stroke="none" stroke-width="1"/>
<rect x="379.60" y="463.15" width="8.40" height="101.35" fill="#bdbdbd" stroke="#2b2b2b" stroke-width="0.9"/>
<circle cx="381.00" cy="463.15" r="1.60" fill="#1a1a1a" stroke="none" stroke-width="1"/>
<circle cx="383.80" cy="463.15" r="1.60" fill="#1a1a1a" stroke="none" stroke-width="1"/>
<circle cx="386.60" cy="463.15" r="1.60" fill="#1a1a1a" stroke="none" stroke-width="1"/>
<rect x="389.90" y="463.15" width="8.40" height="101.35" fill="#7f7f7f" stroke="#2b2b2b" stroke-width="0.9"/>
<circle cx="391.30" cy="463.15" r="1.60" fill="#1a1a1a" stroke="none" stroke-width="1"/>
<circle cx="394.10" cy="463.15" r="1.60" fill="#1a1a1a" stroke="none" stroke-width="1"/>
<circle cx="396.90" cy="463.15" r="1.60" fill="#1a1a1a" stroke="none" stroke-width="1"/>
<line x1="369.00" y1="567.60" x2="399.10" y2="567.60" stroke="#231f20" stroke-width="1.2"/>
<rect x="403.20" y="558.52" width="8.40" height="5.98" fill="#ffffff" stroke="#2b2b2b" stroke-width="0.9"/>
<circle cx="404.60" cy="558.22" r="1.60" fill="#1a1a1a" stroke="none" stroke-width="1"/>
<circle cx="407.40" cy="557.81" r="1.60" fill="#1a1a1a" stroke="none" stroke-width="1"/>
<circle cx="410.20" cy="558.01" r="1.60" fill="#1a1a1a" stroke="none" stroke-width="1"/>
<rect x="413.40" y="554.77" width="8.40" height="9.73" fill="#bdbdbd" stroke="#2b2b2b" stroke-width="0.9"/>
<circle cx="414.80" cy="554.57" r="1.60" fill="#1a1a1a" stroke="none" stroke-width="1"/>
<circle cx="417.60" cy="553.96" r="1.60" fill="#1a1a1a" stroke="none" stroke-width="1"/>
<circle cx="420.40" cy="554.37" r="1.60" fill="#1a1a1a" stroke="none" stroke-width="1"/>
<rect x="424.10" y="559.94" width="8.40" height="4.56" fill="#7f7f7f" stroke="#2b2b2b" stroke-width="0.9"/>
<circle cx="425.50" cy="559.84" r="1.60" fill="#1a1a1a" stroke="none" stroke-width="1"/>
<circle cx="428.30" cy="559.23" r="1.60" fill="#1a1a1a" stroke="none" stroke-width="1"/>
<circle cx="431.10" cy="560.45" r="1.60" fill="#1a1a1a" stroke="none" stroke-width="1"/>
<line x1="402.90" y1="567.60" x2="433.00" y2="567.60" stroke="#231f20" stroke-width="1.2"/>
<rect x="437.10" y="531.76" width="8.40" height="32.74" fill="#ffffff" stroke="#2b2b2b" stroke-width="0.9"/>
<line x1="441.30" y1="527.41" x2="441.30" y2="535.62" stroke="#231f20" stroke-width="0.9"/>
<line x1="438.30" y1="527.41" x2="444.30" y2="527.41" stroke="#231f20" stroke-width="0.9"/>
<line x1="438.30" y1="535.62" x2="444.30" y2="535.62" stroke="#231f20" stroke-width="0.9"/>
<circle cx="441.30" cy="527.10" r="1.60" fill="#1a1a1a" stroke="none" stroke-width="1"/>
<circle cx="438.50" cy="534.50" r="1.60" fill="#1a1a1a" stroke="none" stroke-width="1"/>
<circle cx="444.10" cy="534.10" r="1.60" fill="#1a1a1a" stroke="none" stroke-width="1"/>
<rect x="447.70" y="537.14" width="8.40" height="27.36" fill="#bdbdbd" stroke="#2b2b2b" stroke-width="0.9"/>
<line x1="451.90" y1="530.65" x2="451.90" y2="543.72" stroke="#231f20" stroke-width="0.9"/>
<line x1="448.90" y1="530.65" x2="454.90" y2="530.65" stroke="#231f20" stroke-width="0.9"/>
<line x1="448.90" y1="543.72" x2="454.90" y2="543.72" stroke="#231f20" stroke-width="0.9"/>
<circle cx="451.90" cy="530.65" r="1.60" fill="#1a1a1a" stroke="none" stroke-width="1"/>
<circle cx="449.10" cy="537.14" r="1.60" fill="#1a1a1a" stroke="none" stroke-width="1"/>
<circle cx="454.70" cy="543.52" r="1.60" fill="#1a1a1a" stroke="none" stroke-width="1"/>
<rect x="458.30" y="548.08" width="8.40" height="16.42" fill="#7f7f7f" stroke="#2b2b2b" stroke-width="0.9"/>
<line x1="462.50" y1="545.04" x2="462.50" y2="553.96" stroke="#231f20" stroke-width="0.9"/>
<line x1="459.50" y1="545.04" x2="465.50" y2="545.04" stroke="#231f20" stroke-width="0.9"/>
<line x1="459.50" y1="553.96" x2="465.50" y2="553.96" stroke="#231f20" stroke-width="0.9"/>
<circle cx="459.70" cy="545.24" r="1.60" fill="#1a1a1a" stroke="none" stroke-width="1"/>
<circle cx="465.30" cy="545.24" r="1.60" fill="#1a1a1a" stroke="none" stroke-width="1"/>
<circle cx="462.50" cy="553.96" r="1.60" fill="#1a1a1a" stroke="none" stroke-width="1"/>
<line x1="436.80" y1="567.60" x2="466.90" y2="567.60" stroke="#231f20" stroke-width="1.2"/>
<rect x="471.60" y="524.47" width="8.40" height="40.03" fill="#ffffff" stroke="#2b2b2b" stroke-width="0.9"/>
<line x1="475.80" y1="510.28" x2="475.80" y2="537.64" stroke="#231f20" stroke-width="0.9"/>
<line x1="472.80" y1="510.28" x2="478.80" y2="510.28" stroke="#231f20" stroke-width="0.9"/>
<line x1="472.80" y1="537.64" x2="478.80" y2="537.64" stroke="#231f20" stroke-width="0.9"/>
<circle cx="475.80" cy="510.28" r="1.60" fill="#1a1a1a" stroke="none" stroke-width="1"/>
<circle cx="473.00" cy="531.05" r="1.60" fill="#1a1a1a" stroke="none" stroke-width="1"/>
<circle cx="478.60" cy="533.59" r="1.60" fill="#1a1a1a" stroke="none" stroke-width="1"/>
<rect x="482.00" y="535.31" width="8.40" height="29.19" fill="#bdbdbd" stroke="#2b2b2b" stroke-width="0.9"/>
<line x1="486.20" y1="527.81" x2="486.20" y2="544.33" stroke="#231f20" stroke-width="0.9"/>
<line x1="483.20" y1="527.81" x2="489.20" y2="527.81" stroke="#231f20" stroke-width="0.9"/>
<line x1="483.20" y1="544.33" x2="489.20" y2="544.33" stroke="#231f20" stroke-width="0.9"/>
<circle cx="486.20" cy="527.81" r="1.60" fill="#1a1a1a" stroke="none" stroke-width="1"/>
<circle cx="486.20" cy="534.10" r="1.60" fill="#1a1a1a" stroke="none" stroke-width="1"/>
<circle cx="486.20" cy="544.33" r="1.60" fill="#1a1a1a" stroke="none" stroke-width="1"/>
<rect x="492.50" y="551.43" width="8.40" height="13.07" fill="#7f7f7f" stroke="#2b2b2b" stroke-width="0.9"/>
<line x1="496.70" y1="544.64" x2="496.70" y2="560.24" stroke="#231f20" stroke-width="0.9"/>
<line x1="493.70" y1="544.64" x2="499.70" y2="544.64" stroke="#231f20" stroke-width="0.9"/>
<line x1="493.70" y1="560.24" x2="499.70" y2="560.24" stroke="#231f20" stroke-width="0.9"/>
<circle cx="496.70" cy="544.64" r="1.60" fill="#1a1a1a" stroke="none" stroke-width="1"/>
<circle cx="496.70" cy="549.60" r="1.60" fill="#1a1a1a" stroke="none" stroke-width="1"/>
<circle cx="496.70" cy="560.24" r="1.60" fill="#1a1a1a" stroke="none" stroke-width="1"/>
<line x1="471.30" y1="567.60" x2="501.40" y2="567.60" stroke="#231f20" stroke-width="1.2"/>
<rect x="506.20" y="542.81" width="8.40" height="21.69" fill="#ffffff" stroke="#2b2b2b" stroke-width="0.9"/>
<circle cx="507.60" cy="542.81" r="1.60" fill="#1a1a1a" stroke="none" stroke-width="1"/>
<circle cx="510.40" cy="542.20" r="1.60" fill="#1a1a1a" stroke="none" stroke-width="1"/>
<circle cx="513.20" cy="542.61" r="1.60" fill="#1a1a1a" stroke="none" stroke-width="1"/>
<rect x="516.30" y="543.32" width="8.40" height="21.18" fill="#bdbdbd" stroke="#2b2b2b" stroke-width="0.9"/>
<line x1="520.50" y1="538.15" x2="520.50" y2="548.18" stroke="#231f20" stroke-width="0.9"/>
<line x1="517.50" y1="538.15" x2="523.50" y2="538.15" stroke="#231f20" stroke-width="0.9"/>
<line x1="517.50" y1="548.18" x2="523.50" y2="548.18" stroke="#231f20" stroke-width="0.9"/>
<circle cx="520.50" cy="538.15" r="1.60" fill="#1a1a1a" stroke="none" stroke-width="1"/>
<circle cx="520.50" cy="544.43" r="1.60" fill="#1a1a1a" stroke="none" stroke-width="1"/>
<circle cx="520.50" cy="548.18" r="1.60" fill="#1a1a1a" stroke="none" stroke-width="1"/>
<rect x="526.40" y="553.55" width="8.40" height="10.95" fill="#7f7f7f" stroke="#2b2b2b" stroke-width="0.9"/>
<line x1="530.60" y1="548.08" x2="530.60" y2="558.93" stroke="#231f20" stroke-width="0.9"/>
<line x1="527.60" y1="548.08" x2="533.60" y2="548.08" stroke="#231f20" stroke-width="0.9"/>
<line x1="527.60" y1="558.93" x2="533.60" y2="558.93" stroke="#231f20" stroke-width="0.9"/>
<circle cx="530.60" cy="548.08" r="1.60" fill="#1a1a1a" stroke="none" stroke-width="1"/>
<circle cx="530.60" cy="554.37" r="1.60" fill="#1a1a1a" stroke="none" stroke-width="1"/>
<circle cx="530.60" cy="558.93" r="1.60" fill="#1a1a1a" stroke="none" stroke-width="1"/>
<line x1="505.90" y1="567.60" x2="536.00" y2="567.60" stroke="#231f20" stroke-width="1.2"/>
<rect x="540.30" y="551.22" width="8.40" height="13.28" fill="#ffffff" stroke="#2b2b2b" stroke-width="0.9"/>
<line x1="544.50" y1="547.07" x2="544.50" y2="555.68" stroke="#231f20" stroke-width="0.9"/>
<line x1="541.50" y1="547.07" x2="547.50" y2="547.07" stroke="#231f20" stroke-width="0.9"/>
<line x1="541.50" y1="555.68" x2="547.50" y2="555.68" stroke="#231f20" stroke-width="0.9"/>
<circle cx="541.70" cy="548.08" r="1.60" fill="#1a1a1a" stroke="none" stroke-width="1"/>
<circle cx="547.30" cy="549.70" r="1.60" fill="#1a1a1a" stroke="none" stroke-width="1"/>
<circle cx="544.50" cy="555.68" r="1.60" fill="#1a1a1a" stroke="none" stroke-width="1"/>
<rect x="550.20" y="550.21" width="8.40" height="14.29" fill="#bdbdbd" stroke="#2b2b2b" stroke-width="0.9"/>
<line x1="554.40" y1="544.03" x2="554.40" y2="556.19" stroke="#231f20" stroke-width="0.9"/>
<line x1="551.40" y1="544.03" x2="557.40" y2="544.03" stroke="#231f20" stroke-width="0.9"/>
<line x1="551.40" y1="556.19" x2="557.40" y2="556.19" stroke="#231f20" stroke-width="0.9"/>
<circle cx="554.40" cy="544.03" r="1.60" fill="#1a1a1a" stroke="none" stroke-width="1"/>
<circle cx="554.40" cy="552.03" r="1.60" fill="#1a1a1a" stroke="none" stroke-width="1"/>
<circle cx="554.40" cy="554.77" r="1.60" fill="#1a1a1a" stroke="none" stroke-width="1"/>
<rect x="560.60" y="557.41" width="8.40" height="7.09" fill="#7f7f7f" stroke="#2b2b2b" stroke-width="0.9"/>
<line x1="564.80" y1="554.06" x2="564.80" y2="561.46" stroke="#231f20" stroke-width="0.9"/>
<line x1="561.80" y1="554.06" x2="567.80" y2="554.06" stroke="#231f20" stroke-width="0.9"/>
<line x1="561.80" y1="561.46" x2="567.80" y2="561.46" stroke="#231f20" stroke-width="0.9"/>
<circle cx="562.00" cy="554.57" r="1.60" fill="#1a1a1a" stroke="none" stroke-width="1"/>
<circle cx="567.60" cy="556.39" r="1.60" fill="#1a1a1a" stroke="none" stroke-width="1"/>
<circle cx="564.80" cy="561.46" r="1.60" fill="#1a1a1a" stroke="none" stroke-width="1"/>
<line x1="540.00" y1="567.60" x2="570.10" y2="567.60" stroke="#231f20" stroke-width="1.2"/>
<text x="387.80" y="570.60" font-size="10.4" text-anchor="end" transform="rotate(-90 387.80 570.60)">NT-sgRNA</text>
<text x="421.60" y="570.60" font-size="10.4" text-anchor="end" transform="rotate(-90 421.60 570.60)">EBOV L KO</text>
<text x="455.60" y="570.60" font-size="10.4" text-anchor="end" transform="rotate(-90 455.60 570.60)">DYNLL1 KO</text>
<text x="489.70" y="570.60" font-size="10.4" text-anchor="end" transform="rotate(-90 489.70 570.60)">USP7 KO</text>
<text x="524.20" y="570.60" font-size="10.4" text-anchor="end" transform="rotate(-90 524.20 570.60)">EHMT1 KO</text>
<text x="558.00" y="570.60" font-size="10.4" text-anchor="end" transform="rotate(-90 558.00 570.60)">EHMT2 KO</text>
<line x1="365.30" y1="462.80" x2="365.30" y2="565.00" stroke="#231f20" stroke-width="1.1"/>
<line x1="361.30" y1="564.50" x2="365.30" y2="564.50" stroke="#231f20" stroke-width="1.1"/>
<text x="360.00" y="568.40" font-size="9.8" text-anchor="end" transform="matrix(1 0 0 0.93 0 39.788)">0</text>
<line x1="361.30" y1="544.23" x2="365.30" y2="544.23" stroke="#231f20" stroke-width="1.1"/>
<text x="360.00" y="548.13" font-size="9.8" text-anchor="end" transform="matrix(1 0 0 0.93 0 38.369)">0.2</text>
<line x1="361.30" y1="523.96" x2="365.30" y2="523.96" stroke="#231f20" stroke-width="1.1"/>
<text x="360.00" y="527.86" font-size="9.8" text-anchor="end" transform="matrix(1 0 0 0.93 0 36.950)">0.4</text>
<line x1="361.30" y1="503.69" x2="365.30" y2="503.69" stroke="#231f20" stroke-width="1.1"/>
<text x="360.00" y="507.59" font-size="9.8" text-anchor="end" transform="matrix(1 0 0 0.93 0 35.531)">0.6</text>
<line x1="361.30" y1="483.42" x2="365.30" y2="483.42" stroke="#231f20" stroke-width="1.1"/>
<text x="360.00" y="487.32" font-size="9.8" text-anchor="end" transform="matrix(1 0 0 0.93 0 34.112)">0.8</text>
<line x1="361.30" y1="463.15" x2="365.30" y2="463.15" stroke="#231f20" stroke-width="1.1"/>
<text x="360.00" y="467.05" font-size="9.8" text-anchor="end" transform="matrix(1 0 0 0.93 0 32.693)">1.0</text>
<text x="327.60" y="513.90" font-size="10.4" text-anchor="middle" transform="rotate(-90 327.60 513.90)">Fold expression change</text>
<text x="338.60" y="513.90" font-size="10.4" text-anchor="middle" transform="rotate(-90 338.60 513.90)">(% of NT-sgRNA)</text>
<rect x="519.00" y="483.20" width="7.60" height="7.20" fill="#ffffff" stroke="#2b2b2b" stroke-width="0.9"/>
<text x="529.20" y="490.00" font-size="10.4" transform="matrix(1 0 0 0.93 0 34.300)">vRNA</text>
<rect x="519.00" y="494.00" width="7.60" height="7.20" fill="#bdbdbd" stroke="#2b2b2b" stroke-width="0.9"/>
<text x="529.20" y="500.80" font-size="10.4" transform="matrix(1 0 0 0.93 0 35.056)">cRNA</text>
<rect x="519.00" y="504.80" width="7.60" height="7.20" fill="#7f7f7f" stroke="#2b2b2b" stroke-width="0.9"/>
<text x="529.20" y="511.60" font-size="10.4" transform="matrix(1 0 0 0.93 0 35.812)">mRNA</text>
<text x="582.00" y="451.90" font-size="13" font-weight="bold" fill="#000">f</text>
<text x="607.40" y="453.60" font-size="10.4" transform="matrix(1 0 0 0.93 0 31.752)">Huh7.5.1 cell line</text>
<rect x="630.50" y="467.55" width="8.50" height="101.05" fill="#e3e4e5" stroke="#2b2b2b" stroke-width="0.9"/>
<circle cx="632.05" cy="467.55" r="1.65" fill="#1a1a1a" stroke="none" stroke-width="1"/>
<circle cx="633.85" cy="467.55" r="1.65" fill="#1a1a1a" stroke="none" stroke-width="1"/>
<circle cx="635.65" cy="467.55" r="1.65" fill="#1a1a1a" stroke="none" stroke-width="1"/>
<circle cx="637.45" cy="467.55" r="1.65" fill="#1a1a1a" stroke="none" stroke-width="1"/>
<text x="639.35" y="571.00" font-size="10.4" text-anchor="end" transform="rotate(-90 639.35 571.00)">NT-sgRNA</text>
<rect x="642.40" y="534.14" width="8.50" height="34.46" fill="#e3e4e5" stroke="#2b2b2b" stroke-width="0.9"/>
<line x1="646.65" y1="520.50" x2="646.65" y2="548.39" stroke="#231f20" stroke-width="0.9"/>
<line x1="643.65" y1="520.50" x2="649.65" y2="520.50" stroke="#231f20" stroke-width="0.9"/>
<line x1="643.65" y1="548.39" x2="649.65" y2="548.39" stroke="#231f20" stroke-width="0.9"/>
<circle cx="646.65" cy="514.74" r="1.65" fill="#1a1a1a" stroke="none" stroke-width="1"/>
<circle cx="646.65" cy="537.27" r="1.65" fill="#1a1a1a" stroke="none" stroke-width="1"/>
<circle cx="644.05" cy="543.34" r="1.65" fill="#1a1a1a" stroke="none" stroke-width="1"/>
<circle cx="649.55" cy="543.34" r="1.65" fill="#1a1a1a" stroke="none" stroke-width="1"/>
<text x="646.65" y="514.70" font-size="9.1" text-anchor="middle" transform="matrix(1 0 0 0.93 0 36.029)">****</text>
<text x="651.25" y="571.00" font-size="10.4" text-anchor="end" transform="rotate(-90 651.25 571.00)">USP7 KO</text>
<rect x="654.30" y="517.47" width="8.50" height="51.13" fill="#e3e4e5" stroke="#2b2b2b" stroke-width="0.9"/>
<line x1="658.55" y1="507.77" x2="658.55" y2="524.85" stroke="#231f20" stroke-width="0.9"/>
<line x1="655.55" y1="507.77" x2="661.55" y2="507.77" stroke="#231f20" stroke-width="0.9"/>
<line x1="655.55" y1="524.85" x2="661.55" y2="524.85" stroke="#231f20" stroke-width="0.9"/>
<circle cx="658.55" cy="508.48" r="1.65" fill="#1a1a1a" stroke="none" stroke-width="1"/>
<circle cx="658.55" cy="513.02" r="1.65" fill="#1a1a1a" stroke="none" stroke-width="1"/>
<circle cx="655.95" cy="525.15" r="1.65" fill="#1a1a1a" stroke="none" stroke-width="1"/>
<circle cx="661.25" cy="525.15" r="1.65" fill="#1a1a1a" stroke="none" stroke-width="1"/>
<text x="658.55" y="506.70" font-size="9.1" text-anchor="middle" transform="matrix(1 0 0 0.93 0 35.469)">****</text>
<text x="663.15" y="571.00" font-size="10.4" text-anchor="end" transform="rotate(-90 663.15 571.00)">EHMT1 KO</text>
<rect x="666.20" y="509.59" width="8.50" height="59.01" fill="#e3e4e5" stroke="#2b2b2b" stroke-width="0.9"/>
<line x1="670.45" y1="488.57" x2="670.45" y2="530.00" stroke="#231f20" stroke-width="0.9"/>
<line x1="667.45" y1="488.57" x2="673.45" y2="488.57" stroke="#231f20" stroke-width="0.9"/>
<line x1="667.45" y1="530.00" x2="673.45" y2="530.00" stroke="#231f20" stroke-width="0.9"/>
<circle cx="673.15" cy="490.99" r="1.65" fill="#1a1a1a" stroke="none" stroke-width="1"/>
<circle cx="667.55" cy="493.52" r="1.65" fill="#1a1a1a" stroke="none" stroke-width="1"/>
<circle cx="670.45" cy="516.26" r="1.65" fill="#1a1a1a" stroke="none" stroke-width="1"/>
<circle cx="670.45" cy="535.05" r="1.65" fill="#1a1a1a" stroke="none" stroke-width="1"/>
<text x="670.45" y="488.20" font-size="9.1" text-anchor="middle" transform="matrix(1 0 0 0.93 0 34.174)">**</text>
<text x="675.05" y="571.00" font-size="10.4" text-anchor="end" transform="rotate(-90 675.05 571.00)">EHMT2 KO</text>
<line x1="626.60" y1="467.00" x2="626.60" y2="569.10" stroke="#231f20" stroke-width="1.1"/>
<line x1="622.60" y1="568.60" x2="626.60" y2="568.60" stroke="#231f20" stroke-width="1.1"/>
<text x="621.30" y="572.50" font-size="9.8" text-anchor="end" transform="matrix(1 0 0 0.93 0 40.075)">0</text>
<line x1="622.60" y1="548.39" x2="626.60" y2="548.39" stroke="#231f20" stroke-width="1.1"/>
<text x="621.30" y="552.29" font-size="9.8" text-anchor="end" transform="matrix(1 0 0 0.93 0 38.660)">20</text>
<line x1="622.60" y1="528.18" x2="626.60" y2="528.18" stroke="#231f20" stroke-width="1.1"/>
<text x="621.30" y="532.08" font-size="9.8" text-anchor="end" transform="matrix(1 0 0 0.93 0 37.246)">40</text>
<line x1="622.60" y1="507.97" x2="626.60" y2="507.97" stroke="#231f20" stroke-width="1.1"/>
<text x="621.30" y="511.87" font-size="9.8" text-anchor="end" transform="matrix(1 0 0 0.93 0 35.831)">60</text>
<line x1="622.60" y1="487.76" x2="626.60" y2="487.76" stroke="#231f20" stroke-width="1.1"/>
<text x="621.30" y="491.66" font-size="9.8" text-anchor="end" transform="matrix(1 0 0 0.93 0 34.416)">80</text>
<line x1="622.60" y1="467.55" x2="626.60" y2="467.55" stroke="#231f20" stroke-width="1.1"/>
<text x="621.30" y="471.45" font-size="9.8" text-anchor="end" transform="matrix(1 0 0 0.93 0 33.001)">100</text>
<text x="591.60" y="517.50" font-size="10.4" text-anchor="middle" transform="rotate(-90 591.60 517.50)">Luminescence</text>
<text x="602.40" y="517.50" font-size="10.4" text-anchor="middle" transform="rotate(-90 602.40 517.50)">(% of NT-sgRNA)</text>
</svg>
</body></html>
